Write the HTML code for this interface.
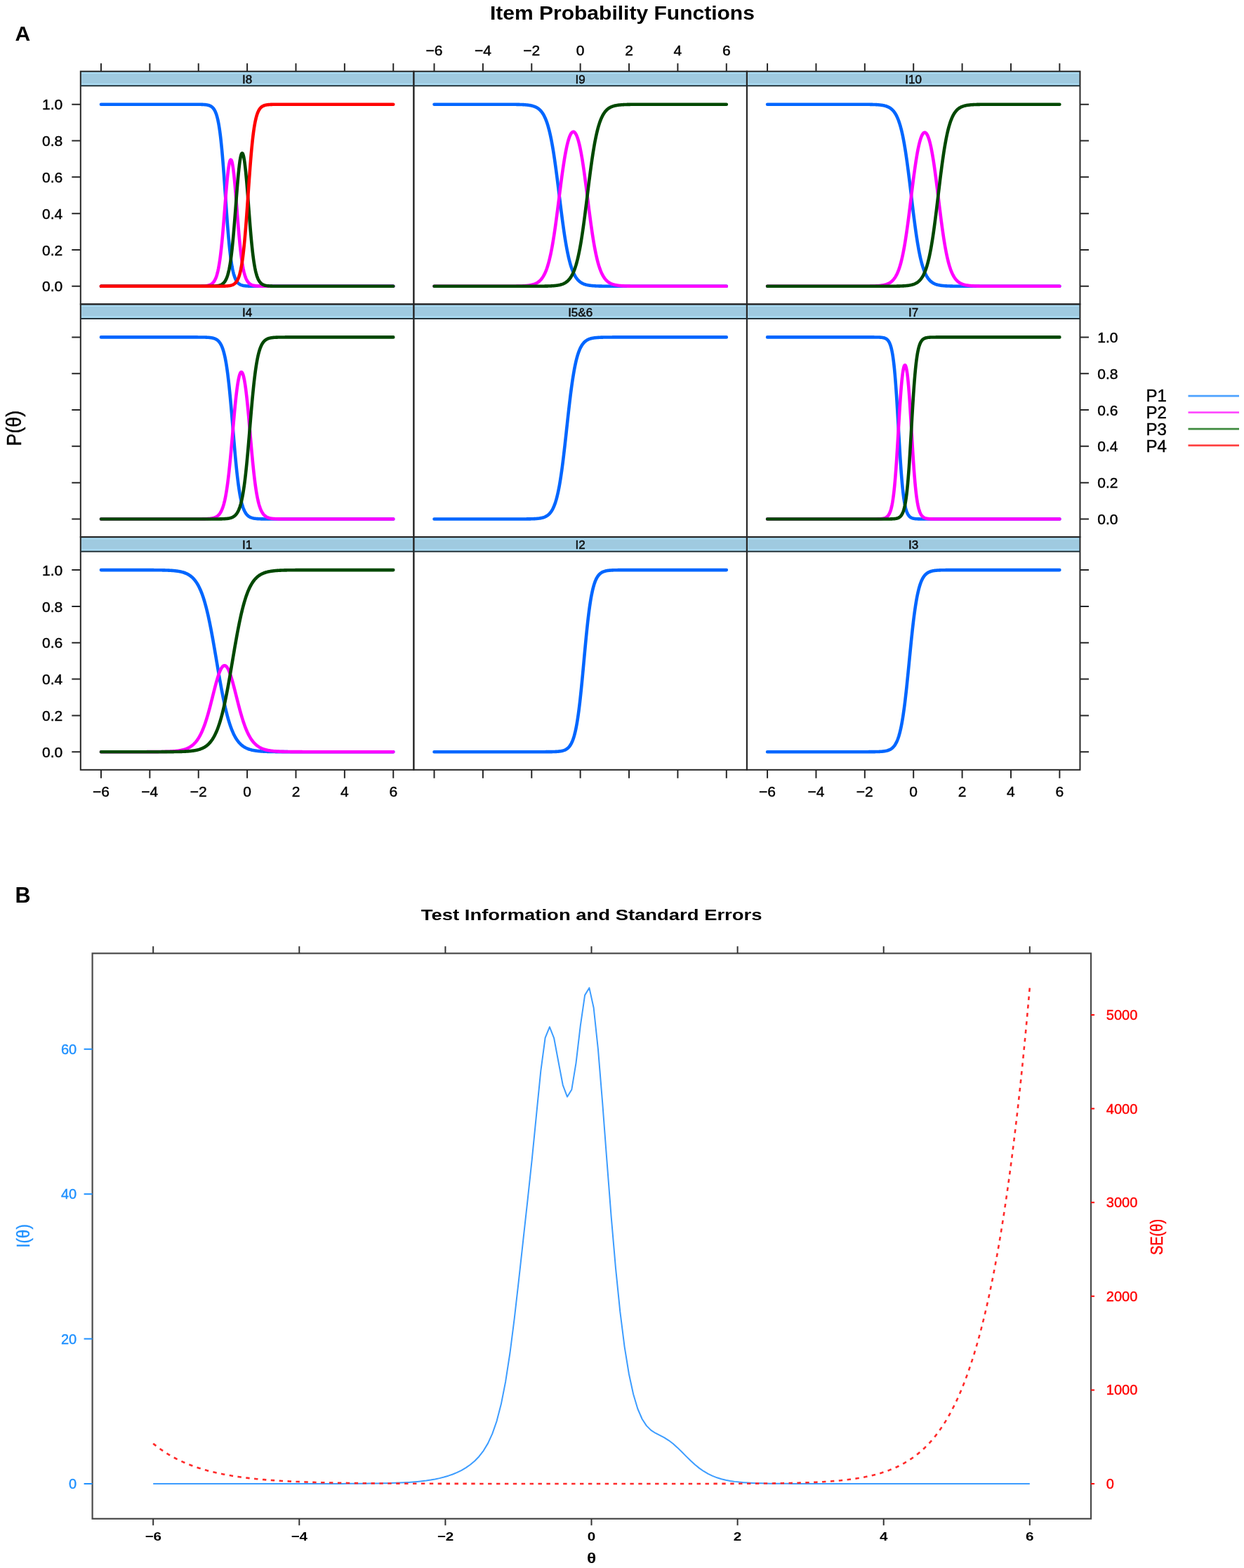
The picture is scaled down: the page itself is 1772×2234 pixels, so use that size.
<!DOCTYPE html>
<html><head><meta charset="utf-8"><title>Item Probability Functions</title>
<style>html,body{margin:0;padding:0;background:#fff;}svg{display:block;}</style></head>
<body><svg width="1772" height="2234" viewBox="0 0 1772 2234">
<rect width="1772" height="2234" fill="#fff"/>
<text x="21.6" y="57.7" font-family="'Liberation Sans', Arial, Helvetica, sans-serif" font-weight="bold" font-size="30">A</text>
<text x="697.9" y="27.7" font-family="'Liberation Sans', Arial, Helvetica, sans-serif" font-weight="bold" font-size="28" textLength="377" lengthAdjust="spacingAndGlyphs">Item Probability Functions</text>
<rect x="114.80" y="101.70" width="474.55" height="20.60" fill="#9fcae0"/>
<rect x="116.30" y="102.90" width="471.55" height="2.2" fill="#aadcf4"/>
<rect x="116.30" y="118.90" width="471.55" height="2.2" fill="#aadcf4"/>
<text x="352.07" y="119.00" font-family="'Liberation Sans', Arial, Helvetica, sans-serif" font-size="17" text-anchor="middle" fill="#111" stroke="#000" stroke-width="0.45">I8</text>
<polyline points="143.96,148.70 144.65,148.70 145.35,148.70 146.04,148.70 146.74,148.70 147.43,148.70 148.12,148.70 148.82,148.70 149.51,148.70 150.20,148.70 150.90,148.70 151.59,148.70 152.29,148.70 152.98,148.70 153.67,148.70 154.37,148.70 155.06,148.70 155.75,148.70 156.45,148.70 157.14,148.70 157.84,148.70 158.53,148.70 159.22,148.70 159.92,148.70 160.61,148.70 161.31,148.70 162.00,148.70 162.69,148.70 163.39,148.70 164.08,148.70 164.77,148.70 165.47,148.70 166.16,148.70 166.86,148.70 167.55,148.70 168.24,148.70 168.94,148.70 169.63,148.70 170.32,148.70 171.02,148.70 171.71,148.70 172.41,148.70 173.10,148.70 173.79,148.70 174.49,148.70 175.18,148.70 175.87,148.70 176.57,148.70 177.26,148.70 177.96,148.70 178.65,148.70 179.34,148.70 180.04,148.70 180.73,148.70 181.43,148.70 182.12,148.70 182.81,148.70 183.51,148.70 184.20,148.70 184.89,148.70 185.59,148.70 186.28,148.70 186.98,148.70 187.67,148.70 188.36,148.70 189.06,148.70 189.75,148.70 190.44,148.70 191.14,148.70 191.83,148.70 192.53,148.70 193.22,148.70 193.91,148.70 194.61,148.70 195.30,148.70 196.00,148.70 196.69,148.70 197.38,148.70 198.08,148.70 198.77,148.70 199.46,148.70 200.16,148.70 200.85,148.70 201.55,148.70 202.24,148.70 202.93,148.70 203.63,148.70 204.32,148.70 205.01,148.70 205.71,148.70 206.40,148.70 207.10,148.70 207.79,148.70 208.48,148.70 209.18,148.70 209.87,148.70 210.56,148.70 211.26,148.70 211.95,148.70 212.65,148.70 213.34,148.70 214.03,148.70 214.73,148.70 215.42,148.70 216.12,148.70 216.81,148.70 217.50,148.70 218.20,148.70 218.89,148.70 219.58,148.70 220.28,148.70 220.97,148.70 221.67,148.70 222.36,148.70 223.05,148.70 223.75,148.70 224.44,148.70 225.13,148.70 225.83,148.70 226.52,148.70 227.22,148.70 227.91,148.70 228.60,148.70 229.30,148.70 229.99,148.70 230.69,148.70 231.38,148.70 232.07,148.70 232.77,148.70 233.46,148.70 234.15,148.70 234.85,148.70 235.54,148.70 236.24,148.70 236.93,148.70 237.62,148.70 238.32,148.70 239.01,148.70 239.70,148.70 240.40,148.70 241.09,148.70 241.79,148.70 242.48,148.70 243.17,148.70 243.87,148.70 244.56,148.70 245.25,148.70 245.95,148.70 246.64,148.70 247.34,148.70 248.03,148.70 248.72,148.70 249.42,148.70 250.11,148.70 250.81,148.70 251.50,148.70 252.19,148.70 252.89,148.70 253.58,148.70 254.27,148.70 254.97,148.70 255.66,148.70 256.36,148.70 257.05,148.70 257.74,148.70 258.44,148.70 259.13,148.70 259.82,148.70 260.52,148.70 261.21,148.70 261.91,148.70 262.60,148.70 263.29,148.70 263.99,148.70 264.68,148.70 265.38,148.70 266.07,148.70 266.76,148.70 267.46,148.70 268.15,148.70 268.84,148.70 269.54,148.70 270.23,148.70 270.93,148.70 271.62,148.70 272.31,148.71 273.01,148.71 273.70,148.71 274.39,148.71 275.09,148.71 275.78,148.71 276.48,148.71 277.17,148.72 277.86,148.72 278.56,148.72 279.25,148.72 279.94,148.73 280.64,148.73 281.33,148.74 282.03,148.75 282.72,148.75 283.41,148.76 284.11,148.77 284.80,148.78 285.50,148.80 286.19,148.82 286.88,148.83 287.58,148.86 288.27,148.88 288.96,148.91 289.66,148.95 290.35,148.99 291.05,149.04 291.74,149.09 292.43,149.16 293.13,149.24 293.82,149.32 294.51,149.43 295.21,149.55 295.90,149.69 296.60,149.85 297.29,150.04 297.98,150.27 298.68,150.52 299.37,150.82 300.07,151.17 300.76,151.58 301.45,152.05 302.15,152.60 302.84,153.24 303.53,153.98 304.23,154.83 304.92,155.82 305.62,156.97 306.31,158.29 307.00,159.81 307.70,161.57 308.39,163.58 309.08,165.89 309.78,168.53 310.47,171.54 311.17,174.95 311.86,178.80 312.55,183.14 313.25,187.99 313.94,193.39 314.63,199.37 315.33,205.92 316.02,213.07 316.72,220.79 317.41,229.05 318.10,237.81 318.80,247.00 319.49,256.53 320.19,266.32 320.88,276.24 321.57,286.18 322.27,296.04 322.96,305.68 323.65,315.02 324.35,323.96 325.04,332.43 325.74,340.38 326.43,347.76 327.12,354.55 327.82,360.76 328.51,366.39 329.20,371.47 329.90,376.01 330.59,380.05 331.29,383.64 331.98,386.80 332.67,389.58 333.37,392.02 334.06,394.15 334.75,396.01 335.45,397.62 336.14,399.02 336.84,400.24 337.53,401.29 338.22,402.19 338.92,402.98 339.61,403.65 340.31,404.24 341.00,404.74 341.69,405.17 342.39,405.54 343.08,405.86 343.77,406.14 344.47,406.37 345.16,406.57 345.86,406.75 346.55,406.90 347.24,407.03 347.94,407.14 348.63,407.23 349.32,407.31 350.02,407.38 350.71,407.44 351.41,407.49 352.10,407.54 352.79,407.57 353.49,407.61 354.18,407.63 354.88,407.66 355.57,407.68 356.26,407.69 356.96,407.71 357.65,407.72 358.34,407.73 359.04,407.74 359.73,407.75 360.43,407.76 361.12,407.76 361.81,407.77 362.51,407.77 363.20,407.78 363.89,407.78 364.59,407.78 365.28,407.79 365.98,407.79 366.67,407.79 367.36,407.79 368.06,407.79 368.75,407.79 369.45,407.79 370.14,407.80 370.83,407.80 371.53,407.80 372.22,407.80 372.91,407.80 373.61,407.80 374.30,407.80 375.00,407.80 375.69,407.80 376.38,407.80 377.08,407.80 377.77,407.80 378.46,407.80 379.16,407.80 379.85,407.80 380.55,407.80 381.24,407.80 381.93,407.80 382.63,407.80 383.32,407.80 384.01,407.80 384.71,407.80 385.40,407.80 386.10,407.80 386.79,407.80 387.48,407.80 388.18,407.80 388.87,407.80 389.57,407.80 390.26,407.80 390.95,407.80 391.65,407.80 392.34,407.80 393.03,407.80 393.73,407.80 394.42,407.80 395.12,407.80 395.81,407.80 396.50,407.80 397.20,407.80 397.89,407.80 398.58,407.80 399.28,407.80 399.97,407.80 400.67,407.80 401.36,407.80 402.05,407.80 402.75,407.80 403.44,407.80 404.13,407.80 404.83,407.80 405.52,407.80 406.22,407.80 406.91,407.80 407.60,407.80 408.30,407.80 408.99,407.80 409.69,407.80 410.38,407.80 411.07,407.80 411.77,407.80 412.46,407.80 413.15,407.80 413.85,407.80 414.54,407.80 415.24,407.80 415.93,407.80 416.62,407.80 417.32,407.80 418.01,407.80 418.70,407.80 419.40,407.80 420.09,407.80 420.79,407.80 421.48,407.80 422.17,407.80 422.87,407.80 423.56,407.80 424.26,407.80 424.95,407.80 425.64,407.80 426.34,407.80 427.03,407.80 427.72,407.80 428.42,407.80 429.11,407.80 429.81,407.80 430.50,407.80 431.19,407.80 431.89,407.80 432.58,407.80 433.27,407.80 433.97,407.80 434.66,407.80 435.36,407.80 436.05,407.80 436.74,407.80 437.44,407.80 438.13,407.80 438.83,407.80 439.52,407.80 440.21,407.80 440.91,407.80 441.60,407.80 442.29,407.80 442.99,407.80 443.68,407.80 444.38,407.80 445.07,407.80 445.76,407.80 446.46,407.80 447.15,407.80 447.84,407.80 448.54,407.80 449.23,407.80 449.93,407.80 450.62,407.80 451.31,407.80 452.01,407.80 452.70,407.80 453.39,407.80 454.09,407.80 454.78,407.80 455.48,407.80 456.17,407.80 456.86,407.80 457.56,407.80 458.25,407.80 458.95,407.80 459.64,407.80 460.33,407.80 461.03,407.80 461.72,407.80 462.41,407.80 463.11,407.80 463.80,407.80 464.50,407.80 465.19,407.80 465.88,407.80 466.58,407.80 467.27,407.80 467.96,407.80 468.66,407.80 469.35,407.80 470.05,407.80 470.74,407.80 471.43,407.80 472.13,407.80 472.82,407.80 473.51,407.80 474.21,407.80 474.90,407.80 475.60,407.80 476.29,407.80 476.98,407.80 477.68,407.80 478.37,407.80 479.07,407.80 479.76,407.80 480.45,407.80 481.15,407.80 481.84,407.80 482.53,407.80 483.23,407.80 483.92,407.80 484.62,407.80 485.31,407.80 486.00,407.80 486.70,407.80 487.39,407.80 488.08,407.80 488.78,407.80 489.47,407.80 490.17,407.80 490.86,407.80 491.55,407.80 492.25,407.80 492.94,407.80 493.64,407.80 494.33,407.80 495.02,407.80 495.72,407.80 496.41,407.80 497.10,407.80 497.80,407.80 498.49,407.80 499.19,407.80 499.88,407.80 500.57,407.80 501.27,407.80 501.96,407.80 502.65,407.80 503.35,407.80 504.04,407.80 504.74,407.80 505.43,407.80 506.12,407.80 506.82,407.80 507.51,407.80 508.21,407.80 508.90,407.80 509.59,407.80 510.29,407.80 510.98,407.80 511.67,407.80 512.37,407.80 513.06,407.80 513.76,407.80 514.45,407.80 515.14,407.80 515.84,407.80 516.53,407.80 517.22,407.80 517.92,407.80 518.61,407.80 519.31,407.80 520.00,407.80 520.69,407.80 521.39,407.80 522.08,407.80 522.77,407.80 523.47,407.80 524.16,407.80 524.86,407.80 525.55,407.80 526.24,407.80 526.94,407.80 527.63,407.80 528.33,407.80 529.02,407.80 529.71,407.80 530.41,407.80 531.10,407.80 531.79,407.80 532.49,407.80 533.18,407.80 533.88,407.80 534.57,407.80 535.26,407.80 535.96,407.80 536.65,407.80 537.34,407.80 538.04,407.80 538.73,407.80 539.43,407.80 540.12,407.80 540.81,407.80 541.51,407.80 542.20,407.80 542.89,407.80 543.59,407.80 544.28,407.80 544.98,407.80 545.67,407.80 546.36,407.80 547.06,407.80 547.75,407.80 548.45,407.80 549.14,407.80 549.83,407.80 550.53,407.80 551.22,407.80 551.91,407.80 552.61,407.80 553.30,407.80 554.00,407.80 554.69,407.80 555.38,407.80 556.08,407.80 556.77,407.80 557.46,407.80 558.16,407.80 558.85,407.80 559.55,407.80 560.24,407.80" fill="none" stroke="#0066ff" stroke-width="4.6" stroke-linecap="round" stroke-linejoin="round"/>
<polyline points="143.96,407.80 144.65,407.80 145.35,407.80 146.04,407.80 146.74,407.80 147.43,407.80 148.12,407.80 148.82,407.80 149.51,407.80 150.20,407.80 150.90,407.80 151.59,407.80 152.29,407.80 152.98,407.80 153.67,407.80 154.37,407.80 155.06,407.80 155.75,407.80 156.45,407.80 157.14,407.80 157.84,407.80 158.53,407.80 159.22,407.80 159.92,407.80 160.61,407.80 161.31,407.80 162.00,407.80 162.69,407.80 163.39,407.80 164.08,407.80 164.77,407.80 165.47,407.80 166.16,407.80 166.86,407.80 167.55,407.80 168.24,407.80 168.94,407.80 169.63,407.80 170.32,407.80 171.02,407.80 171.71,407.80 172.41,407.80 173.10,407.80 173.79,407.80 174.49,407.80 175.18,407.80 175.87,407.80 176.57,407.80 177.26,407.80 177.96,407.80 178.65,407.80 179.34,407.80 180.04,407.80 180.73,407.80 181.43,407.80 182.12,407.80 182.81,407.80 183.51,407.80 184.20,407.80 184.89,407.80 185.59,407.80 186.28,407.80 186.98,407.80 187.67,407.80 188.36,407.80 189.06,407.80 189.75,407.80 190.44,407.80 191.14,407.80 191.83,407.80 192.53,407.80 193.22,407.80 193.91,407.80 194.61,407.80 195.30,407.80 196.00,407.80 196.69,407.80 197.38,407.80 198.08,407.80 198.77,407.80 199.46,407.80 200.16,407.80 200.85,407.80 201.55,407.80 202.24,407.80 202.93,407.80 203.63,407.80 204.32,407.80 205.01,407.80 205.71,407.80 206.40,407.80 207.10,407.80 207.79,407.80 208.48,407.80 209.18,407.80 209.87,407.80 210.56,407.80 211.26,407.80 211.95,407.80 212.65,407.80 213.34,407.80 214.03,407.80 214.73,407.80 215.42,407.80 216.12,407.80 216.81,407.80 217.50,407.80 218.20,407.80 218.89,407.80 219.58,407.80 220.28,407.80 220.97,407.80 221.67,407.80 222.36,407.80 223.05,407.80 223.75,407.80 224.44,407.80 225.13,407.80 225.83,407.80 226.52,407.80 227.22,407.80 227.91,407.80 228.60,407.80 229.30,407.80 229.99,407.80 230.69,407.80 231.38,407.80 232.07,407.80 232.77,407.80 233.46,407.80 234.15,407.80 234.85,407.80 235.54,407.80 236.24,407.80 236.93,407.80 237.62,407.80 238.32,407.80 239.01,407.80 239.70,407.80 240.40,407.80 241.09,407.80 241.79,407.80 242.48,407.80 243.17,407.80 243.87,407.80 244.56,407.80 245.25,407.80 245.95,407.80 246.64,407.80 247.34,407.80 248.03,407.80 248.72,407.80 249.42,407.80 250.11,407.80 250.81,407.80 251.50,407.80 252.19,407.80 252.89,407.80 253.58,407.80 254.27,407.80 254.97,407.80 255.66,407.80 256.36,407.80 257.05,407.80 257.74,407.80 258.44,407.80 259.13,407.80 259.82,407.80 260.52,407.80 261.21,407.80 261.91,407.80 262.60,407.80 263.29,407.80 263.99,407.80 264.68,407.80 265.38,407.80 266.07,407.80 266.76,407.80 267.46,407.80 268.15,407.80 268.84,407.80 269.54,407.80 270.23,407.80 270.93,407.80 271.62,407.80 272.31,407.79 273.01,407.79 273.70,407.79 274.39,407.79 275.09,407.79 275.78,407.79 276.48,407.79 277.17,407.78 277.86,407.78 278.56,407.78 279.25,407.78 279.94,407.77 280.64,407.77 281.33,407.76 282.03,407.76 282.72,407.75 283.41,407.74 284.11,407.73 284.80,407.72 285.50,407.70 286.19,407.69 286.88,407.67 287.58,407.65 288.27,407.62 288.96,407.59 289.66,407.56 290.35,407.52 291.05,407.47 291.74,407.42 292.43,407.36 293.13,407.28 293.82,407.20 294.51,407.10 295.21,406.98 295.90,406.84 296.60,406.68 297.29,406.50 297.98,406.29 298.68,406.04 299.37,405.75 300.07,405.41 300.76,405.01 301.45,404.56 302.15,404.03 302.84,403.41 303.53,402.70 304.23,401.87 304.92,400.91 305.62,399.81 306.31,398.53 307.00,397.06 307.70,395.37 308.39,393.42 309.08,391.20 309.78,388.66 310.47,385.77 311.17,382.49 311.86,378.79 312.55,374.63 313.25,369.99 313.94,364.83 314.63,359.14 315.33,352.92 316.02,346.16 316.72,338.88 317.41,331.14 318.10,322.98 318.80,314.50 319.49,305.77 320.19,296.93 320.88,288.09 321.57,279.40 322.27,271.00 322.96,263.02 323.65,255.60 324.35,248.85 325.04,242.90 325.74,237.82 326.43,233.70 327.12,230.59 327.82,228.54 328.51,227.57 329.20,227.70 329.90,228.92 330.59,231.22 331.29,234.57 331.98,238.92 332.67,244.20 333.37,250.35 334.06,257.26 334.75,264.83 335.45,272.92 336.14,281.40 336.84,290.14 337.53,298.99 338.22,307.81 338.92,316.49 339.61,324.91 340.31,332.98 341.00,340.62 341.69,347.77 342.39,354.41 343.08,360.51 343.77,366.08 344.47,371.11 345.16,375.64 345.86,379.69 346.55,383.29 347.24,386.47 347.94,389.28 348.63,391.74 349.32,393.90 350.02,395.78 350.71,397.42 351.41,398.84 352.10,400.08 352.79,401.15 353.49,402.07 354.18,402.87 354.88,403.56 355.57,404.16 356.26,404.67 356.96,405.11 357.65,405.49 358.34,405.82 359.04,406.10 359.73,406.34 360.43,406.55 361.12,406.72 361.81,406.88 362.51,407.01 363.20,407.12 363.89,407.22 364.59,407.30 365.28,407.37 365.98,407.43 366.67,407.48 367.36,407.53 368.06,407.57 368.75,407.60 369.45,407.63 370.14,407.65 370.83,407.67 371.53,407.69 372.22,407.71 372.91,407.72 373.61,407.73 374.30,407.74 375.00,407.75 375.69,407.76 376.38,407.76 377.08,407.77 377.77,407.77 378.46,407.78 379.16,407.78 379.85,407.78 380.55,407.79 381.24,407.79 381.93,407.79 382.63,407.79 383.32,407.79 384.01,407.79 384.71,407.79 385.40,407.80 386.10,407.80 386.79,407.80 387.48,407.80 388.18,407.80 388.87,407.80 389.57,407.80 390.26,407.80 390.95,407.80 391.65,407.80 392.34,407.80 393.03,407.80 393.73,407.80 394.42,407.80 395.12,407.80 395.81,407.80 396.50,407.80 397.20,407.80 397.89,407.80 398.58,407.80 399.28,407.80 399.97,407.80 400.67,407.80 401.36,407.80 402.05,407.80 402.75,407.80 403.44,407.80 404.13,407.80 404.83,407.80 405.52,407.80 406.22,407.80 406.91,407.80 407.60,407.80 408.30,407.80 408.99,407.80 409.69,407.80 410.38,407.80 411.07,407.80 411.77,407.80 412.46,407.80 413.15,407.80 413.85,407.80 414.54,407.80 415.24,407.80 415.93,407.80 416.62,407.80 417.32,407.80 418.01,407.80 418.70,407.80 419.40,407.80 420.09,407.80 420.79,407.80 421.48,407.80 422.17,407.80 422.87,407.80 423.56,407.80 424.26,407.80 424.95,407.80 425.64,407.80 426.34,407.80 427.03,407.80 427.72,407.80 428.42,407.80 429.11,407.80 429.81,407.80 430.50,407.80 431.19,407.80 431.89,407.80 432.58,407.80 433.27,407.80 433.97,407.80 434.66,407.80 435.36,407.80 436.05,407.80 436.74,407.80 437.44,407.80 438.13,407.80 438.83,407.80 439.52,407.80 440.21,407.80 440.91,407.80 441.60,407.80 442.29,407.80 442.99,407.80 443.68,407.80 444.38,407.80 445.07,407.80 445.76,407.80 446.46,407.80 447.15,407.80 447.84,407.80 448.54,407.80 449.23,407.80 449.93,407.80 450.62,407.80 451.31,407.80 452.01,407.80 452.70,407.80 453.39,407.80 454.09,407.80 454.78,407.80 455.48,407.80 456.17,407.80 456.86,407.80 457.56,407.80 458.25,407.80 458.95,407.80 459.64,407.80 460.33,407.80 461.03,407.80 461.72,407.80 462.41,407.80 463.11,407.80 463.80,407.80 464.50,407.80 465.19,407.80 465.88,407.80 466.58,407.80 467.27,407.80 467.96,407.80 468.66,407.80 469.35,407.80 470.05,407.80 470.74,407.80 471.43,407.80 472.13,407.80 472.82,407.80 473.51,407.80 474.21,407.80 474.90,407.80 475.60,407.80 476.29,407.80 476.98,407.80 477.68,407.80 478.37,407.80 479.07,407.80 479.76,407.80 480.45,407.80 481.15,407.80 481.84,407.80 482.53,407.80 483.23,407.80 483.92,407.80 484.62,407.80 485.31,407.80 486.00,407.80 486.70,407.80 487.39,407.80 488.08,407.80 488.78,407.80 489.47,407.80 490.17,407.80 490.86,407.80 491.55,407.80 492.25,407.80 492.94,407.80 493.64,407.80 494.33,407.80 495.02,407.80 495.72,407.80 496.41,407.80 497.10,407.80 497.80,407.80 498.49,407.80 499.19,407.80 499.88,407.80 500.57,407.80 501.27,407.80 501.96,407.80 502.65,407.80 503.35,407.80 504.04,407.80 504.74,407.80 505.43,407.80 506.12,407.80 506.82,407.80 507.51,407.80 508.21,407.80 508.90,407.80 509.59,407.80 510.29,407.80 510.98,407.80 511.67,407.80 512.37,407.80 513.06,407.80 513.76,407.80 514.45,407.80 515.14,407.80 515.84,407.80 516.53,407.80 517.22,407.80 517.92,407.80 518.61,407.80 519.31,407.80 520.00,407.80 520.69,407.80 521.39,407.80 522.08,407.80 522.77,407.80 523.47,407.80 524.16,407.80 524.86,407.80 525.55,407.80 526.24,407.80 526.94,407.80 527.63,407.80 528.33,407.80 529.02,407.80 529.71,407.80 530.41,407.80 531.10,407.80 531.79,407.80 532.49,407.80 533.18,407.80 533.88,407.80 534.57,407.80 535.26,407.80 535.96,407.80 536.65,407.80 537.34,407.80 538.04,407.80 538.73,407.80 539.43,407.80 540.12,407.80 540.81,407.80 541.51,407.80 542.20,407.80 542.89,407.80 543.59,407.80 544.28,407.80 544.98,407.80 545.67,407.80 546.36,407.80 547.06,407.80 547.75,407.80 548.45,407.80 549.14,407.80 549.83,407.80 550.53,407.80 551.22,407.80 551.91,407.80 552.61,407.80 553.30,407.80 554.00,407.80 554.69,407.80 555.38,407.80 556.08,407.80 556.77,407.80 557.46,407.80 558.16,407.80 558.85,407.80 559.55,407.80 560.24,407.80" fill="none" stroke="#ff00ff" stroke-width="4.6" stroke-linecap="round" stroke-linejoin="round"/>
<polyline points="143.96,407.80 144.65,407.80 145.35,407.80 146.04,407.80 146.74,407.80 147.43,407.80 148.12,407.80 148.82,407.80 149.51,407.80 150.20,407.80 150.90,407.80 151.59,407.80 152.29,407.80 152.98,407.80 153.67,407.80 154.37,407.80 155.06,407.80 155.75,407.80 156.45,407.80 157.14,407.80 157.84,407.80 158.53,407.80 159.22,407.80 159.92,407.80 160.61,407.80 161.31,407.80 162.00,407.80 162.69,407.80 163.39,407.80 164.08,407.80 164.77,407.80 165.47,407.80 166.16,407.80 166.86,407.80 167.55,407.80 168.24,407.80 168.94,407.80 169.63,407.80 170.32,407.80 171.02,407.80 171.71,407.80 172.41,407.80 173.10,407.80 173.79,407.80 174.49,407.80 175.18,407.80 175.87,407.80 176.57,407.80 177.26,407.80 177.96,407.80 178.65,407.80 179.34,407.80 180.04,407.80 180.73,407.80 181.43,407.80 182.12,407.80 182.81,407.80 183.51,407.80 184.20,407.80 184.89,407.80 185.59,407.80 186.28,407.80 186.98,407.80 187.67,407.80 188.36,407.80 189.06,407.80 189.75,407.80 190.44,407.80 191.14,407.80 191.83,407.80 192.53,407.80 193.22,407.80 193.91,407.80 194.61,407.80 195.30,407.80 196.00,407.80 196.69,407.80 197.38,407.80 198.08,407.80 198.77,407.80 199.46,407.80 200.16,407.80 200.85,407.80 201.55,407.80 202.24,407.80 202.93,407.80 203.63,407.80 204.32,407.80 205.01,407.80 205.71,407.80 206.40,407.80 207.10,407.80 207.79,407.80 208.48,407.80 209.18,407.80 209.87,407.80 210.56,407.80 211.26,407.80 211.95,407.80 212.65,407.80 213.34,407.80 214.03,407.80 214.73,407.80 215.42,407.80 216.12,407.80 216.81,407.80 217.50,407.80 218.20,407.80 218.89,407.80 219.58,407.80 220.28,407.80 220.97,407.80 221.67,407.80 222.36,407.80 223.05,407.80 223.75,407.80 224.44,407.80 225.13,407.80 225.83,407.80 226.52,407.80 227.22,407.80 227.91,407.80 228.60,407.80 229.30,407.80 229.99,407.80 230.69,407.80 231.38,407.80 232.07,407.80 232.77,407.80 233.46,407.80 234.15,407.80 234.85,407.80 235.54,407.80 236.24,407.80 236.93,407.80 237.62,407.80 238.32,407.80 239.01,407.80 239.70,407.80 240.40,407.80 241.09,407.80 241.79,407.80 242.48,407.80 243.17,407.80 243.87,407.80 244.56,407.80 245.25,407.80 245.95,407.80 246.64,407.80 247.34,407.80 248.03,407.80 248.72,407.80 249.42,407.80 250.11,407.80 250.81,407.80 251.50,407.80 252.19,407.80 252.89,407.80 253.58,407.80 254.27,407.80 254.97,407.80 255.66,407.80 256.36,407.80 257.05,407.80 257.74,407.80 258.44,407.80 259.13,407.80 259.82,407.80 260.52,407.80 261.21,407.80 261.91,407.80 262.60,407.80 263.29,407.80 263.99,407.80 264.68,407.80 265.38,407.80 266.07,407.80 266.76,407.80 267.46,407.80 268.15,407.80 268.84,407.80 269.54,407.80 270.23,407.80 270.93,407.80 271.62,407.80 272.31,407.80 273.01,407.80 273.70,407.80 274.39,407.80 275.09,407.80 275.78,407.80 276.48,407.80 277.17,407.80 277.86,407.80 278.56,407.80 279.25,407.80 279.94,407.80 280.64,407.80 281.33,407.80 282.03,407.80 282.72,407.80 283.41,407.80 284.11,407.80 284.80,407.80 285.50,407.80 286.19,407.80 286.88,407.80 287.58,407.80 288.27,407.79 288.96,407.79 289.66,407.79 290.35,407.79 291.05,407.79 291.74,407.79 292.43,407.79 293.13,407.78 293.82,407.78 294.51,407.78 295.21,407.77 295.90,407.77 296.60,407.76 297.29,407.76 297.98,407.75 298.68,407.74 299.37,407.73 300.07,407.72 300.76,407.71 301.45,407.69 302.15,407.68 302.84,407.66 303.53,407.63 304.23,407.60 304.92,407.57 305.62,407.53 306.31,407.49 307.00,407.44 307.70,407.38 308.39,407.31 309.08,407.22 309.78,407.13 310.47,407.02 311.17,406.89 311.86,406.74 312.55,406.56 313.25,406.36 313.94,406.12 314.63,405.84 315.33,405.52 316.02,405.14 316.72,404.71 317.41,404.20 318.10,403.61 318.80,402.93 319.49,402.14 320.19,401.22 320.88,400.16 321.57,398.94 322.27,397.53 322.96,395.90 323.65,394.04 324.35,391.90 325.04,389.45 325.74,386.67 326.43,383.50 327.12,379.93 327.82,375.90 328.51,371.38 329.20,366.36 329.90,360.80 330.59,354.69 331.29,348.03 331.98,340.83 332.67,333.13 333.37,324.98 334.06,316.43 334.75,307.59 335.45,298.56 336.14,289.46 336.84,280.41 337.53,271.55 338.22,263.03 338.92,254.96 339.61,247.47 340.31,240.67 341.00,234.65 341.69,229.49 342.39,225.25 343.08,221.98 343.77,219.71 344.47,218.46 345.16,218.26 345.86,219.09 346.55,220.95 347.24,223.83 347.94,227.69 348.63,232.49 349.32,238.18 350.02,244.68 350.71,251.91 351.41,259.76 352.10,268.12 352.79,276.86 353.49,285.84 354.18,294.94 354.88,304.02 355.57,312.95 356.26,321.62 356.96,329.94 357.65,337.83 358.34,345.23 359.04,352.10 359.73,358.43 360.43,364.21 361.12,369.45 361.81,374.16 362.51,378.38 363.20,382.13 363.89,385.46 364.59,388.39 365.28,390.97 365.98,393.22 366.67,395.19 367.36,396.91 368.06,398.40 368.75,399.70 369.45,400.82 370.14,401.79 370.83,402.63 371.53,403.35 372.22,403.98 372.91,404.51 373.61,404.98 374.30,405.37 375.00,405.72 375.69,406.01 376.38,406.26 377.08,406.48 377.77,406.67 378.46,406.83 379.16,406.97 379.85,407.09 380.55,407.19 381.24,407.27 381.93,407.35 382.63,407.41 383.32,407.47 384.01,407.52 384.71,407.56 385.40,407.59 386.10,407.62 386.79,407.65 387.48,407.67 388.18,407.69 388.87,407.70 389.57,407.72 390.26,407.73 390.95,407.74 391.65,407.75 392.34,407.75 393.03,407.76 393.73,407.77 394.42,407.77 395.12,407.78 395.81,407.78 396.50,407.78 397.20,407.78 397.89,407.79 398.58,407.79 399.28,407.79 399.97,407.79 400.67,407.79 401.36,407.79 402.05,407.79 402.75,407.80 403.44,407.80 404.13,407.80 404.83,407.80 405.52,407.80 406.22,407.80 406.91,407.80 407.60,407.80 408.30,407.80 408.99,407.80 409.69,407.80 410.38,407.80 411.07,407.80 411.77,407.80 412.46,407.80 413.15,407.80 413.85,407.80 414.54,407.80 415.24,407.80 415.93,407.80 416.62,407.80 417.32,407.80 418.01,407.80 418.70,407.80 419.40,407.80 420.09,407.80 420.79,407.80 421.48,407.80 422.17,407.80 422.87,407.80 423.56,407.80 424.26,407.80 424.95,407.80 425.64,407.80 426.34,407.80 427.03,407.80 427.72,407.80 428.42,407.80 429.11,407.80 429.81,407.80 430.50,407.80 431.19,407.80 431.89,407.80 432.58,407.80 433.27,407.80 433.97,407.80 434.66,407.80 435.36,407.80 436.05,407.80 436.74,407.80 437.44,407.80 438.13,407.80 438.83,407.80 439.52,407.80 440.21,407.80 440.91,407.80 441.60,407.80 442.29,407.80 442.99,407.80 443.68,407.80 444.38,407.80 445.07,407.80 445.76,407.80 446.46,407.80 447.15,407.80 447.84,407.80 448.54,407.80 449.23,407.80 449.93,407.80 450.62,407.80 451.31,407.80 452.01,407.80 452.70,407.80 453.39,407.80 454.09,407.80 454.78,407.80 455.48,407.80 456.17,407.80 456.86,407.80 457.56,407.80 458.25,407.80 458.95,407.80 459.64,407.80 460.33,407.80 461.03,407.80 461.72,407.80 462.41,407.80 463.11,407.80 463.80,407.80 464.50,407.80 465.19,407.80 465.88,407.80 466.58,407.80 467.27,407.80 467.96,407.80 468.66,407.80 469.35,407.80 470.05,407.80 470.74,407.80 471.43,407.80 472.13,407.80 472.82,407.80 473.51,407.80 474.21,407.80 474.90,407.80 475.60,407.80 476.29,407.80 476.98,407.80 477.68,407.80 478.37,407.80 479.07,407.80 479.76,407.80 480.45,407.80 481.15,407.80 481.84,407.80 482.53,407.80 483.23,407.80 483.92,407.80 484.62,407.80 485.31,407.80 486.00,407.80 486.70,407.80 487.39,407.80 488.08,407.80 488.78,407.80 489.47,407.80 490.17,407.80 490.86,407.80 491.55,407.80 492.25,407.80 492.94,407.80 493.64,407.80 494.33,407.80 495.02,407.80 495.72,407.80 496.41,407.80 497.10,407.80 497.80,407.80 498.49,407.80 499.19,407.80 499.88,407.80 500.57,407.80 501.27,407.80 501.96,407.80 502.65,407.80 503.35,407.80 504.04,407.80 504.74,407.80 505.43,407.80 506.12,407.80 506.82,407.80 507.51,407.80 508.21,407.80 508.90,407.80 509.59,407.80 510.29,407.80 510.98,407.80 511.67,407.80 512.37,407.80 513.06,407.80 513.76,407.80 514.45,407.80 515.14,407.80 515.84,407.80 516.53,407.80 517.22,407.80 517.92,407.80 518.61,407.80 519.31,407.80 520.00,407.80 520.69,407.80 521.39,407.80 522.08,407.80 522.77,407.80 523.47,407.80 524.16,407.80 524.86,407.80 525.55,407.80 526.24,407.80 526.94,407.80 527.63,407.80 528.33,407.80 529.02,407.80 529.71,407.80 530.41,407.80 531.10,407.80 531.79,407.80 532.49,407.80 533.18,407.80 533.88,407.80 534.57,407.80 535.26,407.80 535.96,407.80 536.65,407.80 537.34,407.80 538.04,407.80 538.73,407.80 539.43,407.80 540.12,407.80 540.81,407.80 541.51,407.80 542.20,407.80 542.89,407.80 543.59,407.80 544.28,407.80 544.98,407.80 545.67,407.80 546.36,407.80 547.06,407.80 547.75,407.80 548.45,407.80 549.14,407.80 549.83,407.80 550.53,407.80 551.22,407.80 551.91,407.80 552.61,407.80 553.30,407.80 554.00,407.80 554.69,407.80 555.38,407.80 556.08,407.80 556.77,407.80 557.46,407.80 558.16,407.80 558.85,407.80 559.55,407.80 560.24,407.80" fill="none" stroke="#004800" stroke-width="4.6" stroke-linecap="round" stroke-linejoin="round"/>
<polyline points="143.96,407.80 144.65,407.80 145.35,407.80 146.04,407.80 146.74,407.80 147.43,407.80 148.12,407.80 148.82,407.80 149.51,407.80 150.20,407.80 150.90,407.80 151.59,407.80 152.29,407.80 152.98,407.80 153.67,407.80 154.37,407.80 155.06,407.80 155.75,407.80 156.45,407.80 157.14,407.80 157.84,407.80 158.53,407.80 159.22,407.80 159.92,407.80 160.61,407.80 161.31,407.80 162.00,407.80 162.69,407.80 163.39,407.80 164.08,407.80 164.77,407.80 165.47,407.80 166.16,407.80 166.86,407.80 167.55,407.80 168.24,407.80 168.94,407.80 169.63,407.80 170.32,407.80 171.02,407.80 171.71,407.80 172.41,407.80 173.10,407.80 173.79,407.80 174.49,407.80 175.18,407.80 175.87,407.80 176.57,407.80 177.26,407.80 177.96,407.80 178.65,407.80 179.34,407.80 180.04,407.80 180.73,407.80 181.43,407.80 182.12,407.80 182.81,407.80 183.51,407.80 184.20,407.80 184.89,407.80 185.59,407.80 186.28,407.80 186.98,407.80 187.67,407.80 188.36,407.80 189.06,407.80 189.75,407.80 190.44,407.80 191.14,407.80 191.83,407.80 192.53,407.80 193.22,407.80 193.91,407.80 194.61,407.80 195.30,407.80 196.00,407.80 196.69,407.80 197.38,407.80 198.08,407.80 198.77,407.80 199.46,407.80 200.16,407.80 200.85,407.80 201.55,407.80 202.24,407.80 202.93,407.80 203.63,407.80 204.32,407.80 205.01,407.80 205.71,407.80 206.40,407.80 207.10,407.80 207.79,407.80 208.48,407.80 209.18,407.80 209.87,407.80 210.56,407.80 211.26,407.80 211.95,407.80 212.65,407.80 213.34,407.80 214.03,407.80 214.73,407.80 215.42,407.80 216.12,407.80 216.81,407.80 217.50,407.80 218.20,407.80 218.89,407.80 219.58,407.80 220.28,407.80 220.97,407.80 221.67,407.80 222.36,407.80 223.05,407.80 223.75,407.80 224.44,407.80 225.13,407.80 225.83,407.80 226.52,407.80 227.22,407.80 227.91,407.80 228.60,407.80 229.30,407.80 229.99,407.80 230.69,407.80 231.38,407.80 232.07,407.80 232.77,407.80 233.46,407.80 234.15,407.80 234.85,407.80 235.54,407.80 236.24,407.80 236.93,407.80 237.62,407.80 238.32,407.80 239.01,407.80 239.70,407.80 240.40,407.80 241.09,407.80 241.79,407.80 242.48,407.80 243.17,407.80 243.87,407.80 244.56,407.80 245.25,407.80 245.95,407.80 246.64,407.80 247.34,407.80 248.03,407.80 248.72,407.80 249.42,407.80 250.11,407.80 250.81,407.80 251.50,407.80 252.19,407.80 252.89,407.80 253.58,407.80 254.27,407.80 254.97,407.80 255.66,407.80 256.36,407.80 257.05,407.80 257.74,407.80 258.44,407.80 259.13,407.80 259.82,407.80 260.52,407.80 261.21,407.80 261.91,407.80 262.60,407.80 263.29,407.80 263.99,407.80 264.68,407.80 265.38,407.80 266.07,407.80 266.76,407.80 267.46,407.80 268.15,407.80 268.84,407.80 269.54,407.80 270.23,407.80 270.93,407.80 271.62,407.80 272.31,407.80 273.01,407.80 273.70,407.80 274.39,407.80 275.09,407.80 275.78,407.80 276.48,407.80 277.17,407.80 277.86,407.80 278.56,407.80 279.25,407.80 279.94,407.80 280.64,407.80 281.33,407.80 282.03,407.80 282.72,407.80 283.41,407.80 284.11,407.80 284.80,407.80 285.50,407.80 286.19,407.80 286.88,407.80 287.58,407.80 288.27,407.80 288.96,407.80 289.66,407.80 290.35,407.80 291.05,407.80 291.74,407.80 292.43,407.80 293.13,407.80 293.82,407.80 294.51,407.80 295.21,407.80 295.90,407.80 296.60,407.80 297.29,407.80 297.98,407.80 298.68,407.80 299.37,407.80 300.07,407.80 300.76,407.80 301.45,407.80 302.15,407.80 302.84,407.80 303.53,407.80 304.23,407.80 304.92,407.79 305.62,407.79 306.31,407.79 307.00,407.79 307.70,407.79 308.39,407.79 309.08,407.79 309.78,407.78 310.47,407.78 311.17,407.78 311.86,407.77 312.55,407.77 313.25,407.76 313.94,407.76 314.63,407.75 315.33,407.74 316.02,407.73 316.72,407.72 317.41,407.71 318.10,407.70 318.80,407.68 319.49,407.66 320.19,407.63 320.88,407.61 321.57,407.57 322.27,407.54 322.96,407.49 323.65,407.44 324.35,407.38 325.04,407.31 325.74,407.23 326.43,407.14 327.12,407.03 327.82,406.90 328.51,406.75 329.20,406.58 329.90,406.38 330.59,406.14 331.29,405.87 331.98,405.55 332.67,405.18 333.37,404.75 334.06,404.25 334.75,403.68 335.45,403.00 336.14,402.22 336.84,401.32 337.53,400.27 338.22,399.07 338.92,397.67 339.61,396.06 340.31,394.22 341.00,392.10 341.69,389.67 342.39,386.90 343.08,383.75 343.77,380.18 344.47,376.15 345.16,371.63 345.86,366.58 346.55,360.96 347.24,354.78 347.94,348.00 348.63,340.64 349.32,332.71 350.02,324.26 350.71,315.33 351.41,306.01 352.10,296.37 352.79,286.52 353.49,276.58 354.18,266.65 354.88,256.86 355.57,247.32 356.26,238.12 356.96,229.34 357.65,221.06 358.34,213.32 359.04,206.16 359.73,199.58 360.43,193.59 361.12,188.16 361.81,183.29 362.51,178.94 363.20,175.07 363.89,171.65 364.59,168.63 365.28,165.98 365.98,163.66 366.67,161.63 367.36,159.87 368.06,158.34 368.75,157.01 369.45,155.86 370.14,154.86 370.83,154.00 371.53,153.26 372.22,152.62 372.91,152.07 373.61,151.59 374.30,151.19 375.00,150.83 375.69,150.53 376.38,150.27 377.08,150.05 377.77,149.86 378.46,149.69 379.16,149.55 379.85,149.43 380.55,149.33 381.24,149.24 381.93,149.16 382.63,149.10 383.32,149.04 384.01,148.99 384.71,148.95 385.40,148.91 386.10,148.88 386.79,148.86 387.48,148.84 388.18,148.82 388.87,148.80 389.57,148.79 390.26,148.77 390.95,148.76 391.65,148.75 392.34,148.75 393.03,148.74 393.73,148.73 394.42,148.73 395.12,148.72 395.81,148.72 396.50,148.72 397.20,148.72 397.89,148.71 398.58,148.71 399.28,148.71 399.97,148.71 400.67,148.71 401.36,148.71 402.05,148.71 402.75,148.70 403.44,148.70 404.13,148.70 404.83,148.70 405.52,148.70 406.22,148.70 406.91,148.70 407.60,148.70 408.30,148.70 408.99,148.70 409.69,148.70 410.38,148.70 411.07,148.70 411.77,148.70 412.46,148.70 413.15,148.70 413.85,148.70 414.54,148.70 415.24,148.70 415.93,148.70 416.62,148.70 417.32,148.70 418.01,148.70 418.70,148.70 419.40,148.70 420.09,148.70 420.79,148.70 421.48,148.70 422.17,148.70 422.87,148.70 423.56,148.70 424.26,148.70 424.95,148.70 425.64,148.70 426.34,148.70 427.03,148.70 427.72,148.70 428.42,148.70 429.11,148.70 429.81,148.70 430.50,148.70 431.19,148.70 431.89,148.70 432.58,148.70 433.27,148.70 433.97,148.70 434.66,148.70 435.36,148.70 436.05,148.70 436.74,148.70 437.44,148.70 438.13,148.70 438.83,148.70 439.52,148.70 440.21,148.70 440.91,148.70 441.60,148.70 442.29,148.70 442.99,148.70 443.68,148.70 444.38,148.70 445.07,148.70 445.76,148.70 446.46,148.70 447.15,148.70 447.84,148.70 448.54,148.70 449.23,148.70 449.93,148.70 450.62,148.70 451.31,148.70 452.01,148.70 452.70,148.70 453.39,148.70 454.09,148.70 454.78,148.70 455.48,148.70 456.17,148.70 456.86,148.70 457.56,148.70 458.25,148.70 458.95,148.70 459.64,148.70 460.33,148.70 461.03,148.70 461.72,148.70 462.41,148.70 463.11,148.70 463.80,148.70 464.50,148.70 465.19,148.70 465.88,148.70 466.58,148.70 467.27,148.70 467.96,148.70 468.66,148.70 469.35,148.70 470.05,148.70 470.74,148.70 471.43,148.70 472.13,148.70 472.82,148.70 473.51,148.70 474.21,148.70 474.90,148.70 475.60,148.70 476.29,148.70 476.98,148.70 477.68,148.70 478.37,148.70 479.07,148.70 479.76,148.70 480.45,148.70 481.15,148.70 481.84,148.70 482.53,148.70 483.23,148.70 483.92,148.70 484.62,148.70 485.31,148.70 486.00,148.70 486.70,148.70 487.39,148.70 488.08,148.70 488.78,148.70 489.47,148.70 490.17,148.70 490.86,148.70 491.55,148.70 492.25,148.70 492.94,148.70 493.64,148.70 494.33,148.70 495.02,148.70 495.72,148.70 496.41,148.70 497.10,148.70 497.80,148.70 498.49,148.70 499.19,148.70 499.88,148.70 500.57,148.70 501.27,148.70 501.96,148.70 502.65,148.70 503.35,148.70 504.04,148.70 504.74,148.70 505.43,148.70 506.12,148.70 506.82,148.70 507.51,148.70 508.21,148.70 508.90,148.70 509.59,148.70 510.29,148.70 510.98,148.70 511.67,148.70 512.37,148.70 513.06,148.70 513.76,148.70 514.45,148.70 515.14,148.70 515.84,148.70 516.53,148.70 517.22,148.70 517.92,148.70 518.61,148.70 519.31,148.70 520.00,148.70 520.69,148.70 521.39,148.70 522.08,148.70 522.77,148.70 523.47,148.70 524.16,148.70 524.86,148.70 525.55,148.70 526.24,148.70 526.94,148.70 527.63,148.70 528.33,148.70 529.02,148.70 529.71,148.70 530.41,148.70 531.10,148.70 531.79,148.70 532.49,148.70 533.18,148.70 533.88,148.70 534.57,148.70 535.26,148.70 535.96,148.70 536.65,148.70 537.34,148.70 538.04,148.70 538.73,148.70 539.43,148.70 540.12,148.70 540.81,148.70 541.51,148.70 542.20,148.70 542.89,148.70 543.59,148.70 544.28,148.70 544.98,148.70 545.67,148.70 546.36,148.70 547.06,148.70 547.75,148.70 548.45,148.70 549.14,148.70 549.83,148.70 550.53,148.70 551.22,148.70 551.91,148.70 552.61,148.70 553.30,148.70 554.00,148.70 554.69,148.70 555.38,148.70 556.08,148.70 556.77,148.70 557.46,148.70 558.16,148.70 558.85,148.70 559.55,148.70 560.24,148.70" fill="none" stroke="#ff0000" stroke-width="4.6" stroke-linecap="round" stroke-linejoin="round"/>
<rect x="589.35" y="101.70" width="474.55" height="20.60" fill="#9fcae0"/>
<rect x="590.85" y="102.90" width="471.55" height="2.2" fill="#aadcf4"/>
<rect x="590.85" y="118.90" width="471.55" height="2.2" fill="#aadcf4"/>
<text x="826.62" y="119.00" font-family="'Liberation Sans', Arial, Helvetica, sans-serif" font-size="17" text-anchor="middle" fill="#111" stroke="#000" stroke-width="0.45">I9</text>
<polyline points="618.51,148.70 619.20,148.70 619.90,148.70 620.59,148.70 621.29,148.70 621.98,148.70 622.67,148.70 623.37,148.70 624.06,148.70 624.75,148.70 625.45,148.70 626.14,148.70 626.84,148.70 627.53,148.70 628.22,148.70 628.92,148.70 629.61,148.70 630.30,148.70 631.00,148.70 631.69,148.70 632.39,148.70 633.08,148.70 633.77,148.70 634.47,148.70 635.16,148.70 635.86,148.70 636.55,148.70 637.24,148.70 637.94,148.70 638.63,148.70 639.32,148.70 640.02,148.70 640.71,148.70 641.41,148.70 642.10,148.70 642.79,148.70 643.49,148.70 644.18,148.70 644.87,148.70 645.57,148.70 646.26,148.70 646.96,148.70 647.65,148.70 648.34,148.70 649.04,148.70 649.73,148.70 650.42,148.70 651.12,148.70 651.81,148.70 652.51,148.70 653.20,148.70 653.89,148.70 654.59,148.70 655.28,148.70 655.98,148.70 656.67,148.70 657.36,148.70 658.06,148.70 658.75,148.70 659.44,148.70 660.14,148.70 660.83,148.70 661.53,148.70 662.22,148.70 662.91,148.70 663.61,148.70 664.30,148.70 664.99,148.70 665.69,148.70 666.38,148.70 667.08,148.70 667.77,148.70 668.46,148.70 669.16,148.70 669.85,148.70 670.55,148.70 671.24,148.70 671.93,148.70 672.63,148.70 673.32,148.70 674.01,148.70 674.71,148.70 675.40,148.70 676.10,148.70 676.79,148.70 677.48,148.70 678.18,148.70 678.87,148.70 679.56,148.70 680.26,148.70 680.95,148.70 681.65,148.70 682.34,148.70 683.03,148.70 683.73,148.70 684.42,148.70 685.11,148.70 685.81,148.70 686.50,148.70 687.20,148.70 687.89,148.70 688.58,148.70 689.28,148.70 689.97,148.70 690.67,148.70 691.36,148.70 692.05,148.70 692.75,148.70 693.44,148.70 694.13,148.70 694.83,148.70 695.52,148.70 696.22,148.70 696.91,148.70 697.60,148.70 698.30,148.70 698.99,148.70 699.68,148.70 700.38,148.70 701.07,148.70 701.77,148.70 702.46,148.70 703.15,148.70 703.85,148.70 704.54,148.70 705.24,148.70 705.93,148.70 706.62,148.70 707.32,148.70 708.01,148.70 708.70,148.70 709.40,148.70 710.09,148.71 710.79,148.71 711.48,148.71 712.17,148.71 712.87,148.71 713.56,148.71 714.25,148.71 714.95,148.71 715.64,148.71 716.34,148.71 717.03,148.71 717.72,148.71 718.42,148.71 719.11,148.72 719.80,148.72 720.50,148.72 721.19,148.72 721.89,148.72 722.58,148.72 723.27,148.73 723.97,148.73 724.66,148.73 725.36,148.73 726.05,148.74 726.74,148.74 727.44,148.74 728.13,148.75 728.82,148.75 729.52,148.76 730.21,148.76 730.91,148.77 731.60,148.78 732.29,148.78 732.99,148.79 733.68,148.80 734.37,148.81 735.07,148.82 735.76,148.83 736.46,148.84 737.15,148.85 737.84,148.86 738.54,148.88 739.23,148.90 739.93,148.91 740.62,148.93 741.31,148.95 742.01,148.98 742.70,149.00 743.39,149.03 744.09,149.06 744.78,149.09 745.48,149.13 746.17,149.17 746.86,149.21 747.56,149.25 748.25,149.30 748.94,149.36 749.64,149.42 750.33,149.48 751.03,149.55 751.72,149.63 752.41,149.72 753.11,149.81 753.80,149.91 754.49,150.02 755.19,150.14 755.88,150.27 756.58,150.41 757.27,150.56 757.96,150.73 758.66,150.91 759.35,151.11 760.05,151.33 760.74,151.56 761.43,151.82 762.13,152.10 762.82,152.40 763.51,152.73 764.21,153.09 764.90,153.48 765.60,153.91 766.29,154.37 766.98,154.88 767.68,155.42 768.37,156.01 769.06,156.66 769.76,157.36 770.45,158.11 771.15,158.93 771.84,159.82 772.53,160.79 773.23,161.83 773.92,162.95 774.62,164.17 775.31,165.48 776.00,166.90 776.70,168.42 777.39,170.07 778.08,171.83 778.78,173.73 779.47,175.76 780.17,177.94 780.86,180.28 781.55,182.76 782.25,185.42 782.94,188.24 783.63,191.24 784.33,194.42 785.02,197.79 785.72,201.34 786.41,205.07 787.10,209.00 787.80,213.11 788.49,217.41 789.18,221.88 789.88,226.53 790.57,231.34 791.27,236.31 791.96,241.41 792.65,246.65 793.35,251.99 794.04,257.43 794.74,262.95 795.43,268.53 796.12,274.14 796.82,279.76 797.51,285.38 798.20,290.98 798.90,296.52 799.59,302.00 800.29,307.39 800.98,312.68 801.67,317.85 802.37,322.88 803.06,327.76 803.75,332.49 804.45,337.04 805.14,341.42 805.84,345.62 806.53,349.63 807.22,353.46 807.92,357.10 808.61,360.55 809.31,363.81 810.00,366.89 810.69,369.80 811.39,372.53 812.08,375.09 812.77,377.50 813.47,379.75 814.16,381.85 814.86,383.81 815.55,385.63 816.24,387.33 816.94,388.91 817.63,390.38 818.32,391.74 819.02,393.00 819.71,394.16 820.41,395.24 821.10,396.24 821.79,397.16 822.49,398.02 823.18,398.80 823.87,399.53 824.57,400.19 825.26,400.81 825.96,401.38 826.65,401.90 827.34,402.38 828.04,402.82 828.73,403.23 829.43,403.60 830.12,403.95 830.81,404.26 831.51,404.55 832.20,404.82 832.89,405.07 833.59,405.29 834.28,405.50 834.98,405.69 835.67,405.86 836.36,406.02 837.06,406.17 837.75,406.30 838.44,406.43 839.14,406.54 839.83,406.65 840.53,406.74 841.22,406.83 841.91,406.91 842.61,406.98 843.30,407.05 844.00,407.11 844.69,407.17 845.38,407.22 846.08,407.27 846.77,407.31 847.46,407.36 848.16,407.39 848.85,407.43 849.55,407.46 850.24,407.49 850.93,407.51 851.63,407.54 852.32,407.56 853.01,407.58 853.71,407.60 854.40,407.61 855.10,407.63 855.79,407.64 856.48,407.66 857.18,407.67 857.87,407.68 858.56,407.69 859.26,407.70 859.95,407.71 860.65,407.71 861.34,407.72 862.03,407.73 862.73,407.73 863.42,407.74 864.12,407.74 864.81,407.75 865.50,407.75 866.20,407.76 866.89,407.76 867.58,407.76 868.28,407.77 868.97,407.77 869.67,407.77 870.36,407.77 871.05,407.78 871.75,407.78 872.44,407.78 873.13,407.78 873.83,407.78 874.52,407.78 875.22,407.79 875.91,407.79 876.60,407.79 877.30,407.79 877.99,407.79 878.69,407.79 879.38,407.79 880.07,407.79 880.77,407.79 881.46,407.79 882.15,407.79 882.85,407.79 883.54,407.80 884.24,407.80 884.93,407.80 885.62,407.80 886.32,407.80 887.01,407.80 887.70,407.80 888.40,407.80 889.09,407.80 889.79,407.80 890.48,407.80 891.17,407.80 891.87,407.80 892.56,407.80 893.25,407.80 893.95,407.80 894.64,407.80 895.34,407.80 896.03,407.80 896.72,407.80 897.42,407.80 898.11,407.80 898.81,407.80 899.50,407.80 900.19,407.80 900.89,407.80 901.58,407.80 902.27,407.80 902.97,407.80 903.66,407.80 904.36,407.80 905.05,407.80 905.74,407.80 906.44,407.80 907.13,407.80 907.82,407.80 908.52,407.80 909.21,407.80 909.91,407.80 910.60,407.80 911.29,407.80 911.99,407.80 912.68,407.80 913.38,407.80 914.07,407.80 914.76,407.80 915.46,407.80 916.15,407.80 916.84,407.80 917.54,407.80 918.23,407.80 918.93,407.80 919.62,407.80 920.31,407.80 921.01,407.80 921.70,407.80 922.39,407.80 923.09,407.80 923.78,407.80 924.48,407.80 925.17,407.80 925.86,407.80 926.56,407.80 927.25,407.80 927.94,407.80 928.64,407.80 929.33,407.80 930.03,407.80 930.72,407.80 931.41,407.80 932.11,407.80 932.80,407.80 933.50,407.80 934.19,407.80 934.88,407.80 935.58,407.80 936.27,407.80 936.96,407.80 937.66,407.80 938.35,407.80 939.05,407.80 939.74,407.80 940.43,407.80 941.13,407.80 941.82,407.80 942.51,407.80 943.21,407.80 943.90,407.80 944.60,407.80 945.29,407.80 945.98,407.80 946.68,407.80 947.37,407.80 948.07,407.80 948.76,407.80 949.45,407.80 950.15,407.80 950.84,407.80 951.53,407.80 952.23,407.80 952.92,407.80 953.62,407.80 954.31,407.80 955.00,407.80 955.70,407.80 956.39,407.80 957.08,407.80 957.78,407.80 958.47,407.80 959.17,407.80 959.86,407.80 960.55,407.80 961.25,407.80 961.94,407.80 962.63,407.80 963.33,407.80 964.02,407.80 964.72,407.80 965.41,407.80 966.10,407.80 966.80,407.80 967.49,407.80 968.19,407.80 968.88,407.80 969.57,407.80 970.27,407.80 970.96,407.80 971.65,407.80 972.35,407.80 973.04,407.80 973.74,407.80 974.43,407.80 975.12,407.80 975.82,407.80 976.51,407.80 977.20,407.80 977.90,407.80 978.59,407.80 979.29,407.80 979.98,407.80 980.67,407.80 981.37,407.80 982.06,407.80 982.76,407.80 983.45,407.80 984.14,407.80 984.84,407.80 985.53,407.80 986.22,407.80 986.92,407.80 987.61,407.80 988.31,407.80 989.00,407.80 989.69,407.80 990.39,407.80 991.08,407.80 991.77,407.80 992.47,407.80 993.16,407.80 993.86,407.80 994.55,407.80 995.24,407.80 995.94,407.80 996.63,407.80 997.32,407.80 998.02,407.80 998.71,407.80 999.41,407.80 1000.10,407.80 1000.79,407.80 1001.49,407.80 1002.18,407.80 1002.88,407.80 1003.57,407.80 1004.26,407.80 1004.96,407.80 1005.65,407.80 1006.34,407.80 1007.04,407.80 1007.73,407.80 1008.43,407.80 1009.12,407.80 1009.81,407.80 1010.51,407.80 1011.20,407.80 1011.89,407.80 1012.59,407.80 1013.28,407.80 1013.98,407.80 1014.67,407.80 1015.36,407.80 1016.06,407.80 1016.75,407.80 1017.45,407.80 1018.14,407.80 1018.83,407.80 1019.53,407.80 1020.22,407.80 1020.91,407.80 1021.61,407.80 1022.30,407.80 1023.00,407.80 1023.69,407.80 1024.38,407.80 1025.08,407.80 1025.77,407.80 1026.46,407.80 1027.16,407.80 1027.85,407.80 1028.55,407.80 1029.24,407.80 1029.93,407.80 1030.63,407.80 1031.32,407.80 1032.01,407.80 1032.71,407.80 1033.40,407.80 1034.10,407.80 1034.79,407.80" fill="none" stroke="#0066ff" stroke-width="4.6" stroke-linecap="round" stroke-linejoin="round"/>
<polyline points="618.51,407.80 619.20,407.80 619.90,407.80 620.59,407.80 621.29,407.80 621.98,407.80 622.67,407.80 623.37,407.80 624.06,407.80 624.75,407.80 625.45,407.80 626.14,407.80 626.84,407.80 627.53,407.80 628.22,407.80 628.92,407.80 629.61,407.80 630.30,407.80 631.00,407.80 631.69,407.80 632.39,407.80 633.08,407.80 633.77,407.80 634.47,407.80 635.16,407.80 635.86,407.80 636.55,407.80 637.24,407.80 637.94,407.80 638.63,407.80 639.32,407.80 640.02,407.80 640.71,407.80 641.41,407.80 642.10,407.80 642.79,407.80 643.49,407.80 644.18,407.80 644.87,407.80 645.57,407.80 646.26,407.80 646.96,407.80 647.65,407.80 648.34,407.80 649.04,407.80 649.73,407.80 650.42,407.80 651.12,407.80 651.81,407.80 652.51,407.80 653.20,407.80 653.89,407.80 654.59,407.80 655.28,407.80 655.98,407.80 656.67,407.80 657.36,407.80 658.06,407.80 658.75,407.80 659.44,407.80 660.14,407.80 660.83,407.80 661.53,407.80 662.22,407.80 662.91,407.80 663.61,407.80 664.30,407.80 664.99,407.80 665.69,407.80 666.38,407.80 667.08,407.80 667.77,407.80 668.46,407.80 669.16,407.80 669.85,407.80 670.55,407.80 671.24,407.80 671.93,407.80 672.63,407.80 673.32,407.80 674.01,407.80 674.71,407.80 675.40,407.80 676.10,407.80 676.79,407.80 677.48,407.80 678.18,407.80 678.87,407.80 679.56,407.80 680.26,407.80 680.95,407.80 681.65,407.80 682.34,407.80 683.03,407.80 683.73,407.80 684.42,407.80 685.11,407.80 685.81,407.80 686.50,407.80 687.20,407.80 687.89,407.80 688.58,407.80 689.28,407.80 689.97,407.80 690.67,407.80 691.36,407.80 692.05,407.80 692.75,407.80 693.44,407.80 694.13,407.80 694.83,407.80 695.52,407.80 696.22,407.80 696.91,407.80 697.60,407.80 698.30,407.80 698.99,407.80 699.68,407.80 700.38,407.80 701.07,407.80 701.77,407.80 702.46,407.80 703.15,407.80 703.85,407.80 704.54,407.80 705.24,407.80 705.93,407.80 706.62,407.80 707.32,407.80 708.01,407.80 708.70,407.80 709.40,407.80 710.09,407.79 710.79,407.79 711.48,407.79 712.17,407.79 712.87,407.79 713.56,407.79 714.25,407.79 714.95,407.79 715.64,407.79 716.34,407.79 717.03,407.79 717.72,407.79 718.42,407.79 719.11,407.78 719.80,407.78 720.50,407.78 721.19,407.78 721.89,407.78 722.58,407.78 723.27,407.77 723.97,407.77 724.66,407.77 725.36,407.77 726.05,407.76 726.74,407.76 727.44,407.76 728.13,407.75 728.82,407.75 729.52,407.74 730.21,407.74 730.91,407.73 731.60,407.73 732.29,407.72 732.99,407.71 733.68,407.70 734.37,407.69 735.07,407.68 735.76,407.67 736.46,407.66 737.15,407.65 737.84,407.64 738.54,407.62 739.23,407.61 739.93,407.59 740.62,407.57 741.31,407.55 742.01,407.52 742.70,407.50 743.39,407.47 744.09,407.44 744.78,407.41 745.48,407.38 746.17,407.34 746.86,407.30 747.56,407.25 748.25,407.20 748.94,407.15 749.64,407.09 750.33,407.02 751.03,406.95 751.72,406.87 752.41,406.79 753.11,406.70 753.80,406.60 754.49,406.49 755.19,406.37 755.88,406.24 756.58,406.10 757.27,405.95 757.96,405.78 758.66,405.60 759.35,405.41 760.05,405.19 760.74,404.96 761.43,404.70 762.13,404.42 762.82,404.12 763.51,403.79 764.21,403.44 764.90,403.05 765.60,402.63 766.29,402.17 766.98,401.67 767.68,401.12 768.37,400.54 769.06,399.90 769.76,399.20 770.45,398.45 771.15,397.64 771.84,396.75 772.53,395.80 773.23,394.77 773.92,393.65 774.62,392.44 775.31,391.14 776.00,389.73 776.70,388.22 777.39,386.59 778.08,384.84 778.78,382.95 779.47,380.94 780.17,378.77 780.86,376.46 781.55,374.00 782.25,371.37 782.94,368.57 783.63,365.60 784.33,362.45 785.02,359.12 785.72,355.60 786.41,351.90 787.10,348.02 787.80,343.96 788.49,339.71 789.18,335.29 789.88,330.71 790.57,325.96 791.27,321.07 791.96,316.04 792.65,310.90 793.35,305.64 794.04,300.31 794.74,294.90 795.43,289.45 796.12,283.97 796.82,278.49 797.51,273.03 798.20,267.61 798.90,262.25 799.59,256.97 800.29,251.80 800.98,246.76 801.67,241.85 802.37,237.11 803.06,232.54 803.75,228.15 804.45,223.96 805.14,219.99 805.84,216.22 806.53,212.69 807.22,209.38 807.92,206.30 808.61,203.46 809.31,200.85 810.00,198.49 810.69,196.36 811.39,194.47 812.08,192.81 812.77,191.40 813.47,190.21 814.16,189.26 814.86,188.55 815.55,188.07 816.24,187.82 816.94,187.80 817.63,188.01 818.32,188.46 819.02,189.14 819.71,190.05 820.41,191.19 821.10,192.57 821.79,194.19 822.49,196.04 823.18,198.13 823.87,200.46 824.57,203.03 825.26,205.83 825.96,208.87 826.65,212.14 827.34,215.65 828.04,219.37 828.73,223.32 829.43,227.47 830.12,231.82 830.81,236.37 831.51,241.08 832.20,245.96 832.89,250.99 833.59,256.14 834.28,261.40 834.98,266.75 835.67,272.16 836.36,277.62 837.06,283.10 837.75,288.58 838.44,294.03 839.14,299.45 839.83,304.80 840.53,310.07 841.22,315.23 841.91,320.28 842.61,325.19 843.30,329.96 844.00,334.57 844.69,339.02 845.38,343.29 846.08,347.39 846.77,351.30 847.46,355.03 848.16,358.57 848.85,361.93 849.55,365.11 850.24,368.11 850.93,370.93 851.63,373.59 852.32,376.08 853.01,378.42 853.71,380.60 854.40,382.64 855.10,384.54 855.79,386.32 856.48,387.97 857.18,389.50 857.87,390.92 858.56,392.24 859.26,393.46 859.95,394.59 860.65,395.64 861.34,396.61 862.03,397.50 862.73,398.33 863.42,399.09 864.12,399.79 864.81,400.44 865.50,401.03 866.20,401.58 866.89,402.09 867.58,402.55 868.28,402.98 868.97,403.38 869.67,403.74 870.36,404.07 871.05,404.38 871.75,404.66 872.44,404.92 873.13,405.15 873.83,405.37 874.52,405.57 875.22,405.76 875.91,405.93 876.60,406.08 877.30,406.22 877.99,406.35 878.69,406.47 879.38,406.58 880.07,406.68 880.77,406.78 881.46,406.86 882.15,406.94 882.85,407.01 883.54,407.08 884.24,407.14 884.93,407.19 885.62,407.24 886.32,407.29 887.01,407.33 887.70,407.37 888.40,407.41 889.09,407.44 889.79,407.47 890.48,407.50 891.17,407.52 891.87,407.54 892.56,407.57 893.25,407.59 893.95,407.60 894.64,407.62 895.34,407.63 896.03,407.65 896.72,407.66 897.42,407.67 898.11,407.68 898.81,407.69 899.50,407.70 900.19,407.71 900.89,407.72 901.58,407.72 902.27,407.73 902.97,407.74 903.66,407.74 904.36,407.75 905.05,407.75 905.74,407.75 906.44,407.76 907.13,407.76 907.82,407.77 908.52,407.77 909.21,407.77 909.91,407.77 910.60,407.78 911.29,407.78 911.99,407.78 912.68,407.78 913.38,407.78 914.07,407.78 914.76,407.79 915.46,407.79 916.15,407.79 916.84,407.79 917.54,407.79 918.23,407.79 918.93,407.79 919.62,407.79 920.31,407.79 921.01,407.79 921.70,407.79 922.39,407.79 923.09,407.79 923.78,407.80 924.48,407.80 925.17,407.80 925.86,407.80 926.56,407.80 927.25,407.80 927.94,407.80 928.64,407.80 929.33,407.80 930.03,407.80 930.72,407.80 931.41,407.80 932.11,407.80 932.80,407.80 933.50,407.80 934.19,407.80 934.88,407.80 935.58,407.80 936.27,407.80 936.96,407.80 937.66,407.80 938.35,407.80 939.05,407.80 939.74,407.80 940.43,407.80 941.13,407.80 941.82,407.80 942.51,407.80 943.21,407.80 943.90,407.80 944.60,407.80 945.29,407.80 945.98,407.80 946.68,407.80 947.37,407.80 948.07,407.80 948.76,407.80 949.45,407.80 950.15,407.80 950.84,407.80 951.53,407.80 952.23,407.80 952.92,407.80 953.62,407.80 954.31,407.80 955.00,407.80 955.70,407.80 956.39,407.80 957.08,407.80 957.78,407.80 958.47,407.80 959.17,407.80 959.86,407.80 960.55,407.80 961.25,407.80 961.94,407.80 962.63,407.80 963.33,407.80 964.02,407.80 964.72,407.80 965.41,407.80 966.10,407.80 966.80,407.80 967.49,407.80 968.19,407.80 968.88,407.80 969.57,407.80 970.27,407.80 970.96,407.80 971.65,407.80 972.35,407.80 973.04,407.80 973.74,407.80 974.43,407.80 975.12,407.80 975.82,407.80 976.51,407.80 977.20,407.80 977.90,407.80 978.59,407.80 979.29,407.80 979.98,407.80 980.67,407.80 981.37,407.80 982.06,407.80 982.76,407.80 983.45,407.80 984.14,407.80 984.84,407.80 985.53,407.80 986.22,407.80 986.92,407.80 987.61,407.80 988.31,407.80 989.00,407.80 989.69,407.80 990.39,407.80 991.08,407.80 991.77,407.80 992.47,407.80 993.16,407.80 993.86,407.80 994.55,407.80 995.24,407.80 995.94,407.80 996.63,407.80 997.32,407.80 998.02,407.80 998.71,407.80 999.41,407.80 1000.10,407.80 1000.79,407.80 1001.49,407.80 1002.18,407.80 1002.88,407.80 1003.57,407.80 1004.26,407.80 1004.96,407.80 1005.65,407.80 1006.34,407.80 1007.04,407.80 1007.73,407.80 1008.43,407.80 1009.12,407.80 1009.81,407.80 1010.51,407.80 1011.20,407.80 1011.89,407.80 1012.59,407.80 1013.28,407.80 1013.98,407.80 1014.67,407.80 1015.36,407.80 1016.06,407.80 1016.75,407.80 1017.45,407.80 1018.14,407.80 1018.83,407.80 1019.53,407.80 1020.22,407.80 1020.91,407.80 1021.61,407.80 1022.30,407.80 1023.00,407.80 1023.69,407.80 1024.38,407.80 1025.08,407.80 1025.77,407.80 1026.46,407.80 1027.16,407.80 1027.85,407.80 1028.55,407.80 1029.24,407.80 1029.93,407.80 1030.63,407.80 1031.32,407.80 1032.01,407.80 1032.71,407.80 1033.40,407.80 1034.10,407.80 1034.79,407.80" fill="none" stroke="#ff00ff" stroke-width="4.6" stroke-linecap="round" stroke-linejoin="round"/>
<polyline points="618.51,407.80 619.20,407.80 619.90,407.80 620.59,407.80 621.29,407.80 621.98,407.80 622.67,407.80 623.37,407.80 624.06,407.80 624.75,407.80 625.45,407.80 626.14,407.80 626.84,407.80 627.53,407.80 628.22,407.80 628.92,407.80 629.61,407.80 630.30,407.80 631.00,407.80 631.69,407.80 632.39,407.80 633.08,407.80 633.77,407.80 634.47,407.80 635.16,407.80 635.86,407.80 636.55,407.80 637.24,407.80 637.94,407.80 638.63,407.80 639.32,407.80 640.02,407.80 640.71,407.80 641.41,407.80 642.10,407.80 642.79,407.80 643.49,407.80 644.18,407.80 644.87,407.80 645.57,407.80 646.26,407.80 646.96,407.80 647.65,407.80 648.34,407.80 649.04,407.80 649.73,407.80 650.42,407.80 651.12,407.80 651.81,407.80 652.51,407.80 653.20,407.80 653.89,407.80 654.59,407.80 655.28,407.80 655.98,407.80 656.67,407.80 657.36,407.80 658.06,407.80 658.75,407.80 659.44,407.80 660.14,407.80 660.83,407.80 661.53,407.80 662.22,407.80 662.91,407.80 663.61,407.80 664.30,407.80 664.99,407.80 665.69,407.80 666.38,407.80 667.08,407.80 667.77,407.80 668.46,407.80 669.16,407.80 669.85,407.80 670.55,407.80 671.24,407.80 671.93,407.80 672.63,407.80 673.32,407.80 674.01,407.80 674.71,407.80 675.40,407.80 676.10,407.80 676.79,407.80 677.48,407.80 678.18,407.80 678.87,407.80 679.56,407.80 680.26,407.80 680.95,407.80 681.65,407.80 682.34,407.80 683.03,407.80 683.73,407.80 684.42,407.80 685.11,407.80 685.81,407.80 686.50,407.80 687.20,407.80 687.89,407.80 688.58,407.80 689.28,407.80 689.97,407.80 690.67,407.80 691.36,407.80 692.05,407.80 692.75,407.80 693.44,407.80 694.13,407.80 694.83,407.80 695.52,407.80 696.22,407.80 696.91,407.80 697.60,407.80 698.30,407.80 698.99,407.80 699.68,407.80 700.38,407.80 701.07,407.80 701.77,407.80 702.46,407.80 703.15,407.80 703.85,407.80 704.54,407.80 705.24,407.80 705.93,407.80 706.62,407.80 707.32,407.80 708.01,407.80 708.70,407.80 709.40,407.80 710.09,407.80 710.79,407.80 711.48,407.80 712.17,407.80 712.87,407.80 713.56,407.80 714.25,407.80 714.95,407.80 715.64,407.80 716.34,407.80 717.03,407.80 717.72,407.80 718.42,407.80 719.11,407.80 719.80,407.80 720.50,407.80 721.19,407.80 721.89,407.80 722.58,407.80 723.27,407.80 723.97,407.80 724.66,407.80 725.36,407.80 726.05,407.80 726.74,407.80 727.44,407.80 728.13,407.80 728.82,407.80 729.52,407.80 730.21,407.80 730.91,407.80 731.60,407.80 732.29,407.80 732.99,407.80 733.68,407.80 734.37,407.80 735.07,407.80 735.76,407.80 736.46,407.80 737.15,407.80 737.84,407.80 738.54,407.80 739.23,407.80 739.93,407.80 740.62,407.80 741.31,407.80 742.01,407.80 742.70,407.80 743.39,407.80 744.09,407.80 744.78,407.80 745.48,407.80 746.17,407.80 746.86,407.80 747.56,407.80 748.25,407.80 748.94,407.80 749.64,407.80 750.33,407.79 751.03,407.79 751.72,407.79 752.41,407.79 753.11,407.79 753.80,407.79 754.49,407.79 755.19,407.79 755.88,407.79 756.58,407.79 757.27,407.79 757.96,407.79 758.66,407.79 759.35,407.78 760.05,407.78 760.74,407.78 761.43,407.78 762.13,407.78 762.82,407.78 763.51,407.77 764.21,407.77 764.90,407.77 765.60,407.76 766.29,407.76 766.98,407.76 767.68,407.75 768.37,407.75 769.06,407.75 769.76,407.74 770.45,407.74 771.15,407.73 771.84,407.72 772.53,407.72 773.23,407.71 773.92,407.70 774.62,407.69 775.31,407.68 776.00,407.67 776.70,407.66 777.39,407.65 778.08,407.63 778.78,407.62 779.47,407.60 780.17,407.58 780.86,407.56 781.55,407.54 782.25,407.52 782.94,407.49 783.63,407.46 784.33,407.43 785.02,407.40 785.72,407.36 786.41,407.32 787.10,407.28 787.80,407.23 788.49,407.18 789.18,407.12 789.88,407.06 790.57,407.00 791.27,406.92 791.96,406.84 792.65,406.76 793.35,406.66 794.04,406.56 794.74,406.45 795.43,406.33 796.12,406.19 796.82,406.05 797.51,405.89 798.20,405.72 798.90,405.53 799.59,405.33 800.29,405.10 800.98,404.86 801.67,404.60 802.37,404.31 803.06,404.00 803.75,403.66 804.45,403.29 805.14,402.89 805.84,402.45 806.53,401.98 807.22,401.46 807.92,400.90 808.61,400.30 809.31,399.64 810.00,398.92 810.69,398.15 811.39,397.30 812.08,396.39 812.77,395.41 813.47,394.34 814.16,393.19 814.86,391.94 815.55,390.60 816.24,389.15 816.94,387.59 817.63,385.91 818.32,384.11 819.02,382.17 819.71,380.09 820.41,377.87 821.10,375.49 821.79,372.95 822.49,370.24 823.18,367.37 823.87,364.31 824.57,361.08 825.26,357.66 825.96,354.05 826.65,350.26 827.34,346.27 828.04,342.11 828.73,337.75 829.43,333.23 830.12,328.53 830.81,323.67 831.51,318.66 832.20,313.51 832.89,308.24 833.59,302.87 834.28,297.40 834.98,291.87 835.67,286.28 836.36,280.66 837.06,275.03 837.75,269.42 838.44,263.84 839.14,258.31 839.83,252.85 840.53,247.49 841.22,242.24 841.91,237.11 842.61,232.12 843.30,227.29 844.00,222.61 844.69,218.11 845.38,213.79 846.08,209.64 846.77,205.69 847.46,201.92 848.16,198.34 848.85,194.95 849.55,191.74 850.24,188.71 850.93,185.86 851.63,183.18 852.32,180.66 853.01,178.31 853.71,176.10 854.40,174.05 855.10,172.13 855.79,170.34 856.48,168.68 857.18,167.13 857.87,165.70 858.56,164.37 859.26,163.14 859.95,162.00 860.65,160.95 861.34,159.97 862.03,159.07 862.73,158.24 863.42,157.47 864.12,156.77 864.81,156.11 865.50,155.51 866.20,154.96 866.89,154.45 867.58,153.98 868.28,153.55 868.97,153.15 869.67,152.79 870.36,152.45 871.05,152.15 871.75,151.86 872.44,151.60 873.13,151.36 873.83,151.14 874.52,150.94 875.22,150.76 875.91,150.59 876.60,150.43 877.30,150.29 877.99,150.16 878.69,150.04 879.38,149.93 880.07,149.82 880.77,149.73 881.46,149.65 882.15,149.57 882.85,149.49 883.54,149.43 884.24,149.37 884.93,149.31 885.62,149.26 886.32,149.22 887.01,149.17 887.70,149.13 888.40,149.10 889.09,149.06 889.79,149.03 890.48,149.01 891.17,148.98 891.87,148.96 892.56,148.94 893.25,148.92 893.95,148.90 894.64,148.88 895.34,148.87 896.03,148.85 896.72,148.84 897.42,148.83 898.11,148.82 898.81,148.81 899.50,148.80 900.19,148.79 900.89,148.78 901.58,148.78 902.27,148.77 902.97,148.76 903.66,148.76 904.36,148.75 905.05,148.75 905.74,148.75 906.44,148.74 907.13,148.74 907.82,148.73 908.52,148.73 909.21,148.73 909.91,148.73 910.60,148.72 911.29,148.72 911.99,148.72 912.68,148.72 913.38,148.72 914.07,148.72 914.76,148.71 915.46,148.71 916.15,148.71 916.84,148.71 917.54,148.71 918.23,148.71 918.93,148.71 919.62,148.71 920.31,148.71 921.01,148.71 921.70,148.71 922.39,148.71 923.09,148.71 923.78,148.70 924.48,148.70 925.17,148.70 925.86,148.70 926.56,148.70 927.25,148.70 927.94,148.70 928.64,148.70 929.33,148.70 930.03,148.70 930.72,148.70 931.41,148.70 932.11,148.70 932.80,148.70 933.50,148.70 934.19,148.70 934.88,148.70 935.58,148.70 936.27,148.70 936.96,148.70 937.66,148.70 938.35,148.70 939.05,148.70 939.74,148.70 940.43,148.70 941.13,148.70 941.82,148.70 942.51,148.70 943.21,148.70 943.90,148.70 944.60,148.70 945.29,148.70 945.98,148.70 946.68,148.70 947.37,148.70 948.07,148.70 948.76,148.70 949.45,148.70 950.15,148.70 950.84,148.70 951.53,148.70 952.23,148.70 952.92,148.70 953.62,148.70 954.31,148.70 955.00,148.70 955.70,148.70 956.39,148.70 957.08,148.70 957.78,148.70 958.47,148.70 959.17,148.70 959.86,148.70 960.55,148.70 961.25,148.70 961.94,148.70 962.63,148.70 963.33,148.70 964.02,148.70 964.72,148.70 965.41,148.70 966.10,148.70 966.80,148.70 967.49,148.70 968.19,148.70 968.88,148.70 969.57,148.70 970.27,148.70 970.96,148.70 971.65,148.70 972.35,148.70 973.04,148.70 973.74,148.70 974.43,148.70 975.12,148.70 975.82,148.70 976.51,148.70 977.20,148.70 977.90,148.70 978.59,148.70 979.29,148.70 979.98,148.70 980.67,148.70 981.37,148.70 982.06,148.70 982.76,148.70 983.45,148.70 984.14,148.70 984.84,148.70 985.53,148.70 986.22,148.70 986.92,148.70 987.61,148.70 988.31,148.70 989.00,148.70 989.69,148.70 990.39,148.70 991.08,148.70 991.77,148.70 992.47,148.70 993.16,148.70 993.86,148.70 994.55,148.70 995.24,148.70 995.94,148.70 996.63,148.70 997.32,148.70 998.02,148.70 998.71,148.70 999.41,148.70 1000.10,148.70 1000.79,148.70 1001.49,148.70 1002.18,148.70 1002.88,148.70 1003.57,148.70 1004.26,148.70 1004.96,148.70 1005.65,148.70 1006.34,148.70 1007.04,148.70 1007.73,148.70 1008.43,148.70 1009.12,148.70 1009.81,148.70 1010.51,148.70 1011.20,148.70 1011.89,148.70 1012.59,148.70 1013.28,148.70 1013.98,148.70 1014.67,148.70 1015.36,148.70 1016.06,148.70 1016.75,148.70 1017.45,148.70 1018.14,148.70 1018.83,148.70 1019.53,148.70 1020.22,148.70 1020.91,148.70 1021.61,148.70 1022.30,148.70 1023.00,148.70 1023.69,148.70 1024.38,148.70 1025.08,148.70 1025.77,148.70 1026.46,148.70 1027.16,148.70 1027.85,148.70 1028.55,148.70 1029.24,148.70 1029.93,148.70 1030.63,148.70 1031.32,148.70 1032.01,148.70 1032.71,148.70 1033.40,148.70 1034.10,148.70 1034.79,148.70" fill="none" stroke="#004800" stroke-width="4.6" stroke-linecap="round" stroke-linejoin="round"/>
<rect x="1063.90" y="101.70" width="474.55" height="20.60" fill="#9fcae0"/>
<rect x="1065.40" y="102.90" width="471.55" height="2.2" fill="#aadcf4"/>
<rect x="1065.40" y="118.90" width="471.55" height="2.2" fill="#aadcf4"/>
<text x="1301.18" y="119.00" font-family="'Liberation Sans', Arial, Helvetica, sans-serif" font-size="17" text-anchor="middle" fill="#111" stroke="#000" stroke-width="0.45">I10</text>
<polyline points="1093.06,148.70 1093.75,148.70 1094.45,148.70 1095.14,148.70 1095.84,148.70 1096.53,148.70 1097.22,148.70 1097.92,148.70 1098.61,148.70 1099.30,148.70 1100.00,148.70 1100.69,148.70 1101.39,148.70 1102.08,148.70 1102.77,148.70 1103.47,148.70 1104.16,148.70 1104.85,148.70 1105.55,148.70 1106.24,148.70 1106.94,148.70 1107.63,148.70 1108.32,148.70 1109.02,148.70 1109.71,148.70 1110.40,148.70 1111.10,148.70 1111.79,148.70 1112.49,148.70 1113.18,148.70 1113.87,148.70 1114.57,148.70 1115.26,148.70 1115.96,148.70 1116.65,148.70 1117.34,148.70 1118.04,148.70 1118.73,148.70 1119.42,148.70 1120.12,148.70 1120.81,148.70 1121.51,148.70 1122.20,148.70 1122.89,148.70 1123.59,148.70 1124.28,148.70 1124.97,148.70 1125.67,148.70 1126.36,148.70 1127.06,148.70 1127.75,148.70 1128.44,148.70 1129.14,148.70 1129.83,148.70 1130.53,148.70 1131.22,148.70 1131.91,148.70 1132.61,148.70 1133.30,148.70 1133.99,148.70 1134.69,148.70 1135.38,148.70 1136.08,148.70 1136.77,148.70 1137.46,148.70 1138.16,148.70 1138.85,148.70 1139.54,148.70 1140.24,148.70 1140.93,148.70 1141.63,148.70 1142.32,148.70 1143.01,148.70 1143.71,148.70 1144.40,148.70 1145.10,148.70 1145.79,148.70 1146.48,148.70 1147.18,148.70 1147.87,148.70 1148.56,148.70 1149.26,148.70 1149.95,148.70 1150.65,148.70 1151.34,148.70 1152.03,148.70 1152.73,148.70 1153.42,148.70 1154.11,148.70 1154.81,148.70 1155.50,148.70 1156.20,148.70 1156.89,148.70 1157.58,148.70 1158.28,148.70 1158.97,148.70 1159.66,148.70 1160.36,148.70 1161.05,148.70 1161.75,148.70 1162.44,148.70 1163.13,148.70 1163.83,148.70 1164.52,148.70 1165.22,148.70 1165.91,148.70 1166.60,148.70 1167.30,148.70 1167.99,148.70 1168.68,148.70 1169.38,148.70 1170.07,148.70 1170.77,148.70 1171.46,148.70 1172.15,148.70 1172.85,148.70 1173.54,148.70 1174.23,148.70 1174.93,148.70 1175.62,148.70 1176.32,148.70 1177.01,148.70 1177.70,148.70 1178.40,148.70 1179.09,148.70 1179.79,148.70 1180.48,148.70 1181.17,148.70 1181.87,148.70 1182.56,148.70 1183.25,148.70 1183.95,148.70 1184.64,148.70 1185.34,148.70 1186.03,148.70 1186.72,148.70 1187.42,148.70 1188.11,148.70 1188.80,148.70 1189.50,148.70 1190.19,148.70 1190.89,148.70 1191.58,148.70 1192.27,148.70 1192.97,148.70 1193.66,148.70 1194.35,148.70 1195.05,148.70 1195.74,148.70 1196.44,148.70 1197.13,148.70 1197.82,148.70 1198.52,148.70 1199.21,148.70 1199.91,148.70 1200.60,148.70 1201.29,148.70 1201.99,148.70 1202.68,148.70 1203.37,148.70 1204.07,148.70 1204.76,148.70 1205.46,148.70 1206.15,148.70 1206.84,148.70 1207.54,148.70 1208.23,148.70 1208.92,148.70 1209.62,148.70 1210.31,148.70 1211.01,148.70 1211.70,148.70 1212.39,148.70 1213.09,148.70 1213.78,148.70 1214.48,148.71 1215.17,148.71 1215.86,148.71 1216.56,148.71 1217.25,148.71 1217.94,148.71 1218.64,148.71 1219.33,148.71 1220.03,148.71 1220.72,148.71 1221.41,148.71 1222.11,148.71 1222.80,148.72 1223.49,148.72 1224.19,148.72 1224.88,148.72 1225.58,148.72 1226.27,148.72 1226.96,148.73 1227.66,148.73 1228.35,148.73 1229.04,148.74 1229.74,148.74 1230.43,148.74 1231.13,148.75 1231.82,148.75 1232.51,148.76 1233.21,148.76 1233.90,148.77 1234.60,148.77 1235.29,148.78 1235.98,148.79 1236.68,148.79 1237.37,148.80 1238.06,148.81 1238.76,148.82 1239.45,148.84 1240.15,148.85 1240.84,148.86 1241.53,148.88 1242.23,148.89 1242.92,148.91 1243.61,148.93 1244.31,148.95 1245.00,148.98 1245.70,149.00 1246.39,149.03 1247.08,149.06 1247.78,149.10 1248.47,149.13 1249.16,149.17 1249.86,149.22 1250.55,149.27 1251.25,149.32 1251.94,149.38 1252.63,149.44 1253.33,149.51 1254.02,149.59 1254.72,149.67 1255.41,149.76 1256.10,149.86 1256.80,149.97 1257.49,150.08 1258.18,150.21 1258.88,150.35 1259.57,150.51 1260.27,150.68 1260.96,150.86 1261.65,151.06 1262.35,151.28 1263.04,151.52 1263.73,151.78 1264.43,152.06 1265.12,152.37 1265.82,152.71 1266.51,153.08 1267.20,153.48 1267.90,153.92 1268.59,154.40 1269.29,154.92 1269.98,155.49 1270.67,156.11 1271.37,156.78 1272.06,157.51 1272.75,158.31 1273.45,159.17 1274.14,160.11 1274.84,161.12 1275.53,162.23 1276.22,163.42 1276.92,164.71 1277.61,166.11 1278.30,167.62 1279.00,169.26 1279.69,171.02 1280.39,172.91 1281.08,174.95 1281.77,177.14 1282.47,179.48 1283.16,182.00 1283.86,184.68 1284.55,187.55 1285.24,190.60 1285.94,193.84 1286.63,197.27 1287.32,200.91 1288.02,204.74 1288.71,208.77 1289.41,213.00 1290.10,217.43 1290.79,222.04 1291.49,226.84 1292.18,231.81 1292.87,236.94 1293.57,242.22 1294.26,247.64 1294.96,253.17 1295.65,258.80 1296.34,264.50 1297.04,270.26 1297.73,276.05 1298.42,281.84 1299.12,287.63 1299.81,293.37 1300.51,299.06 1301.20,304.67 1301.89,310.17 1302.59,315.56 1303.28,320.80 1303.98,325.90 1304.67,330.83 1305.36,335.58 1306.06,340.15 1306.75,344.53 1307.44,348.71 1308.14,352.70 1308.83,356.48 1309.53,360.07 1310.22,363.46 1310.91,366.65 1311.61,369.66 1312.30,372.48 1312.99,375.12 1313.69,377.59 1314.38,379.90 1315.08,382.05 1315.77,384.06 1316.46,385.92 1317.16,387.65 1317.85,389.25 1318.55,390.73 1319.24,392.11 1319.93,393.37 1320.63,394.55 1321.32,395.63 1322.01,396.63 1322.71,397.55 1323.40,398.39 1324.10,399.17 1324.79,399.89 1325.48,400.55 1326.18,401.15 1326.87,401.71 1327.56,402.22 1328.26,402.69 1328.95,403.12 1329.65,403.51 1330.34,403.87 1331.03,404.20 1331.73,404.51 1332.42,404.79 1333.11,405.04 1333.81,405.28 1334.50,405.49 1335.20,405.69 1335.89,405.87 1336.58,406.03 1337.28,406.18 1337.97,406.32 1338.67,406.45 1339.36,406.56 1340.05,406.67 1340.75,406.76 1341.44,406.85 1342.13,406.93 1342.83,407.01 1343.52,407.07 1344.22,407.14 1344.91,407.19 1345.60,407.24 1346.30,407.29 1346.99,407.34 1347.68,407.38 1348.38,407.41 1349.07,407.44 1349.77,407.48 1350.46,407.50 1351.15,407.53 1351.85,407.55 1352.54,407.57 1353.24,407.59 1353.93,407.61 1354.62,407.63 1355.32,407.64 1356.01,407.65 1356.70,407.67 1357.40,407.68 1358.09,407.69 1358.79,407.70 1359.48,407.71 1360.17,407.72 1360.87,407.72 1361.56,407.73 1362.25,407.74 1362.95,407.74 1363.64,407.75 1364.34,407.75 1365.03,407.75 1365.72,407.76 1366.42,407.76 1367.11,407.77 1367.80,407.77 1368.50,407.77 1369.19,407.77 1369.89,407.78 1370.58,407.78 1371.27,407.78 1371.97,407.78 1372.66,407.78 1373.36,407.78 1374.05,407.79 1374.74,407.79 1375.44,407.79 1376.13,407.79 1376.82,407.79 1377.52,407.79 1378.21,407.79 1378.91,407.79 1379.60,407.79 1380.29,407.79 1380.99,407.79 1381.68,407.79 1382.37,407.80 1383.07,407.80 1383.76,407.80 1384.46,407.80 1385.15,407.80 1385.84,407.80 1386.54,407.80 1387.23,407.80 1387.92,407.80 1388.62,407.80 1389.31,407.80 1390.01,407.80 1390.70,407.80 1391.39,407.80 1392.09,407.80 1392.78,407.80 1393.48,407.80 1394.17,407.80 1394.86,407.80 1395.56,407.80 1396.25,407.80 1396.94,407.80 1397.64,407.80 1398.33,407.80 1399.03,407.80 1399.72,407.80 1400.41,407.80 1401.11,407.80 1401.80,407.80 1402.49,407.80 1403.19,407.80 1403.88,407.80 1404.58,407.80 1405.27,407.80 1405.96,407.80 1406.66,407.80 1407.35,407.80 1408.05,407.80 1408.74,407.80 1409.43,407.80 1410.13,407.80 1410.82,407.80 1411.51,407.80 1412.21,407.80 1412.90,407.80 1413.60,407.80 1414.29,407.80 1414.98,407.80 1415.68,407.80 1416.37,407.80 1417.06,407.80 1417.76,407.80 1418.45,407.80 1419.15,407.80 1419.84,407.80 1420.53,407.80 1421.23,407.80 1421.92,407.80 1422.62,407.80 1423.31,407.80 1424.00,407.80 1424.70,407.80 1425.39,407.80 1426.08,407.80 1426.78,407.80 1427.47,407.80 1428.17,407.80 1428.86,407.80 1429.55,407.80 1430.25,407.80 1430.94,407.80 1431.63,407.80 1432.33,407.80 1433.02,407.80 1433.72,407.80 1434.41,407.80 1435.10,407.80 1435.80,407.80 1436.49,407.80 1437.18,407.80 1437.88,407.80 1438.57,407.80 1439.27,407.80 1439.96,407.80 1440.65,407.80 1441.35,407.80 1442.04,407.80 1442.74,407.80 1443.43,407.80 1444.12,407.80 1444.82,407.80 1445.51,407.80 1446.20,407.80 1446.90,407.80 1447.59,407.80 1448.29,407.80 1448.98,407.80 1449.67,407.80 1450.37,407.80 1451.06,407.80 1451.75,407.80 1452.45,407.80 1453.14,407.80 1453.84,407.80 1454.53,407.80 1455.22,407.80 1455.92,407.80 1456.61,407.80 1457.31,407.80 1458.00,407.80 1458.69,407.80 1459.39,407.80 1460.08,407.80 1460.77,407.80 1461.47,407.80 1462.16,407.80 1462.86,407.80 1463.55,407.80 1464.24,407.80 1464.94,407.80 1465.63,407.80 1466.32,407.80 1467.02,407.80 1467.71,407.80 1468.41,407.80 1469.10,407.80 1469.79,407.80 1470.49,407.80 1471.18,407.80 1471.87,407.80 1472.57,407.80 1473.26,407.80 1473.96,407.80 1474.65,407.80 1475.34,407.80 1476.04,407.80 1476.73,407.80 1477.43,407.80 1478.12,407.80 1478.81,407.80 1479.51,407.80 1480.20,407.80 1480.89,407.80 1481.59,407.80 1482.28,407.80 1482.98,407.80 1483.67,407.80 1484.36,407.80 1485.06,407.80 1485.75,407.80 1486.44,407.80 1487.14,407.80 1487.83,407.80 1488.53,407.80 1489.22,407.80 1489.91,407.80 1490.61,407.80 1491.30,407.80 1492.00,407.80 1492.69,407.80 1493.38,407.80 1494.08,407.80 1494.77,407.80 1495.46,407.80 1496.16,407.80 1496.85,407.80 1497.55,407.80 1498.24,407.80 1498.93,407.80 1499.63,407.80 1500.32,407.80 1501.01,407.80 1501.71,407.80 1502.40,407.80 1503.10,407.80 1503.79,407.80 1504.48,407.80 1505.18,407.80 1505.87,407.80 1506.56,407.80 1507.26,407.80 1507.95,407.80 1508.65,407.80 1509.34,407.80" fill="none" stroke="#0066ff" stroke-width="4.6" stroke-linecap="round" stroke-linejoin="round"/>
<polyline points="1093.06,407.80 1093.75,407.80 1094.45,407.80 1095.14,407.80 1095.84,407.80 1096.53,407.80 1097.22,407.80 1097.92,407.80 1098.61,407.80 1099.30,407.80 1100.00,407.80 1100.69,407.80 1101.39,407.80 1102.08,407.80 1102.77,407.80 1103.47,407.80 1104.16,407.80 1104.85,407.80 1105.55,407.80 1106.24,407.80 1106.94,407.80 1107.63,407.80 1108.32,407.80 1109.02,407.80 1109.71,407.80 1110.40,407.80 1111.10,407.80 1111.79,407.80 1112.49,407.80 1113.18,407.80 1113.87,407.80 1114.57,407.80 1115.26,407.80 1115.96,407.80 1116.65,407.80 1117.34,407.80 1118.04,407.80 1118.73,407.80 1119.42,407.80 1120.12,407.80 1120.81,407.80 1121.51,407.80 1122.20,407.80 1122.89,407.80 1123.59,407.80 1124.28,407.80 1124.97,407.80 1125.67,407.80 1126.36,407.80 1127.06,407.80 1127.75,407.80 1128.44,407.80 1129.14,407.80 1129.83,407.80 1130.53,407.80 1131.22,407.80 1131.91,407.80 1132.61,407.80 1133.30,407.80 1133.99,407.80 1134.69,407.80 1135.38,407.80 1136.08,407.80 1136.77,407.80 1137.46,407.80 1138.16,407.80 1138.85,407.80 1139.54,407.80 1140.24,407.80 1140.93,407.80 1141.63,407.80 1142.32,407.80 1143.01,407.80 1143.71,407.80 1144.40,407.80 1145.10,407.80 1145.79,407.80 1146.48,407.80 1147.18,407.80 1147.87,407.80 1148.56,407.80 1149.26,407.80 1149.95,407.80 1150.65,407.80 1151.34,407.80 1152.03,407.80 1152.73,407.80 1153.42,407.80 1154.11,407.80 1154.81,407.80 1155.50,407.80 1156.20,407.80 1156.89,407.80 1157.58,407.80 1158.28,407.80 1158.97,407.80 1159.66,407.80 1160.36,407.80 1161.05,407.80 1161.75,407.80 1162.44,407.80 1163.13,407.80 1163.83,407.80 1164.52,407.80 1165.22,407.80 1165.91,407.80 1166.60,407.80 1167.30,407.80 1167.99,407.80 1168.68,407.80 1169.38,407.80 1170.07,407.80 1170.77,407.80 1171.46,407.80 1172.15,407.80 1172.85,407.80 1173.54,407.80 1174.23,407.80 1174.93,407.80 1175.62,407.80 1176.32,407.80 1177.01,407.80 1177.70,407.80 1178.40,407.80 1179.09,407.80 1179.79,407.80 1180.48,407.80 1181.17,407.80 1181.87,407.80 1182.56,407.80 1183.25,407.80 1183.95,407.80 1184.64,407.80 1185.34,407.80 1186.03,407.80 1186.72,407.80 1187.42,407.80 1188.11,407.80 1188.80,407.80 1189.50,407.80 1190.19,407.80 1190.89,407.80 1191.58,407.80 1192.27,407.80 1192.97,407.80 1193.66,407.80 1194.35,407.80 1195.05,407.80 1195.74,407.80 1196.44,407.80 1197.13,407.80 1197.82,407.80 1198.52,407.80 1199.21,407.80 1199.91,407.80 1200.60,407.80 1201.29,407.80 1201.99,407.80 1202.68,407.80 1203.37,407.80 1204.07,407.80 1204.76,407.80 1205.46,407.80 1206.15,407.80 1206.84,407.80 1207.54,407.80 1208.23,407.80 1208.92,407.80 1209.62,407.80 1210.31,407.80 1211.01,407.80 1211.70,407.80 1212.39,407.80 1213.09,407.80 1213.78,407.80 1214.48,407.79 1215.17,407.79 1215.86,407.79 1216.56,407.79 1217.25,407.79 1217.94,407.79 1218.64,407.79 1219.33,407.79 1220.03,407.79 1220.72,407.79 1221.41,407.79 1222.11,407.79 1222.80,407.78 1223.49,407.78 1224.19,407.78 1224.88,407.78 1225.58,407.78 1226.27,407.78 1226.96,407.77 1227.66,407.77 1228.35,407.77 1229.04,407.76 1229.74,407.76 1230.43,407.76 1231.13,407.75 1231.82,407.75 1232.51,407.74 1233.21,407.74 1233.90,407.73 1234.60,407.73 1235.29,407.72 1235.98,407.71 1236.68,407.71 1237.37,407.70 1238.06,407.69 1238.76,407.68 1239.45,407.67 1240.15,407.65 1240.84,407.64 1241.53,407.62 1242.23,407.61 1242.92,407.59 1243.61,407.57 1244.31,407.55 1245.00,407.52 1245.70,407.50 1246.39,407.47 1247.08,407.44 1247.78,407.41 1248.47,407.37 1249.16,407.33 1249.86,407.28 1250.55,407.24 1251.25,407.18 1251.94,407.13 1252.63,407.06 1253.33,407.00 1254.02,406.92 1254.72,406.84 1255.41,406.75 1256.10,406.65 1256.80,406.54 1257.49,406.43 1258.18,406.30 1258.88,406.16 1259.57,406.01 1260.27,405.84 1260.96,405.66 1261.65,405.46 1262.35,405.24 1263.04,405.00 1263.73,404.74 1264.43,404.46 1265.12,404.15 1265.82,403.82 1266.51,403.45 1267.20,403.05 1267.90,402.61 1268.59,402.14 1269.29,401.62 1269.98,401.06 1270.67,400.45 1271.37,399.78 1272.06,399.05 1272.75,398.26 1273.45,397.41 1274.14,396.48 1274.84,395.47 1275.53,394.37 1276.22,393.19 1276.92,391.91 1277.61,390.52 1278.30,389.02 1279.00,387.40 1279.69,385.65 1280.39,383.78 1281.08,381.76 1281.77,379.59 1282.47,377.26 1283.16,374.77 1283.86,372.11 1284.55,369.27 1285.24,366.25 1285.94,363.04 1286.63,359.64 1287.32,356.05 1288.02,352.26 1288.71,348.28 1289.41,344.10 1290.10,339.73 1290.79,335.17 1291.49,330.44 1292.18,325.55 1292.87,320.49 1293.57,315.30 1294.26,309.98 1294.96,304.55 1295.65,299.04 1296.34,293.46 1297.04,287.84 1297.73,282.20 1298.42,276.56 1299.12,270.95 1299.81,265.40 1300.51,259.93 1301.20,254.55 1301.89,249.30 1302.59,244.19 1303.28,239.24 1303.98,234.47 1304.67,229.90 1305.36,225.53 1306.06,221.39 1306.75,217.47 1307.44,213.79 1308.14,210.36 1308.83,207.17 1309.53,204.23 1310.22,201.55 1310.91,199.12 1311.61,196.95 1312.30,195.04 1312.99,193.38 1313.69,191.97 1314.38,190.82 1315.08,189.92 1315.77,189.28 1316.46,188.88 1317.16,188.73 1317.85,188.84 1318.55,189.19 1319.24,189.80 1319.93,190.66 1320.63,191.77 1321.32,193.13 1322.01,194.75 1322.71,196.62 1323.40,198.75 1324.10,201.13 1324.79,203.77 1325.48,206.66 1326.18,209.81 1326.87,213.21 1327.56,216.84 1328.26,220.72 1328.95,224.83 1329.65,229.16 1330.34,233.70 1331.03,238.44 1331.73,243.36 1332.42,248.44 1333.11,253.67 1333.81,259.03 1334.50,264.49 1335.20,270.03 1335.89,275.63 1336.58,281.26 1337.28,286.91 1337.97,292.53 1338.67,298.12 1339.36,303.65 1340.05,309.09 1340.75,314.43 1341.44,319.64 1342.13,324.72 1342.83,329.64 1343.52,334.40 1344.22,338.99 1344.91,343.39 1345.60,347.60 1346.30,351.62 1346.99,355.44 1347.68,359.06 1348.38,362.49 1349.07,365.73 1349.77,368.78 1350.46,371.65 1351.15,374.34 1351.85,376.86 1352.54,379.21 1353.24,381.41 1353.93,383.45 1354.62,385.35 1355.32,387.12 1356.01,388.76 1356.70,390.28 1357.40,391.68 1358.09,392.98 1358.79,394.18 1359.48,395.29 1360.17,396.32 1360.87,397.26 1361.56,398.13 1362.25,398.93 1362.95,399.66 1363.64,400.34 1364.34,400.96 1365.03,401.53 1365.72,402.06 1366.42,402.54 1367.11,402.98 1367.80,403.39 1368.50,403.76 1369.19,404.10 1369.89,404.41 1370.58,404.70 1371.27,404.96 1371.97,405.20 1372.66,405.42 1373.36,405.62 1374.05,405.81 1374.74,405.98 1375.44,406.13 1376.13,406.28 1376.82,406.41 1377.52,406.52 1378.21,406.63 1378.91,406.73 1379.60,406.82 1380.29,406.91 1380.99,406.98 1381.68,407.05 1382.37,407.12 1383.07,407.18 1383.76,407.23 1384.46,407.28 1385.15,407.32 1385.84,407.36 1386.54,407.40 1387.23,407.43 1387.92,407.47 1388.62,407.49 1389.31,407.52 1390.01,407.54 1390.70,407.57 1391.39,407.59 1392.09,407.60 1392.78,407.62 1393.48,407.64 1394.17,407.65 1394.86,407.66 1395.56,407.68 1396.25,407.69 1396.94,407.70 1397.64,407.70 1398.33,407.71 1399.03,407.72 1399.72,407.73 1400.41,407.73 1401.11,407.74 1401.80,407.74 1402.49,407.75 1403.19,407.75 1403.88,407.76 1404.58,407.76 1405.27,407.76 1405.96,407.77 1406.66,407.77 1407.35,407.77 1408.05,407.78 1408.74,407.78 1409.43,407.78 1410.13,407.78 1410.82,407.78 1411.51,407.78 1412.21,407.79 1412.90,407.79 1413.60,407.79 1414.29,407.79 1414.98,407.79 1415.68,407.79 1416.37,407.79 1417.06,407.79 1417.76,407.79 1418.45,407.79 1419.15,407.79 1419.84,407.79 1420.53,407.80 1421.23,407.80 1421.92,407.80 1422.62,407.80 1423.31,407.80 1424.00,407.80 1424.70,407.80 1425.39,407.80 1426.08,407.80 1426.78,407.80 1427.47,407.80 1428.17,407.80 1428.86,407.80 1429.55,407.80 1430.25,407.80 1430.94,407.80 1431.63,407.80 1432.33,407.80 1433.02,407.80 1433.72,407.80 1434.41,407.80 1435.10,407.80 1435.80,407.80 1436.49,407.80 1437.18,407.80 1437.88,407.80 1438.57,407.80 1439.27,407.80 1439.96,407.80 1440.65,407.80 1441.35,407.80 1442.04,407.80 1442.74,407.80 1443.43,407.80 1444.12,407.80 1444.82,407.80 1445.51,407.80 1446.20,407.80 1446.90,407.80 1447.59,407.80 1448.29,407.80 1448.98,407.80 1449.67,407.80 1450.37,407.80 1451.06,407.80 1451.75,407.80 1452.45,407.80 1453.14,407.80 1453.84,407.80 1454.53,407.80 1455.22,407.80 1455.92,407.80 1456.61,407.80 1457.31,407.80 1458.00,407.80 1458.69,407.80 1459.39,407.80 1460.08,407.80 1460.77,407.80 1461.47,407.80 1462.16,407.80 1462.86,407.80 1463.55,407.80 1464.24,407.80 1464.94,407.80 1465.63,407.80 1466.32,407.80 1467.02,407.80 1467.71,407.80 1468.41,407.80 1469.10,407.80 1469.79,407.80 1470.49,407.80 1471.18,407.80 1471.87,407.80 1472.57,407.80 1473.26,407.80 1473.96,407.80 1474.65,407.80 1475.34,407.80 1476.04,407.80 1476.73,407.80 1477.43,407.80 1478.12,407.80 1478.81,407.80 1479.51,407.80 1480.20,407.80 1480.89,407.80 1481.59,407.80 1482.28,407.80 1482.98,407.80 1483.67,407.80 1484.36,407.80 1485.06,407.80 1485.75,407.80 1486.44,407.80 1487.14,407.80 1487.83,407.80 1488.53,407.80 1489.22,407.80 1489.91,407.80 1490.61,407.80 1491.30,407.80 1492.00,407.80 1492.69,407.80 1493.38,407.80 1494.08,407.80 1494.77,407.80 1495.46,407.80 1496.16,407.80 1496.85,407.80 1497.55,407.80 1498.24,407.80 1498.93,407.80 1499.63,407.80 1500.32,407.80 1501.01,407.80 1501.71,407.80 1502.40,407.80 1503.10,407.80 1503.79,407.80 1504.48,407.80 1505.18,407.80 1505.87,407.80 1506.56,407.80 1507.26,407.80 1507.95,407.80 1508.65,407.80 1509.34,407.80" fill="none" stroke="#ff00ff" stroke-width="4.6" stroke-linecap="round" stroke-linejoin="round"/>
<polyline points="1093.06,407.80 1093.75,407.80 1094.45,407.80 1095.14,407.80 1095.84,407.80 1096.53,407.80 1097.22,407.80 1097.92,407.80 1098.61,407.80 1099.30,407.80 1100.00,407.80 1100.69,407.80 1101.39,407.80 1102.08,407.80 1102.77,407.80 1103.47,407.80 1104.16,407.80 1104.85,407.80 1105.55,407.80 1106.24,407.80 1106.94,407.80 1107.63,407.80 1108.32,407.80 1109.02,407.80 1109.71,407.80 1110.40,407.80 1111.10,407.80 1111.79,407.80 1112.49,407.80 1113.18,407.80 1113.87,407.80 1114.57,407.80 1115.26,407.80 1115.96,407.80 1116.65,407.80 1117.34,407.80 1118.04,407.80 1118.73,407.80 1119.42,407.80 1120.12,407.80 1120.81,407.80 1121.51,407.80 1122.20,407.80 1122.89,407.80 1123.59,407.80 1124.28,407.80 1124.97,407.80 1125.67,407.80 1126.36,407.80 1127.06,407.80 1127.75,407.80 1128.44,407.80 1129.14,407.80 1129.83,407.80 1130.53,407.80 1131.22,407.80 1131.91,407.80 1132.61,407.80 1133.30,407.80 1133.99,407.80 1134.69,407.80 1135.38,407.80 1136.08,407.80 1136.77,407.80 1137.46,407.80 1138.16,407.80 1138.85,407.80 1139.54,407.80 1140.24,407.80 1140.93,407.80 1141.63,407.80 1142.32,407.80 1143.01,407.80 1143.71,407.80 1144.40,407.80 1145.10,407.80 1145.79,407.80 1146.48,407.80 1147.18,407.80 1147.87,407.80 1148.56,407.80 1149.26,407.80 1149.95,407.80 1150.65,407.80 1151.34,407.80 1152.03,407.80 1152.73,407.80 1153.42,407.80 1154.11,407.80 1154.81,407.80 1155.50,407.80 1156.20,407.80 1156.89,407.80 1157.58,407.80 1158.28,407.80 1158.97,407.80 1159.66,407.80 1160.36,407.80 1161.05,407.80 1161.75,407.80 1162.44,407.80 1163.13,407.80 1163.83,407.80 1164.52,407.80 1165.22,407.80 1165.91,407.80 1166.60,407.80 1167.30,407.80 1167.99,407.80 1168.68,407.80 1169.38,407.80 1170.07,407.80 1170.77,407.80 1171.46,407.80 1172.15,407.80 1172.85,407.80 1173.54,407.80 1174.23,407.80 1174.93,407.80 1175.62,407.80 1176.32,407.80 1177.01,407.80 1177.70,407.80 1178.40,407.80 1179.09,407.80 1179.79,407.80 1180.48,407.80 1181.17,407.80 1181.87,407.80 1182.56,407.80 1183.25,407.80 1183.95,407.80 1184.64,407.80 1185.34,407.80 1186.03,407.80 1186.72,407.80 1187.42,407.80 1188.11,407.80 1188.80,407.80 1189.50,407.80 1190.19,407.80 1190.89,407.80 1191.58,407.80 1192.27,407.80 1192.97,407.80 1193.66,407.80 1194.35,407.80 1195.05,407.80 1195.74,407.80 1196.44,407.80 1197.13,407.80 1197.82,407.80 1198.52,407.80 1199.21,407.80 1199.91,407.80 1200.60,407.80 1201.29,407.80 1201.99,407.80 1202.68,407.80 1203.37,407.80 1204.07,407.80 1204.76,407.80 1205.46,407.80 1206.15,407.80 1206.84,407.80 1207.54,407.80 1208.23,407.80 1208.92,407.80 1209.62,407.80 1210.31,407.80 1211.01,407.80 1211.70,407.80 1212.39,407.80 1213.09,407.80 1213.78,407.80 1214.48,407.80 1215.17,407.80 1215.86,407.80 1216.56,407.80 1217.25,407.80 1217.94,407.80 1218.64,407.80 1219.33,407.80 1220.03,407.80 1220.72,407.80 1221.41,407.80 1222.11,407.80 1222.80,407.80 1223.49,407.80 1224.19,407.80 1224.88,407.80 1225.58,407.80 1226.27,407.80 1226.96,407.80 1227.66,407.80 1228.35,407.80 1229.04,407.80 1229.74,407.80 1230.43,407.80 1231.13,407.80 1231.82,407.80 1232.51,407.80 1233.21,407.80 1233.90,407.80 1234.60,407.80 1235.29,407.80 1235.98,407.80 1236.68,407.80 1237.37,407.80 1238.06,407.80 1238.76,407.80 1239.45,407.80 1240.15,407.80 1240.84,407.80 1241.53,407.80 1242.23,407.80 1242.92,407.80 1243.61,407.80 1244.31,407.80 1245.00,407.80 1245.70,407.80 1246.39,407.80 1247.08,407.80 1247.78,407.80 1248.47,407.80 1249.16,407.80 1249.86,407.80 1250.55,407.80 1251.25,407.80 1251.94,407.80 1252.63,407.79 1253.33,407.79 1254.02,407.79 1254.72,407.79 1255.41,407.79 1256.10,407.79 1256.80,407.79 1257.49,407.79 1258.18,407.79 1258.88,407.79 1259.57,407.79 1260.27,407.79 1260.96,407.78 1261.65,407.78 1262.35,407.78 1263.04,407.78 1263.73,407.78 1264.43,407.78 1265.12,407.77 1265.82,407.77 1266.51,407.77 1267.20,407.77 1267.90,407.76 1268.59,407.76 1269.29,407.76 1269.98,407.75 1270.67,407.75 1271.37,407.74 1272.06,407.74 1272.75,407.73 1273.45,407.72 1274.14,407.72 1274.84,407.71 1275.53,407.70 1276.22,407.69 1276.92,407.68 1277.61,407.67 1278.30,407.66 1279.00,407.64 1279.69,407.63 1280.39,407.61 1281.08,407.60 1281.77,407.58 1282.47,407.56 1283.16,407.53 1283.86,407.51 1284.55,407.48 1285.24,407.45 1285.94,407.42 1286.63,407.38 1287.32,407.34 1288.02,407.30 1288.71,407.25 1289.41,407.20 1290.10,407.15 1290.79,407.08 1291.49,407.02 1292.18,406.95 1292.87,406.87 1293.57,406.78 1294.26,406.68 1294.96,406.58 1295.65,406.46 1296.34,406.34 1297.04,406.20 1297.73,406.06 1298.42,405.89 1299.12,405.72 1299.81,405.52 1300.51,405.31 1301.20,405.08 1301.89,404.83 1302.59,404.56 1303.28,404.26 1303.98,403.93 1304.67,403.57 1305.36,403.18 1306.06,402.76 1306.75,402.30 1307.44,401.79 1308.14,401.25 1308.83,400.65 1309.53,400.00 1310.22,399.29 1310.91,398.52 1311.61,397.69 1312.30,396.78 1312.99,395.80 1313.69,394.73 1314.38,393.58 1315.08,392.32 1315.77,390.97 1316.46,389.50 1317.16,387.92 1317.85,386.21 1318.55,384.37 1319.24,382.39 1319.93,380.27 1320.63,377.99 1321.32,375.54 1322.01,372.93 1322.71,370.14 1323.40,367.16 1324.10,364.00 1324.79,360.64 1325.48,357.09 1326.18,353.34 1326.87,349.39 1327.56,345.24 1328.26,340.89 1328.95,336.35 1329.65,331.63 1330.34,326.73 1331.03,321.66 1331.73,316.43 1332.42,311.07 1333.11,305.59 1333.81,300.00 1334.50,294.32 1335.20,288.58 1335.89,282.80 1336.58,277.01 1337.28,271.21 1337.97,265.45 1338.67,259.74 1339.36,254.09 1340.05,248.55 1340.75,243.11 1341.44,237.81 1342.13,232.65 1342.83,227.65 1343.52,222.82 1344.22,218.18 1344.91,213.72 1345.60,209.46 1346.30,205.39 1346.99,201.53 1347.68,197.86 1348.38,194.39 1349.07,191.12 1349.77,188.04 1350.46,185.14 1351.15,182.43 1351.85,179.89 1352.54,177.52 1353.24,175.30 1353.93,173.24 1354.62,171.32 1355.32,169.54 1356.01,167.89 1356.70,166.36 1357.40,164.94 1358.09,163.63 1358.79,162.42 1359.48,161.30 1360.17,160.27 1360.87,159.32 1361.56,158.44 1362.25,157.64 1362.95,156.90 1363.64,156.21 1364.34,155.59 1365.03,155.01 1365.72,154.48 1366.42,154.00 1367.11,153.55 1367.80,153.15 1368.50,152.77 1369.19,152.43 1369.89,152.11 1370.58,151.82 1371.27,151.56 1371.97,151.32 1372.66,151.09 1373.36,150.89 1374.05,150.70 1374.74,150.53 1375.44,150.38 1376.13,150.24 1376.82,150.10 1377.52,149.98 1378.21,149.88 1378.91,149.78 1379.60,149.68 1380.29,149.60 1380.99,149.52 1381.68,149.45 1382.37,149.39 1383.07,149.33 1383.76,149.28 1384.46,149.23 1385.15,149.18 1385.84,149.14 1386.54,149.10 1387.23,149.07 1387.92,149.04 1388.62,149.01 1389.31,148.98 1390.01,148.96 1390.70,148.94 1391.39,148.92 1392.09,148.90 1392.78,148.88 1393.48,148.86 1394.17,148.85 1394.86,148.84 1395.56,148.83 1396.25,148.82 1396.94,148.81 1397.64,148.80 1398.33,148.79 1399.03,148.78 1399.72,148.77 1400.41,148.77 1401.11,148.76 1401.80,148.76 1402.49,148.75 1403.19,148.75 1403.88,148.74 1404.58,148.74 1405.27,148.74 1405.96,148.73 1406.66,148.73 1407.35,148.73 1408.05,148.73 1408.74,148.72 1409.43,148.72 1410.13,148.72 1410.82,148.72 1411.51,148.72 1412.21,148.71 1412.90,148.71 1413.60,148.71 1414.29,148.71 1414.98,148.71 1415.68,148.71 1416.37,148.71 1417.06,148.71 1417.76,148.71 1418.45,148.71 1419.15,148.71 1419.84,148.71 1420.53,148.71 1421.23,148.70 1421.92,148.70 1422.62,148.70 1423.31,148.70 1424.00,148.70 1424.70,148.70 1425.39,148.70 1426.08,148.70 1426.78,148.70 1427.47,148.70 1428.17,148.70 1428.86,148.70 1429.55,148.70 1430.25,148.70 1430.94,148.70 1431.63,148.70 1432.33,148.70 1433.02,148.70 1433.72,148.70 1434.41,148.70 1435.10,148.70 1435.80,148.70 1436.49,148.70 1437.18,148.70 1437.88,148.70 1438.57,148.70 1439.27,148.70 1439.96,148.70 1440.65,148.70 1441.35,148.70 1442.04,148.70 1442.74,148.70 1443.43,148.70 1444.12,148.70 1444.82,148.70 1445.51,148.70 1446.20,148.70 1446.90,148.70 1447.59,148.70 1448.29,148.70 1448.98,148.70 1449.67,148.70 1450.37,148.70 1451.06,148.70 1451.75,148.70 1452.45,148.70 1453.14,148.70 1453.84,148.70 1454.53,148.70 1455.22,148.70 1455.92,148.70 1456.61,148.70 1457.31,148.70 1458.00,148.70 1458.69,148.70 1459.39,148.70 1460.08,148.70 1460.77,148.70 1461.47,148.70 1462.16,148.70 1462.86,148.70 1463.55,148.70 1464.24,148.70 1464.94,148.70 1465.63,148.70 1466.32,148.70 1467.02,148.70 1467.71,148.70 1468.41,148.70 1469.10,148.70 1469.79,148.70 1470.49,148.70 1471.18,148.70 1471.87,148.70 1472.57,148.70 1473.26,148.70 1473.96,148.70 1474.65,148.70 1475.34,148.70 1476.04,148.70 1476.73,148.70 1477.43,148.70 1478.12,148.70 1478.81,148.70 1479.51,148.70 1480.20,148.70 1480.89,148.70 1481.59,148.70 1482.28,148.70 1482.98,148.70 1483.67,148.70 1484.36,148.70 1485.06,148.70 1485.75,148.70 1486.44,148.70 1487.14,148.70 1487.83,148.70 1488.53,148.70 1489.22,148.70 1489.91,148.70 1490.61,148.70 1491.30,148.70 1492.00,148.70 1492.69,148.70 1493.38,148.70 1494.08,148.70 1494.77,148.70 1495.46,148.70 1496.16,148.70 1496.85,148.70 1497.55,148.70 1498.24,148.70 1498.93,148.70 1499.63,148.70 1500.32,148.70 1501.01,148.70 1501.71,148.70 1502.40,148.70 1503.10,148.70 1503.79,148.70 1504.48,148.70 1505.18,148.70 1505.87,148.70 1506.56,148.70 1507.26,148.70 1507.95,148.70 1508.65,148.70 1509.34,148.70" fill="none" stroke="#004800" stroke-width="4.6" stroke-linecap="round" stroke-linejoin="round"/>
<rect x="114.80" y="433.40" width="474.55" height="20.60" fill="#9fcae0"/>
<rect x="116.30" y="434.60" width="471.55" height="2.2" fill="#aadcf4"/>
<rect x="116.30" y="450.60" width="471.55" height="2.2" fill="#aadcf4"/>
<text x="352.07" y="450.70" font-family="'Liberation Sans', Arial, Helvetica, sans-serif" font-size="17" text-anchor="middle" fill="#111" stroke="#000" stroke-width="0.45">I4</text>
<polyline points="143.96,480.40 144.65,480.40 145.35,480.40 146.04,480.40 146.74,480.40 147.43,480.40 148.12,480.40 148.82,480.40 149.51,480.40 150.20,480.40 150.90,480.40 151.59,480.40 152.29,480.40 152.98,480.40 153.67,480.40 154.37,480.40 155.06,480.40 155.75,480.40 156.45,480.40 157.14,480.40 157.84,480.40 158.53,480.40 159.22,480.40 159.92,480.40 160.61,480.40 161.31,480.40 162.00,480.40 162.69,480.40 163.39,480.40 164.08,480.40 164.77,480.40 165.47,480.40 166.16,480.40 166.86,480.40 167.55,480.40 168.24,480.40 168.94,480.40 169.63,480.40 170.32,480.40 171.02,480.40 171.71,480.40 172.41,480.40 173.10,480.40 173.79,480.40 174.49,480.40 175.18,480.40 175.87,480.40 176.57,480.40 177.26,480.40 177.96,480.40 178.65,480.40 179.34,480.40 180.04,480.40 180.73,480.40 181.43,480.40 182.12,480.40 182.81,480.40 183.51,480.40 184.20,480.40 184.89,480.40 185.59,480.40 186.28,480.40 186.98,480.40 187.67,480.40 188.36,480.40 189.06,480.40 189.75,480.40 190.44,480.40 191.14,480.40 191.83,480.40 192.53,480.40 193.22,480.40 193.91,480.40 194.61,480.40 195.30,480.40 196.00,480.40 196.69,480.40 197.38,480.40 198.08,480.40 198.77,480.40 199.46,480.40 200.16,480.40 200.85,480.40 201.55,480.40 202.24,480.40 202.93,480.40 203.63,480.40 204.32,480.40 205.01,480.40 205.71,480.40 206.40,480.40 207.10,480.40 207.79,480.40 208.48,480.40 209.18,480.40 209.87,480.40 210.56,480.40 211.26,480.40 211.95,480.40 212.65,480.40 213.34,480.40 214.03,480.40 214.73,480.40 215.42,480.40 216.12,480.40 216.81,480.40 217.50,480.40 218.20,480.40 218.89,480.40 219.58,480.40 220.28,480.40 220.97,480.40 221.67,480.40 222.36,480.40 223.05,480.40 223.75,480.40 224.44,480.40 225.13,480.40 225.83,480.40 226.52,480.40 227.22,480.40 227.91,480.40 228.60,480.40 229.30,480.40 229.99,480.40 230.69,480.40 231.38,480.40 232.07,480.40 232.77,480.40 233.46,480.40 234.15,480.40 234.85,480.40 235.54,480.40 236.24,480.40 236.93,480.40 237.62,480.40 238.32,480.40 239.01,480.40 239.70,480.40 240.40,480.40 241.09,480.40 241.79,480.40 242.48,480.40 243.17,480.40 243.87,480.40 244.56,480.40 245.25,480.40 245.95,480.40 246.64,480.40 247.34,480.40 248.03,480.40 248.72,480.40 249.42,480.40 250.11,480.40 250.81,480.40 251.50,480.40 252.19,480.40 252.89,480.40 253.58,480.40 254.27,480.40 254.97,480.40 255.66,480.40 256.36,480.40 257.05,480.40 257.74,480.40 258.44,480.40 259.13,480.40 259.82,480.40 260.52,480.40 261.21,480.40 261.91,480.40 262.60,480.40 263.29,480.40 263.99,480.40 264.68,480.40 265.38,480.40 266.07,480.40 266.76,480.40 267.46,480.40 268.15,480.40 268.84,480.40 269.54,480.40 270.23,480.40 270.93,480.40 271.62,480.40 272.31,480.40 273.01,480.40 273.70,480.41 274.39,480.41 275.09,480.41 275.78,480.41 276.48,480.41 277.17,480.41 277.86,480.41 278.56,480.41 279.25,480.42 279.94,480.42 280.64,480.42 281.33,480.42 282.03,480.43 282.72,480.43 283.41,480.43 284.11,480.44 284.80,480.44 285.50,480.45 286.19,480.45 286.88,480.46 287.58,480.47 288.27,480.48 288.96,480.49 289.66,480.50 290.35,480.52 291.05,480.53 291.74,480.55 292.43,480.57 293.13,480.60 293.82,480.63 294.51,480.66 295.21,480.69 295.90,480.73 296.60,480.78 297.29,480.83 297.98,480.89 298.68,480.96 299.37,481.03 300.07,481.12 300.76,481.22 301.45,481.33 302.15,481.46 302.84,481.60 303.53,481.77 304.23,481.95 304.92,482.16 305.62,482.41 306.31,482.68 307.00,482.99 307.70,483.34 308.39,483.74 309.08,484.19 309.78,484.71 310.47,485.29 311.17,485.95 311.86,486.69 312.55,487.54 313.25,488.49 313.94,489.56 314.63,490.77 315.33,492.13 316.02,493.67 316.72,495.39 317.41,497.31 318.10,499.47 318.80,501.88 319.49,504.56 320.19,507.53 320.88,510.83 321.57,514.47 322.27,518.47 322.96,522.85 323.65,527.62 324.35,532.81 325.04,538.41 325.74,544.42 326.43,550.83 327.12,557.64 327.82,564.80 328.51,572.30 329.20,580.08 329.90,588.10 330.59,596.29 331.29,604.59 331.98,612.94 332.67,621.27 333.37,629.50 334.06,637.57 334.75,645.42 335.45,653.01 336.14,660.27 336.84,667.18 337.53,673.71 338.22,679.83 338.92,685.55 339.61,690.85 340.31,695.74 341.00,700.23 341.69,704.34 342.39,708.08 343.08,711.47 343.77,714.53 344.47,717.29 345.16,719.77 345.86,722.00 346.55,723.99 347.24,725.77 347.94,727.35 348.63,728.76 349.32,730.01 350.02,731.12 350.71,732.11 351.41,732.98 352.10,733.75 352.79,734.43 353.49,735.03 354.18,735.57 354.88,736.04 355.57,736.45 356.26,736.82 356.96,737.14 357.65,737.42 358.34,737.67 359.04,737.89 359.73,738.08 360.43,738.25 361.12,738.40 361.81,738.54 362.51,738.65 363.20,738.75 363.89,738.84 364.59,738.92 365.28,738.99 365.98,739.05 366.67,739.11 367.36,739.16 368.06,739.20 368.75,739.23 369.45,739.27 370.14,739.29 370.83,739.32 371.53,739.34 372.22,739.36 372.91,739.38 373.61,739.39 374.30,739.41 375.00,739.42 375.69,739.43 376.38,739.44 377.08,739.44 377.77,739.45 378.46,739.46 379.16,739.46 379.85,739.47 380.55,739.47 381.24,739.47 381.93,739.48 382.63,739.48 383.32,739.48 384.01,739.48 384.71,739.49 385.40,739.49 386.10,739.49 386.79,739.49 387.48,739.49 388.18,739.49 388.87,739.49 389.57,739.49 390.26,739.50 390.95,739.50 391.65,739.50 392.34,739.50 393.03,739.50 393.73,739.50 394.42,739.50 395.12,739.50 395.81,739.50 396.50,739.50 397.20,739.50 397.89,739.50 398.58,739.50 399.28,739.50 399.97,739.50 400.67,739.50 401.36,739.50 402.05,739.50 402.75,739.50 403.44,739.50 404.13,739.50 404.83,739.50 405.52,739.50 406.22,739.50 406.91,739.50 407.60,739.50 408.30,739.50 408.99,739.50 409.69,739.50 410.38,739.50 411.07,739.50 411.77,739.50 412.46,739.50 413.15,739.50 413.85,739.50 414.54,739.50 415.24,739.50 415.93,739.50 416.62,739.50 417.32,739.50 418.01,739.50 418.70,739.50 419.40,739.50 420.09,739.50 420.79,739.50 421.48,739.50 422.17,739.50 422.87,739.50 423.56,739.50 424.26,739.50 424.95,739.50 425.64,739.50 426.34,739.50 427.03,739.50 427.72,739.50 428.42,739.50 429.11,739.50 429.81,739.50 430.50,739.50 431.19,739.50 431.89,739.50 432.58,739.50 433.27,739.50 433.97,739.50 434.66,739.50 435.36,739.50 436.05,739.50 436.74,739.50 437.44,739.50 438.13,739.50 438.83,739.50 439.52,739.50 440.21,739.50 440.91,739.50 441.60,739.50 442.29,739.50 442.99,739.50 443.68,739.50 444.38,739.50 445.07,739.50 445.76,739.50 446.46,739.50 447.15,739.50 447.84,739.50 448.54,739.50 449.23,739.50 449.93,739.50 450.62,739.50 451.31,739.50 452.01,739.50 452.70,739.50 453.39,739.50 454.09,739.50 454.78,739.50 455.48,739.50 456.17,739.50 456.86,739.50 457.56,739.50 458.25,739.50 458.95,739.50 459.64,739.50 460.33,739.50 461.03,739.50 461.72,739.50 462.41,739.50 463.11,739.50 463.80,739.50 464.50,739.50 465.19,739.50 465.88,739.50 466.58,739.50 467.27,739.50 467.96,739.50 468.66,739.50 469.35,739.50 470.05,739.50 470.74,739.50 471.43,739.50 472.13,739.50 472.82,739.50 473.51,739.50 474.21,739.50 474.90,739.50 475.60,739.50 476.29,739.50 476.98,739.50 477.68,739.50 478.37,739.50 479.07,739.50 479.76,739.50 480.45,739.50 481.15,739.50 481.84,739.50 482.53,739.50 483.23,739.50 483.92,739.50 484.62,739.50 485.31,739.50 486.00,739.50 486.70,739.50 487.39,739.50 488.08,739.50 488.78,739.50 489.47,739.50 490.17,739.50 490.86,739.50 491.55,739.50 492.25,739.50 492.94,739.50 493.64,739.50 494.33,739.50 495.02,739.50 495.72,739.50 496.41,739.50 497.10,739.50 497.80,739.50 498.49,739.50 499.19,739.50 499.88,739.50 500.57,739.50 501.27,739.50 501.96,739.50 502.65,739.50 503.35,739.50 504.04,739.50 504.74,739.50 505.43,739.50 506.12,739.50 506.82,739.50 507.51,739.50 508.21,739.50 508.90,739.50 509.59,739.50 510.29,739.50 510.98,739.50 511.67,739.50 512.37,739.50 513.06,739.50 513.76,739.50 514.45,739.50 515.14,739.50 515.84,739.50 516.53,739.50 517.22,739.50 517.92,739.50 518.61,739.50 519.31,739.50 520.00,739.50 520.69,739.50 521.39,739.50 522.08,739.50 522.77,739.50 523.47,739.50 524.16,739.50 524.86,739.50 525.55,739.50 526.24,739.50 526.94,739.50 527.63,739.50 528.33,739.50 529.02,739.50 529.71,739.50 530.41,739.50 531.10,739.50 531.79,739.50 532.49,739.50 533.18,739.50 533.88,739.50 534.57,739.50 535.26,739.50 535.96,739.50 536.65,739.50 537.34,739.50 538.04,739.50 538.73,739.50 539.43,739.50 540.12,739.50 540.81,739.50 541.51,739.50 542.20,739.50 542.89,739.50 543.59,739.50 544.28,739.50 544.98,739.50 545.67,739.50 546.36,739.50 547.06,739.50 547.75,739.50 548.45,739.50 549.14,739.50 549.83,739.50 550.53,739.50 551.22,739.50 551.91,739.50 552.61,739.50 553.30,739.50 554.00,739.50 554.69,739.50 555.38,739.50 556.08,739.50 556.77,739.50 557.46,739.50 558.16,739.50 558.85,739.50 559.55,739.50 560.24,739.50" fill="none" stroke="#0066ff" stroke-width="4.6" stroke-linecap="round" stroke-linejoin="round"/>
<polyline points="143.96,739.50 144.65,739.50 145.35,739.50 146.04,739.50 146.74,739.50 147.43,739.50 148.12,739.50 148.82,739.50 149.51,739.50 150.20,739.50 150.90,739.50 151.59,739.50 152.29,739.50 152.98,739.50 153.67,739.50 154.37,739.50 155.06,739.50 155.75,739.50 156.45,739.50 157.14,739.50 157.84,739.50 158.53,739.50 159.22,739.50 159.92,739.50 160.61,739.50 161.31,739.50 162.00,739.50 162.69,739.50 163.39,739.50 164.08,739.50 164.77,739.50 165.47,739.50 166.16,739.50 166.86,739.50 167.55,739.50 168.24,739.50 168.94,739.50 169.63,739.50 170.32,739.50 171.02,739.50 171.71,739.50 172.41,739.50 173.10,739.50 173.79,739.50 174.49,739.50 175.18,739.50 175.87,739.50 176.57,739.50 177.26,739.50 177.96,739.50 178.65,739.50 179.34,739.50 180.04,739.50 180.73,739.50 181.43,739.50 182.12,739.50 182.81,739.50 183.51,739.50 184.20,739.50 184.89,739.50 185.59,739.50 186.28,739.50 186.98,739.50 187.67,739.50 188.36,739.50 189.06,739.50 189.75,739.50 190.44,739.50 191.14,739.50 191.83,739.50 192.53,739.50 193.22,739.50 193.91,739.50 194.61,739.50 195.30,739.50 196.00,739.50 196.69,739.50 197.38,739.50 198.08,739.50 198.77,739.50 199.46,739.50 200.16,739.50 200.85,739.50 201.55,739.50 202.24,739.50 202.93,739.50 203.63,739.50 204.32,739.50 205.01,739.50 205.71,739.50 206.40,739.50 207.10,739.50 207.79,739.50 208.48,739.50 209.18,739.50 209.87,739.50 210.56,739.50 211.26,739.50 211.95,739.50 212.65,739.50 213.34,739.50 214.03,739.50 214.73,739.50 215.42,739.50 216.12,739.50 216.81,739.50 217.50,739.50 218.20,739.50 218.89,739.50 219.58,739.50 220.28,739.50 220.97,739.50 221.67,739.50 222.36,739.50 223.05,739.50 223.75,739.50 224.44,739.50 225.13,739.50 225.83,739.50 226.52,739.50 227.22,739.50 227.91,739.50 228.60,739.50 229.30,739.50 229.99,739.50 230.69,739.50 231.38,739.50 232.07,739.50 232.77,739.50 233.46,739.50 234.15,739.50 234.85,739.50 235.54,739.50 236.24,739.50 236.93,739.50 237.62,739.50 238.32,739.50 239.01,739.50 239.70,739.50 240.40,739.50 241.09,739.50 241.79,739.50 242.48,739.50 243.17,739.50 243.87,739.50 244.56,739.50 245.25,739.50 245.95,739.50 246.64,739.50 247.34,739.50 248.03,739.50 248.72,739.50 249.42,739.50 250.11,739.50 250.81,739.50 251.50,739.50 252.19,739.50 252.89,739.50 253.58,739.50 254.27,739.50 254.97,739.50 255.66,739.50 256.36,739.50 257.05,739.50 257.74,739.50 258.44,739.50 259.13,739.50 259.82,739.50 260.52,739.50 261.21,739.50 261.91,739.50 262.60,739.50 263.29,739.50 263.99,739.50 264.68,739.50 265.38,739.50 266.07,739.50 266.76,739.50 267.46,739.50 268.15,739.50 268.84,739.50 269.54,739.50 270.23,739.50 270.93,739.50 271.62,739.50 272.31,739.50 273.01,739.50 273.70,739.49 274.39,739.49 275.09,739.49 275.78,739.49 276.48,739.49 277.17,739.49 277.86,739.49 278.56,739.49 279.25,739.49 279.94,739.48 280.64,739.48 281.33,739.48 282.03,739.48 282.72,739.47 283.41,739.47 284.11,739.46 284.80,739.46 285.50,739.45 286.19,739.45 286.88,739.44 287.58,739.43 288.27,739.42 288.96,739.41 289.66,739.40 290.35,739.38 291.05,739.37 291.74,739.35 292.43,739.33 293.13,739.30 293.82,739.28 294.51,739.25 295.21,739.21 295.90,739.17 296.60,739.13 297.29,739.08 297.98,739.02 298.68,738.95 299.37,738.88 300.07,738.79 300.76,738.69 301.45,738.58 302.15,738.46 302.84,738.31 303.53,738.15 304.23,737.97 304.92,737.76 305.62,737.52 306.31,737.25 307.00,736.94 307.70,736.59 308.39,736.20 309.08,735.75 309.78,735.24 310.47,734.67 311.17,734.02 311.86,733.28 312.55,732.45 313.25,731.51 313.94,730.45 314.63,729.25 315.33,727.90 316.02,726.39 316.72,724.69 317.41,722.79 318.10,720.66 318.80,718.29 319.49,715.64 320.19,712.71 320.88,709.46 321.57,705.87 322.27,701.93 322.96,697.62 323.65,692.92 324.35,687.83 325.04,682.33 325.74,676.43 326.43,670.15 327.12,663.49 327.82,656.50 328.51,649.19 329.20,641.63 329.90,633.86 330.59,625.94 331.29,617.96 331.98,609.97 332.67,602.05 333.37,594.29 334.06,586.74 334.75,579.48 335.45,572.57 336.14,566.07 336.84,560.02 337.53,554.47 338.22,549.44 338.92,544.96 339.61,541.05 340.31,537.72 341.00,534.99 341.69,532.85 342.39,531.32 343.08,530.38 343.77,530.05 344.47,530.32 345.16,531.19 345.86,532.67 346.55,534.75 347.24,537.42 347.94,540.69 348.63,544.54 349.32,548.97 350.02,553.94 350.71,559.44 351.41,565.44 352.10,571.90 352.79,578.77 353.49,586.00 354.18,593.52 354.88,601.27 355.57,609.17 356.26,617.16 356.96,625.15 357.65,633.07 358.34,640.86 359.04,648.45 359.73,655.78 360.43,662.81 361.12,669.50 361.81,675.82 362.51,681.76 363.20,687.30 363.89,692.43 364.59,697.17 365.28,701.52 365.98,705.50 366.67,709.12 367.36,712.40 368.06,715.36 368.75,718.03 369.45,720.44 370.14,722.59 370.83,724.51 371.53,726.23 372.22,727.76 372.91,729.12 373.61,730.33 374.30,731.41 375.00,732.36 375.69,733.20 376.38,733.95 377.08,734.60 377.77,735.19 378.46,735.70 379.16,736.15 379.85,736.55 380.55,736.91 381.24,737.22 381.93,737.49 382.63,737.73 383.32,737.95 384.01,738.13 384.71,738.30 385.40,738.44 386.10,738.57 386.79,738.68 387.48,738.78 388.18,738.87 388.87,738.94 389.57,739.01 390.26,739.07 390.95,739.12 391.65,739.17 392.34,739.21 393.03,739.24 393.73,739.27 394.42,739.30 395.12,739.33 395.81,739.35 396.50,739.37 397.20,739.38 397.89,739.40 398.58,739.41 399.28,739.42 399.97,739.43 400.67,739.44 401.36,739.45 402.05,739.45 402.75,739.46 403.44,739.46 404.13,739.47 404.83,739.47 405.52,739.47 406.22,739.48 406.91,739.48 407.60,739.48 408.30,739.48 408.99,739.49 409.69,739.49 410.38,739.49 411.07,739.49 411.77,739.49 412.46,739.49 413.15,739.49 413.85,739.49 414.54,739.50 415.24,739.50 415.93,739.50 416.62,739.50 417.32,739.50 418.01,739.50 418.70,739.50 419.40,739.50 420.09,739.50 420.79,739.50 421.48,739.50 422.17,739.50 422.87,739.50 423.56,739.50 424.26,739.50 424.95,739.50 425.64,739.50 426.34,739.50 427.03,739.50 427.72,739.50 428.42,739.50 429.11,739.50 429.81,739.50 430.50,739.50 431.19,739.50 431.89,739.50 432.58,739.50 433.27,739.50 433.97,739.50 434.66,739.50 435.36,739.50 436.05,739.50 436.74,739.50 437.44,739.50 438.13,739.50 438.83,739.50 439.52,739.50 440.21,739.50 440.91,739.50 441.60,739.50 442.29,739.50 442.99,739.50 443.68,739.50 444.38,739.50 445.07,739.50 445.76,739.50 446.46,739.50 447.15,739.50 447.84,739.50 448.54,739.50 449.23,739.50 449.93,739.50 450.62,739.50 451.31,739.50 452.01,739.50 452.70,739.50 453.39,739.50 454.09,739.50 454.78,739.50 455.48,739.50 456.17,739.50 456.86,739.50 457.56,739.50 458.25,739.50 458.95,739.50 459.64,739.50 460.33,739.50 461.03,739.50 461.72,739.50 462.41,739.50 463.11,739.50 463.80,739.50 464.50,739.50 465.19,739.50 465.88,739.50 466.58,739.50 467.27,739.50 467.96,739.50 468.66,739.50 469.35,739.50 470.05,739.50 470.74,739.50 471.43,739.50 472.13,739.50 472.82,739.50 473.51,739.50 474.21,739.50 474.90,739.50 475.60,739.50 476.29,739.50 476.98,739.50 477.68,739.50 478.37,739.50 479.07,739.50 479.76,739.50 480.45,739.50 481.15,739.50 481.84,739.50 482.53,739.50 483.23,739.50 483.92,739.50 484.62,739.50 485.31,739.50 486.00,739.50 486.70,739.50 487.39,739.50 488.08,739.50 488.78,739.50 489.47,739.50 490.17,739.50 490.86,739.50 491.55,739.50 492.25,739.50 492.94,739.50 493.64,739.50 494.33,739.50 495.02,739.50 495.72,739.50 496.41,739.50 497.10,739.50 497.80,739.50 498.49,739.50 499.19,739.50 499.88,739.50 500.57,739.50 501.27,739.50 501.96,739.50 502.65,739.50 503.35,739.50 504.04,739.50 504.74,739.50 505.43,739.50 506.12,739.50 506.82,739.50 507.51,739.50 508.21,739.50 508.90,739.50 509.59,739.50 510.29,739.50 510.98,739.50 511.67,739.50 512.37,739.50 513.06,739.50 513.76,739.50 514.45,739.50 515.14,739.50 515.84,739.50 516.53,739.50 517.22,739.50 517.92,739.50 518.61,739.50 519.31,739.50 520.00,739.50 520.69,739.50 521.39,739.50 522.08,739.50 522.77,739.50 523.47,739.50 524.16,739.50 524.86,739.50 525.55,739.50 526.24,739.50 526.94,739.50 527.63,739.50 528.33,739.50 529.02,739.50 529.71,739.50 530.41,739.50 531.10,739.50 531.79,739.50 532.49,739.50 533.18,739.50 533.88,739.50 534.57,739.50 535.26,739.50 535.96,739.50 536.65,739.50 537.34,739.50 538.04,739.50 538.73,739.50 539.43,739.50 540.12,739.50 540.81,739.50 541.51,739.50 542.20,739.50 542.89,739.50 543.59,739.50 544.28,739.50 544.98,739.50 545.67,739.50 546.36,739.50 547.06,739.50 547.75,739.50 548.45,739.50 549.14,739.50 549.83,739.50 550.53,739.50 551.22,739.50 551.91,739.50 552.61,739.50 553.30,739.50 554.00,739.50 554.69,739.50 555.38,739.50 556.08,739.50 556.77,739.50 557.46,739.50 558.16,739.50 558.85,739.50 559.55,739.50 560.24,739.50" fill="none" stroke="#ff00ff" stroke-width="4.6" stroke-linecap="round" stroke-linejoin="round"/>
<polyline points="143.96,739.50 144.65,739.50 145.35,739.50 146.04,739.50 146.74,739.50 147.43,739.50 148.12,739.50 148.82,739.50 149.51,739.50 150.20,739.50 150.90,739.50 151.59,739.50 152.29,739.50 152.98,739.50 153.67,739.50 154.37,739.50 155.06,739.50 155.75,739.50 156.45,739.50 157.14,739.50 157.84,739.50 158.53,739.50 159.22,739.50 159.92,739.50 160.61,739.50 161.31,739.50 162.00,739.50 162.69,739.50 163.39,739.50 164.08,739.50 164.77,739.50 165.47,739.50 166.16,739.50 166.86,739.50 167.55,739.50 168.24,739.50 168.94,739.50 169.63,739.50 170.32,739.50 171.02,739.50 171.71,739.50 172.41,739.50 173.10,739.50 173.79,739.50 174.49,739.50 175.18,739.50 175.87,739.50 176.57,739.50 177.26,739.50 177.96,739.50 178.65,739.50 179.34,739.50 180.04,739.50 180.73,739.50 181.43,739.50 182.12,739.50 182.81,739.50 183.51,739.50 184.20,739.50 184.89,739.50 185.59,739.50 186.28,739.50 186.98,739.50 187.67,739.50 188.36,739.50 189.06,739.50 189.75,739.50 190.44,739.50 191.14,739.50 191.83,739.50 192.53,739.50 193.22,739.50 193.91,739.50 194.61,739.50 195.30,739.50 196.00,739.50 196.69,739.50 197.38,739.50 198.08,739.50 198.77,739.50 199.46,739.50 200.16,739.50 200.85,739.50 201.55,739.50 202.24,739.50 202.93,739.50 203.63,739.50 204.32,739.50 205.01,739.50 205.71,739.50 206.40,739.50 207.10,739.50 207.79,739.50 208.48,739.50 209.18,739.50 209.87,739.50 210.56,739.50 211.26,739.50 211.95,739.50 212.65,739.50 213.34,739.50 214.03,739.50 214.73,739.50 215.42,739.50 216.12,739.50 216.81,739.50 217.50,739.50 218.20,739.50 218.89,739.50 219.58,739.50 220.28,739.50 220.97,739.50 221.67,739.50 222.36,739.50 223.05,739.50 223.75,739.50 224.44,739.50 225.13,739.50 225.83,739.50 226.52,739.50 227.22,739.50 227.91,739.50 228.60,739.50 229.30,739.50 229.99,739.50 230.69,739.50 231.38,739.50 232.07,739.50 232.77,739.50 233.46,739.50 234.15,739.50 234.85,739.50 235.54,739.50 236.24,739.50 236.93,739.50 237.62,739.50 238.32,739.50 239.01,739.50 239.70,739.50 240.40,739.50 241.09,739.50 241.79,739.50 242.48,739.50 243.17,739.50 243.87,739.50 244.56,739.50 245.25,739.50 245.95,739.50 246.64,739.50 247.34,739.50 248.03,739.50 248.72,739.50 249.42,739.50 250.11,739.50 250.81,739.50 251.50,739.50 252.19,739.50 252.89,739.50 253.58,739.50 254.27,739.50 254.97,739.50 255.66,739.50 256.36,739.50 257.05,739.50 257.74,739.50 258.44,739.50 259.13,739.50 259.82,739.50 260.52,739.50 261.21,739.50 261.91,739.50 262.60,739.50 263.29,739.50 263.99,739.50 264.68,739.50 265.38,739.50 266.07,739.50 266.76,739.50 267.46,739.50 268.15,739.50 268.84,739.50 269.54,739.50 270.23,739.50 270.93,739.50 271.62,739.50 272.31,739.50 273.01,739.50 273.70,739.50 274.39,739.50 275.09,739.50 275.78,739.50 276.48,739.50 277.17,739.50 277.86,739.50 278.56,739.50 279.25,739.50 279.94,739.50 280.64,739.50 281.33,739.50 282.03,739.50 282.72,739.50 283.41,739.50 284.11,739.50 284.80,739.50 285.50,739.50 286.19,739.50 286.88,739.50 287.58,739.50 288.27,739.50 288.96,739.50 289.66,739.50 290.35,739.50 291.05,739.50 291.74,739.50 292.43,739.50 293.13,739.50 293.82,739.50 294.51,739.50 295.21,739.50 295.90,739.50 296.60,739.50 297.29,739.50 297.98,739.49 298.68,739.49 299.37,739.49 300.07,739.49 300.76,739.49 301.45,739.49 302.15,739.49 302.84,739.49 303.53,739.48 304.23,739.48 304.92,739.48 305.62,739.48 306.31,739.47 307.00,739.47 307.70,739.47 308.39,739.46 309.08,739.46 309.78,739.45 310.47,739.44 311.17,739.44 311.86,739.43 312.55,739.42 313.25,739.41 313.94,739.39 314.63,739.38 315.33,739.36 316.02,739.34 316.72,739.32 317.41,739.30 318.10,739.27 318.80,739.24 319.49,739.20 320.19,739.16 320.88,739.11 321.57,739.06 322.27,739.00 322.96,738.93 323.65,738.85 324.35,738.76 325.04,738.66 325.74,738.55 326.43,738.42 327.12,738.27 327.82,738.10 328.51,737.91 329.20,737.69 329.90,737.45 330.59,737.17 331.29,736.85 331.98,736.49 332.67,736.08 333.37,735.62 334.06,735.09 334.75,734.50 335.45,733.82 336.14,733.06 336.84,732.20 337.53,731.23 338.22,730.13 338.92,728.89 339.61,727.50 340.31,725.93 341.00,724.18 341.69,722.21 342.39,720.01 343.08,717.55 343.77,714.82 344.47,711.79 345.16,708.43 345.86,704.73 346.55,700.66 347.24,696.21 347.94,691.36 348.63,686.10 349.32,680.42 350.02,674.34 350.71,667.85 351.41,660.98 352.10,653.75 352.79,646.19 353.49,638.37 354.18,630.31 354.88,622.09 355.57,613.78 356.26,605.43 356.96,597.12 357.65,588.91 358.34,580.87 359.04,573.06 359.73,565.54 360.43,558.34 361.12,551.49 361.81,545.04 362.51,538.99 363.20,533.35 363.89,528.12 364.59,523.31 365.28,518.89 365.98,514.85 366.67,511.18 367.36,507.85 368.06,504.84 368.75,502.13 369.45,499.70 370.14,497.52 370.83,495.57 371.53,493.83 372.22,492.28 372.91,490.90 373.61,489.67 374.30,488.59 375.00,487.63 375.69,486.77 376.38,486.02 377.08,485.35 377.77,484.76 378.46,484.24 379.16,483.78 379.85,483.38 380.55,483.02 381.24,482.71 381.93,482.43 382.63,482.19 383.32,481.97 384.01,481.78 384.71,481.62 385.40,481.47 386.10,481.34 386.79,481.23 387.48,481.13 388.18,481.04 388.87,480.96 389.57,480.89 390.26,480.83 390.95,480.78 391.65,480.74 392.34,480.70 393.03,480.66 393.73,480.63 394.42,480.60 395.12,480.58 395.81,480.56 396.50,480.54 397.20,480.52 397.89,480.51 398.58,480.49 399.28,480.48 399.97,480.47 400.67,480.46 401.36,480.46 402.05,480.45 402.75,480.44 403.44,480.44 404.13,480.43 404.83,480.43 405.52,480.43 406.22,480.42 406.91,480.42 407.60,480.42 408.30,480.42 408.99,480.41 409.69,480.41 410.38,480.41 411.07,480.41 411.77,480.41 412.46,480.41 413.15,480.41 413.85,480.41 414.54,480.40 415.24,480.40 415.93,480.40 416.62,480.40 417.32,480.40 418.01,480.40 418.70,480.40 419.40,480.40 420.09,480.40 420.79,480.40 421.48,480.40 422.17,480.40 422.87,480.40 423.56,480.40 424.26,480.40 424.95,480.40 425.64,480.40 426.34,480.40 427.03,480.40 427.72,480.40 428.42,480.40 429.11,480.40 429.81,480.40 430.50,480.40 431.19,480.40 431.89,480.40 432.58,480.40 433.27,480.40 433.97,480.40 434.66,480.40 435.36,480.40 436.05,480.40 436.74,480.40 437.44,480.40 438.13,480.40 438.83,480.40 439.52,480.40 440.21,480.40 440.91,480.40 441.60,480.40 442.29,480.40 442.99,480.40 443.68,480.40 444.38,480.40 445.07,480.40 445.76,480.40 446.46,480.40 447.15,480.40 447.84,480.40 448.54,480.40 449.23,480.40 449.93,480.40 450.62,480.40 451.31,480.40 452.01,480.40 452.70,480.40 453.39,480.40 454.09,480.40 454.78,480.40 455.48,480.40 456.17,480.40 456.86,480.40 457.56,480.40 458.25,480.40 458.95,480.40 459.64,480.40 460.33,480.40 461.03,480.40 461.72,480.40 462.41,480.40 463.11,480.40 463.80,480.40 464.50,480.40 465.19,480.40 465.88,480.40 466.58,480.40 467.27,480.40 467.96,480.40 468.66,480.40 469.35,480.40 470.05,480.40 470.74,480.40 471.43,480.40 472.13,480.40 472.82,480.40 473.51,480.40 474.21,480.40 474.90,480.40 475.60,480.40 476.29,480.40 476.98,480.40 477.68,480.40 478.37,480.40 479.07,480.40 479.76,480.40 480.45,480.40 481.15,480.40 481.84,480.40 482.53,480.40 483.23,480.40 483.92,480.40 484.62,480.40 485.31,480.40 486.00,480.40 486.70,480.40 487.39,480.40 488.08,480.40 488.78,480.40 489.47,480.40 490.17,480.40 490.86,480.40 491.55,480.40 492.25,480.40 492.94,480.40 493.64,480.40 494.33,480.40 495.02,480.40 495.72,480.40 496.41,480.40 497.10,480.40 497.80,480.40 498.49,480.40 499.19,480.40 499.88,480.40 500.57,480.40 501.27,480.40 501.96,480.40 502.65,480.40 503.35,480.40 504.04,480.40 504.74,480.40 505.43,480.40 506.12,480.40 506.82,480.40 507.51,480.40 508.21,480.40 508.90,480.40 509.59,480.40 510.29,480.40 510.98,480.40 511.67,480.40 512.37,480.40 513.06,480.40 513.76,480.40 514.45,480.40 515.14,480.40 515.84,480.40 516.53,480.40 517.22,480.40 517.92,480.40 518.61,480.40 519.31,480.40 520.00,480.40 520.69,480.40 521.39,480.40 522.08,480.40 522.77,480.40 523.47,480.40 524.16,480.40 524.86,480.40 525.55,480.40 526.24,480.40 526.94,480.40 527.63,480.40 528.33,480.40 529.02,480.40 529.71,480.40 530.41,480.40 531.10,480.40 531.79,480.40 532.49,480.40 533.18,480.40 533.88,480.40 534.57,480.40 535.26,480.40 535.96,480.40 536.65,480.40 537.34,480.40 538.04,480.40 538.73,480.40 539.43,480.40 540.12,480.40 540.81,480.40 541.51,480.40 542.20,480.40 542.89,480.40 543.59,480.40 544.28,480.40 544.98,480.40 545.67,480.40 546.36,480.40 547.06,480.40 547.75,480.40 548.45,480.40 549.14,480.40 549.83,480.40 550.53,480.40 551.22,480.40 551.91,480.40 552.61,480.40 553.30,480.40 554.00,480.40 554.69,480.40 555.38,480.40 556.08,480.40 556.77,480.40 557.46,480.40 558.16,480.40 558.85,480.40 559.55,480.40 560.24,480.40" fill="none" stroke="#004800" stroke-width="4.6" stroke-linecap="round" stroke-linejoin="round"/>
<rect x="589.35" y="433.40" width="474.55" height="20.60" fill="#9fcae0"/>
<rect x="590.85" y="434.60" width="471.55" height="2.2" fill="#aadcf4"/>
<rect x="590.85" y="450.60" width="471.55" height="2.2" fill="#aadcf4"/>
<text x="826.62" y="450.70" font-family="'Liberation Sans', Arial, Helvetica, sans-serif" font-size="17" text-anchor="middle" fill="#111" stroke="#000" stroke-width="0.45">I5&amp;6</text>
<polyline points="618.51,739.50 619.20,739.50 619.90,739.50 620.59,739.50 621.29,739.50 621.98,739.50 622.67,739.50 623.37,739.50 624.06,739.50 624.75,739.50 625.45,739.50 626.14,739.50 626.84,739.50 627.53,739.50 628.22,739.50 628.92,739.50 629.61,739.50 630.30,739.50 631.00,739.50 631.69,739.50 632.39,739.50 633.08,739.50 633.77,739.50 634.47,739.50 635.16,739.50 635.86,739.50 636.55,739.50 637.24,739.50 637.94,739.50 638.63,739.50 639.32,739.50 640.02,739.50 640.71,739.50 641.41,739.50 642.10,739.50 642.79,739.50 643.49,739.50 644.18,739.50 644.87,739.50 645.57,739.50 646.26,739.50 646.96,739.50 647.65,739.50 648.34,739.50 649.04,739.50 649.73,739.50 650.42,739.50 651.12,739.50 651.81,739.50 652.51,739.50 653.20,739.50 653.89,739.50 654.59,739.50 655.28,739.50 655.98,739.50 656.67,739.50 657.36,739.50 658.06,739.50 658.75,739.50 659.44,739.50 660.14,739.50 660.83,739.50 661.53,739.50 662.22,739.50 662.91,739.50 663.61,739.50 664.30,739.50 664.99,739.50 665.69,739.50 666.38,739.50 667.08,739.50 667.77,739.50 668.46,739.50 669.16,739.50 669.85,739.50 670.55,739.50 671.24,739.50 671.93,739.50 672.63,739.50 673.32,739.50 674.01,739.50 674.71,739.50 675.40,739.50 676.10,739.50 676.79,739.50 677.48,739.50 678.18,739.50 678.87,739.50 679.56,739.50 680.26,739.50 680.95,739.50 681.65,739.50 682.34,739.50 683.03,739.50 683.73,739.50 684.42,739.50 685.11,739.50 685.81,739.50 686.50,739.50 687.20,739.50 687.89,739.50 688.58,739.50 689.28,739.50 689.97,739.50 690.67,739.50 691.36,739.50 692.05,739.50 692.75,739.50 693.44,739.50 694.13,739.50 694.83,739.50 695.52,739.50 696.22,739.50 696.91,739.50 697.60,739.50 698.30,739.50 698.99,739.50 699.68,739.50 700.38,739.50 701.07,739.50 701.77,739.50 702.46,739.50 703.15,739.50 703.85,739.50 704.54,739.50 705.24,739.50 705.93,739.50 706.62,739.50 707.32,739.50 708.01,739.50 708.70,739.50 709.40,739.50 710.09,739.50 710.79,739.50 711.48,739.50 712.17,739.50 712.87,739.50 713.56,739.50 714.25,739.50 714.95,739.50 715.64,739.50 716.34,739.50 717.03,739.50 717.72,739.50 718.42,739.50 719.11,739.50 719.80,739.50 720.50,739.50 721.19,739.50 721.89,739.50 722.58,739.50 723.27,739.50 723.97,739.50 724.66,739.50 725.36,739.50 726.05,739.50 726.74,739.50 727.44,739.50 728.13,739.50 728.82,739.50 729.52,739.50 730.21,739.50 730.91,739.50 731.60,739.49 732.29,739.49 732.99,739.49 733.68,739.49 734.37,739.49 735.07,739.49 735.76,739.49 736.46,739.49 737.15,739.49 737.84,739.49 738.54,739.49 739.23,739.48 739.93,739.48 740.62,739.48 741.31,739.48 742.01,739.48 742.70,739.47 743.39,739.47 744.09,739.47 744.78,739.46 745.48,739.46 746.17,739.46 746.86,739.45 747.56,739.45 748.25,739.44 748.94,739.44 749.64,739.43 750.33,739.42 751.03,739.41 751.72,739.40 752.41,739.39 753.11,739.38 753.80,739.37 754.49,739.36 755.19,739.34 755.88,739.33 756.58,739.31 757.27,739.29 757.96,739.27 758.66,739.24 759.35,739.22 760.05,739.19 760.74,739.16 761.43,739.12 762.13,739.08 762.82,739.04 763.51,738.99 764.21,738.94 764.90,738.88 765.60,738.81 766.29,738.74 766.98,738.66 767.68,738.58 768.37,738.48 769.06,738.38 769.76,738.26 770.45,738.13 771.15,737.99 771.84,737.84 772.53,737.67 773.23,737.48 773.92,737.27 774.62,737.04 775.31,736.79 776.00,736.51 776.70,736.20 777.39,735.87 778.08,735.49 778.78,735.09 779.47,734.64 780.17,734.14 780.86,733.60 781.55,733.00 782.25,732.35 782.94,731.63 783.63,730.84 784.33,729.97 785.02,729.03 785.72,727.99 786.41,726.85 787.10,725.61 787.80,724.25 788.49,722.78 789.18,721.16 789.88,719.41 790.57,717.50 791.27,715.43 791.96,713.19 792.65,710.76 793.35,708.14 794.04,705.32 794.74,702.28 795.43,699.02 796.12,695.54 796.82,691.82 797.51,687.86 798.20,683.66 798.90,679.21 799.59,674.53 800.29,669.60 800.98,664.45 801.67,659.09 802.37,653.51 803.06,647.75 803.75,641.82 804.45,635.75 805.14,629.55 805.84,623.26 806.53,616.91 807.22,610.52 807.92,604.14 808.61,597.78 809.31,591.47 810.00,585.26 810.69,579.16 811.39,573.20 812.08,567.41 812.77,561.80 813.47,556.40 814.16,551.21 814.86,546.24 815.55,541.51 816.24,537.03 816.94,532.78 817.63,528.78 818.32,525.01 819.02,521.49 819.71,518.19 820.41,515.11 821.10,512.25 821.79,509.59 822.49,507.13 823.18,504.86 823.87,502.76 824.57,500.82 825.26,499.04 825.96,497.40 826.65,495.90 827.34,494.52 828.04,493.26 828.73,492.11 829.43,491.05 830.12,490.09 830.81,489.21 831.51,488.41 832.20,487.68 832.89,487.01 833.59,486.40 834.28,485.85 834.98,485.35 835.67,484.89 836.36,484.48 837.06,484.10 837.75,483.76 838.44,483.44 839.14,483.16 839.83,482.90 840.53,482.67 841.22,482.46 841.91,482.27 842.61,482.09 843.30,481.93 844.00,481.79 844.69,481.66 845.38,481.54 846.08,481.44 846.77,481.34 847.46,481.25 848.16,481.17 848.85,481.10 849.55,481.03 850.24,480.97 850.93,480.92 851.63,480.87 852.32,480.83 853.01,480.79 853.71,480.75 854.40,480.72 855.10,480.69 855.79,480.66 856.48,480.64 857.18,480.61 857.87,480.59 858.56,480.58 859.26,480.56 859.95,480.54 860.65,480.53 861.34,480.52 862.03,480.51 862.73,480.50 863.42,480.49 864.12,480.48 864.81,480.47 865.50,480.47 866.20,480.46 866.89,480.45 867.58,480.45 868.28,480.44 868.97,480.44 869.67,480.44 870.36,480.43 871.05,480.43 871.75,480.43 872.44,480.42 873.13,480.42 873.83,480.42 874.52,480.42 875.22,480.42 875.91,480.41 876.60,480.41 877.30,480.41 877.99,480.41 878.69,480.41 879.38,480.41 880.07,480.41 880.77,480.41 881.46,480.41 882.15,480.41 882.85,480.41 883.54,480.41 884.24,480.40 884.93,480.40 885.62,480.40 886.32,480.40 887.01,480.40 887.70,480.40 888.40,480.40 889.09,480.40 889.79,480.40 890.48,480.40 891.17,480.40 891.87,480.40 892.56,480.40 893.25,480.40 893.95,480.40 894.64,480.40 895.34,480.40 896.03,480.40 896.72,480.40 897.42,480.40 898.11,480.40 898.81,480.40 899.50,480.40 900.19,480.40 900.89,480.40 901.58,480.40 902.27,480.40 902.97,480.40 903.66,480.40 904.36,480.40 905.05,480.40 905.74,480.40 906.44,480.40 907.13,480.40 907.82,480.40 908.52,480.40 909.21,480.40 909.91,480.40 910.60,480.40 911.29,480.40 911.99,480.40 912.68,480.40 913.38,480.40 914.07,480.40 914.76,480.40 915.46,480.40 916.15,480.40 916.84,480.40 917.54,480.40 918.23,480.40 918.93,480.40 919.62,480.40 920.31,480.40 921.01,480.40 921.70,480.40 922.39,480.40 923.09,480.40 923.78,480.40 924.48,480.40 925.17,480.40 925.86,480.40 926.56,480.40 927.25,480.40 927.94,480.40 928.64,480.40 929.33,480.40 930.03,480.40 930.72,480.40 931.41,480.40 932.11,480.40 932.80,480.40 933.50,480.40 934.19,480.40 934.88,480.40 935.58,480.40 936.27,480.40 936.96,480.40 937.66,480.40 938.35,480.40 939.05,480.40 939.74,480.40 940.43,480.40 941.13,480.40 941.82,480.40 942.51,480.40 943.21,480.40 943.90,480.40 944.60,480.40 945.29,480.40 945.98,480.40 946.68,480.40 947.37,480.40 948.07,480.40 948.76,480.40 949.45,480.40 950.15,480.40 950.84,480.40 951.53,480.40 952.23,480.40 952.92,480.40 953.62,480.40 954.31,480.40 955.00,480.40 955.70,480.40 956.39,480.40 957.08,480.40 957.78,480.40 958.47,480.40 959.17,480.40 959.86,480.40 960.55,480.40 961.25,480.40 961.94,480.40 962.63,480.40 963.33,480.40 964.02,480.40 964.72,480.40 965.41,480.40 966.10,480.40 966.80,480.40 967.49,480.40 968.19,480.40 968.88,480.40 969.57,480.40 970.27,480.40 970.96,480.40 971.65,480.40 972.35,480.40 973.04,480.40 973.74,480.40 974.43,480.40 975.12,480.40 975.82,480.40 976.51,480.40 977.20,480.40 977.90,480.40 978.59,480.40 979.29,480.40 979.98,480.40 980.67,480.40 981.37,480.40 982.06,480.40 982.76,480.40 983.45,480.40 984.14,480.40 984.84,480.40 985.53,480.40 986.22,480.40 986.92,480.40 987.61,480.40 988.31,480.40 989.00,480.40 989.69,480.40 990.39,480.40 991.08,480.40 991.77,480.40 992.47,480.40 993.16,480.40 993.86,480.40 994.55,480.40 995.24,480.40 995.94,480.40 996.63,480.40 997.32,480.40 998.02,480.40 998.71,480.40 999.41,480.40 1000.10,480.40 1000.79,480.40 1001.49,480.40 1002.18,480.40 1002.88,480.40 1003.57,480.40 1004.26,480.40 1004.96,480.40 1005.65,480.40 1006.34,480.40 1007.04,480.40 1007.73,480.40 1008.43,480.40 1009.12,480.40 1009.81,480.40 1010.51,480.40 1011.20,480.40 1011.89,480.40 1012.59,480.40 1013.28,480.40 1013.98,480.40 1014.67,480.40 1015.36,480.40 1016.06,480.40 1016.75,480.40 1017.45,480.40 1018.14,480.40 1018.83,480.40 1019.53,480.40 1020.22,480.40 1020.91,480.40 1021.61,480.40 1022.30,480.40 1023.00,480.40 1023.69,480.40 1024.38,480.40 1025.08,480.40 1025.77,480.40 1026.46,480.40 1027.16,480.40 1027.85,480.40 1028.55,480.40 1029.24,480.40 1029.93,480.40 1030.63,480.40 1031.32,480.40 1032.01,480.40 1032.71,480.40 1033.40,480.40 1034.10,480.40 1034.79,480.40" fill="none" stroke="#0066ff" stroke-width="4.6" stroke-linecap="round" stroke-linejoin="round"/>
<rect x="1063.90" y="433.40" width="474.55" height="20.60" fill="#9fcae0"/>
<rect x="1065.40" y="434.60" width="471.55" height="2.2" fill="#aadcf4"/>
<rect x="1065.40" y="450.60" width="471.55" height="2.2" fill="#aadcf4"/>
<text x="1301.18" y="450.70" font-family="'Liberation Sans', Arial, Helvetica, sans-serif" font-size="17" text-anchor="middle" fill="#111" stroke="#000" stroke-width="0.45">I7</text>
<polyline points="1093.06,480.40 1093.75,480.40 1094.45,480.40 1095.14,480.40 1095.84,480.40 1096.53,480.40 1097.22,480.40 1097.92,480.40 1098.61,480.40 1099.30,480.40 1100.00,480.40 1100.69,480.40 1101.39,480.40 1102.08,480.40 1102.77,480.40 1103.47,480.40 1104.16,480.40 1104.85,480.40 1105.55,480.40 1106.24,480.40 1106.94,480.40 1107.63,480.40 1108.32,480.40 1109.02,480.40 1109.71,480.40 1110.40,480.40 1111.10,480.40 1111.79,480.40 1112.49,480.40 1113.18,480.40 1113.87,480.40 1114.57,480.40 1115.26,480.40 1115.96,480.40 1116.65,480.40 1117.34,480.40 1118.04,480.40 1118.73,480.40 1119.42,480.40 1120.12,480.40 1120.81,480.40 1121.51,480.40 1122.20,480.40 1122.89,480.40 1123.59,480.40 1124.28,480.40 1124.97,480.40 1125.67,480.40 1126.36,480.40 1127.06,480.40 1127.75,480.40 1128.44,480.40 1129.14,480.40 1129.83,480.40 1130.53,480.40 1131.22,480.40 1131.91,480.40 1132.61,480.40 1133.30,480.40 1133.99,480.40 1134.69,480.40 1135.38,480.40 1136.08,480.40 1136.77,480.40 1137.46,480.40 1138.16,480.40 1138.85,480.40 1139.54,480.40 1140.24,480.40 1140.93,480.40 1141.63,480.40 1142.32,480.40 1143.01,480.40 1143.71,480.40 1144.40,480.40 1145.10,480.40 1145.79,480.40 1146.48,480.40 1147.18,480.40 1147.87,480.40 1148.56,480.40 1149.26,480.40 1149.95,480.40 1150.65,480.40 1151.34,480.40 1152.03,480.40 1152.73,480.40 1153.42,480.40 1154.11,480.40 1154.81,480.40 1155.50,480.40 1156.20,480.40 1156.89,480.40 1157.58,480.40 1158.28,480.40 1158.97,480.40 1159.66,480.40 1160.36,480.40 1161.05,480.40 1161.75,480.40 1162.44,480.40 1163.13,480.40 1163.83,480.40 1164.52,480.40 1165.22,480.40 1165.91,480.40 1166.60,480.40 1167.30,480.40 1167.99,480.40 1168.68,480.40 1169.38,480.40 1170.07,480.40 1170.77,480.40 1171.46,480.40 1172.15,480.40 1172.85,480.40 1173.54,480.40 1174.23,480.40 1174.93,480.40 1175.62,480.40 1176.32,480.40 1177.01,480.40 1177.70,480.40 1178.40,480.40 1179.09,480.40 1179.79,480.40 1180.48,480.40 1181.17,480.40 1181.87,480.40 1182.56,480.40 1183.25,480.40 1183.95,480.40 1184.64,480.40 1185.34,480.40 1186.03,480.40 1186.72,480.40 1187.42,480.40 1188.11,480.40 1188.80,480.40 1189.50,480.40 1190.19,480.40 1190.89,480.40 1191.58,480.40 1192.27,480.40 1192.97,480.40 1193.66,480.40 1194.35,480.40 1195.05,480.40 1195.74,480.40 1196.44,480.40 1197.13,480.40 1197.82,480.40 1198.52,480.40 1199.21,480.40 1199.91,480.40 1200.60,480.40 1201.29,480.40 1201.99,480.40 1202.68,480.40 1203.37,480.40 1204.07,480.40 1204.76,480.40 1205.46,480.40 1206.15,480.40 1206.84,480.40 1207.54,480.40 1208.23,480.40 1208.92,480.40 1209.62,480.40 1210.31,480.40 1211.01,480.40 1211.70,480.40 1212.39,480.40 1213.09,480.40 1213.78,480.40 1214.48,480.40 1215.17,480.40 1215.86,480.40 1216.56,480.40 1217.25,480.40 1217.94,480.40 1218.64,480.40 1219.33,480.40 1220.03,480.40 1220.72,480.40 1221.41,480.40 1222.11,480.40 1222.80,480.40 1223.49,480.40 1224.19,480.40 1224.88,480.40 1225.58,480.40 1226.27,480.40 1226.96,480.40 1227.66,480.40 1228.35,480.40 1229.04,480.40 1229.74,480.40 1230.43,480.40 1231.13,480.40 1231.82,480.40 1232.51,480.40 1233.21,480.40 1233.90,480.40 1234.60,480.40 1235.29,480.40 1235.98,480.40 1236.68,480.40 1237.37,480.40 1238.06,480.40 1238.76,480.40 1239.45,480.40 1240.15,480.41 1240.84,480.41 1241.53,480.41 1242.23,480.41 1242.92,480.41 1243.61,480.42 1244.31,480.42 1245.00,480.42 1245.70,480.43 1246.39,480.43 1247.08,480.44 1247.78,480.45 1248.47,480.46 1249.16,480.47 1249.86,480.48 1250.55,480.50 1251.25,480.52 1251.94,480.54 1252.63,480.57 1253.33,480.61 1254.02,480.65 1254.72,480.70 1255.41,480.76 1256.10,480.84 1256.80,480.93 1257.49,481.04 1258.18,481.17 1258.88,481.32 1259.57,481.51 1260.27,481.74 1260.96,482.02 1261.65,482.35 1262.35,482.74 1263.04,483.22 1263.73,483.79 1264.43,484.47 1265.12,485.29 1265.82,486.28 1266.51,487.45 1267.20,488.85 1267.90,490.52 1268.59,492.50 1269.29,494.85 1269.98,497.61 1270.67,500.87 1271.37,504.68 1272.06,509.12 1272.75,514.24 1273.45,520.13 1274.14,526.83 1274.84,534.38 1275.53,542.80 1276.22,552.07 1276.92,562.14 1277.61,572.94 1278.30,584.32 1279.00,596.13 1279.69,608.18 1280.39,620.26 1281.08,632.16 1281.77,643.68 1282.47,654.67 1283.16,664.96 1283.86,674.48 1284.55,683.15 1285.24,690.95 1285.94,697.89 1286.63,704.01 1287.32,709.36 1288.02,713.99 1288.71,717.97 1289.41,721.38 1290.10,724.29 1290.79,726.75 1291.49,728.84 1292.18,730.59 1292.87,732.07 1293.57,733.30 1294.26,734.34 1294.96,735.20 1295.65,735.92 1296.34,736.53 1297.04,737.03 1297.73,737.45 1298.42,737.79 1299.12,738.08 1299.81,738.32 1300.51,738.52 1301.20,738.69 1301.89,738.83 1302.59,738.94 1303.28,739.04 1303.98,739.12 1304.67,739.18 1305.36,739.24 1306.06,739.28 1306.75,739.32 1307.44,739.35 1308.14,739.37 1308.83,739.40 1309.53,739.41 1310.22,739.43 1310.91,739.44 1311.61,739.45 1312.30,739.46 1312.99,739.47 1313.69,739.47 1314.38,739.48 1315.08,739.48 1315.77,739.48 1316.46,739.49 1317.16,739.49 1317.85,739.49 1318.55,739.49 1319.24,739.49 1319.93,739.49 1320.63,739.50 1321.32,739.50 1322.01,739.50 1322.71,739.50 1323.40,739.50 1324.10,739.50 1324.79,739.50 1325.48,739.50 1326.18,739.50 1326.87,739.50 1327.56,739.50 1328.26,739.50 1328.95,739.50 1329.65,739.50 1330.34,739.50 1331.03,739.50 1331.73,739.50 1332.42,739.50 1333.11,739.50 1333.81,739.50 1334.50,739.50 1335.20,739.50 1335.89,739.50 1336.58,739.50 1337.28,739.50 1337.97,739.50 1338.67,739.50 1339.36,739.50 1340.05,739.50 1340.75,739.50 1341.44,739.50 1342.13,739.50 1342.83,739.50 1343.52,739.50 1344.22,739.50 1344.91,739.50 1345.60,739.50 1346.30,739.50 1346.99,739.50 1347.68,739.50 1348.38,739.50 1349.07,739.50 1349.77,739.50 1350.46,739.50 1351.15,739.50 1351.85,739.50 1352.54,739.50 1353.24,739.50 1353.93,739.50 1354.62,739.50 1355.32,739.50 1356.01,739.50 1356.70,739.50 1357.40,739.50 1358.09,739.50 1358.79,739.50 1359.48,739.50 1360.17,739.50 1360.87,739.50 1361.56,739.50 1362.25,739.50 1362.95,739.50 1363.64,739.50 1364.34,739.50 1365.03,739.50 1365.72,739.50 1366.42,739.50 1367.11,739.50 1367.80,739.50 1368.50,739.50 1369.19,739.50 1369.89,739.50 1370.58,739.50 1371.27,739.50 1371.97,739.50 1372.66,739.50 1373.36,739.50 1374.05,739.50 1374.74,739.50 1375.44,739.50 1376.13,739.50 1376.82,739.50 1377.52,739.50 1378.21,739.50 1378.91,739.50 1379.60,739.50 1380.29,739.50 1380.99,739.50 1381.68,739.50 1382.37,739.50 1383.07,739.50 1383.76,739.50 1384.46,739.50 1385.15,739.50 1385.84,739.50 1386.54,739.50 1387.23,739.50 1387.92,739.50 1388.62,739.50 1389.31,739.50 1390.01,739.50 1390.70,739.50 1391.39,739.50 1392.09,739.50 1392.78,739.50 1393.48,739.50 1394.17,739.50 1394.86,739.50 1395.56,739.50 1396.25,739.50 1396.94,739.50 1397.64,739.50 1398.33,739.50 1399.03,739.50 1399.72,739.50 1400.41,739.50 1401.11,739.50 1401.80,739.50 1402.49,739.50 1403.19,739.50 1403.88,739.50 1404.58,739.50 1405.27,739.50 1405.96,739.50 1406.66,739.50 1407.35,739.50 1408.05,739.50 1408.74,739.50 1409.43,739.50 1410.13,739.50 1410.82,739.50 1411.51,739.50 1412.21,739.50 1412.90,739.50 1413.60,739.50 1414.29,739.50 1414.98,739.50 1415.68,739.50 1416.37,739.50 1417.06,739.50 1417.76,739.50 1418.45,739.50 1419.15,739.50 1419.84,739.50 1420.53,739.50 1421.23,739.50 1421.92,739.50 1422.62,739.50 1423.31,739.50 1424.00,739.50 1424.70,739.50 1425.39,739.50 1426.08,739.50 1426.78,739.50 1427.47,739.50 1428.17,739.50 1428.86,739.50 1429.55,739.50 1430.25,739.50 1430.94,739.50 1431.63,739.50 1432.33,739.50 1433.02,739.50 1433.72,739.50 1434.41,739.50 1435.10,739.50 1435.80,739.50 1436.49,739.50 1437.18,739.50 1437.88,739.50 1438.57,739.50 1439.27,739.50 1439.96,739.50 1440.65,739.50 1441.35,739.50 1442.04,739.50 1442.74,739.50 1443.43,739.50 1444.12,739.50 1444.82,739.50 1445.51,739.50 1446.20,739.50 1446.90,739.50 1447.59,739.50 1448.29,739.50 1448.98,739.50 1449.67,739.50 1450.37,739.50 1451.06,739.50 1451.75,739.50 1452.45,739.50 1453.14,739.50 1453.84,739.50 1454.53,739.50 1455.22,739.50 1455.92,739.50 1456.61,739.50 1457.31,739.50 1458.00,739.50 1458.69,739.50 1459.39,739.50 1460.08,739.50 1460.77,739.50 1461.47,739.50 1462.16,739.50 1462.86,739.50 1463.55,739.50 1464.24,739.50 1464.94,739.50 1465.63,739.50 1466.32,739.50 1467.02,739.50 1467.71,739.50 1468.41,739.50 1469.10,739.50 1469.79,739.50 1470.49,739.50 1471.18,739.50 1471.87,739.50 1472.57,739.50 1473.26,739.50 1473.96,739.50 1474.65,739.50 1475.34,739.50 1476.04,739.50 1476.73,739.50 1477.43,739.50 1478.12,739.50 1478.81,739.50 1479.51,739.50 1480.20,739.50 1480.89,739.50 1481.59,739.50 1482.28,739.50 1482.98,739.50 1483.67,739.50 1484.36,739.50 1485.06,739.50 1485.75,739.50 1486.44,739.50 1487.14,739.50 1487.83,739.50 1488.53,739.50 1489.22,739.50 1489.91,739.50 1490.61,739.50 1491.30,739.50 1492.00,739.50 1492.69,739.50 1493.38,739.50 1494.08,739.50 1494.77,739.50 1495.46,739.50 1496.16,739.50 1496.85,739.50 1497.55,739.50 1498.24,739.50 1498.93,739.50 1499.63,739.50 1500.32,739.50 1501.01,739.50 1501.71,739.50 1502.40,739.50 1503.10,739.50 1503.79,739.50 1504.48,739.50 1505.18,739.50 1505.87,739.50 1506.56,739.50 1507.26,739.50 1507.95,739.50 1508.65,739.50 1509.34,739.50" fill="none" stroke="#0066ff" stroke-width="4.6" stroke-linecap="round" stroke-linejoin="round"/>
<polyline points="1093.06,739.50 1093.75,739.50 1094.45,739.50 1095.14,739.50 1095.84,739.50 1096.53,739.50 1097.22,739.50 1097.92,739.50 1098.61,739.50 1099.30,739.50 1100.00,739.50 1100.69,739.50 1101.39,739.50 1102.08,739.50 1102.77,739.50 1103.47,739.50 1104.16,739.50 1104.85,739.50 1105.55,739.50 1106.24,739.50 1106.94,739.50 1107.63,739.50 1108.32,739.50 1109.02,739.50 1109.71,739.50 1110.40,739.50 1111.10,739.50 1111.79,739.50 1112.49,739.50 1113.18,739.50 1113.87,739.50 1114.57,739.50 1115.26,739.50 1115.96,739.50 1116.65,739.50 1117.34,739.50 1118.04,739.50 1118.73,739.50 1119.42,739.50 1120.12,739.50 1120.81,739.50 1121.51,739.50 1122.20,739.50 1122.89,739.50 1123.59,739.50 1124.28,739.50 1124.97,739.50 1125.67,739.50 1126.36,739.50 1127.06,739.50 1127.75,739.50 1128.44,739.50 1129.14,739.50 1129.83,739.50 1130.53,739.50 1131.22,739.50 1131.91,739.50 1132.61,739.50 1133.30,739.50 1133.99,739.50 1134.69,739.50 1135.38,739.50 1136.08,739.50 1136.77,739.50 1137.46,739.50 1138.16,739.50 1138.85,739.50 1139.54,739.50 1140.24,739.50 1140.93,739.50 1141.63,739.50 1142.32,739.50 1143.01,739.50 1143.71,739.50 1144.40,739.50 1145.10,739.50 1145.79,739.50 1146.48,739.50 1147.18,739.50 1147.87,739.50 1148.56,739.50 1149.26,739.50 1149.95,739.50 1150.65,739.50 1151.34,739.50 1152.03,739.50 1152.73,739.50 1153.42,739.50 1154.11,739.50 1154.81,739.50 1155.50,739.50 1156.20,739.50 1156.89,739.50 1157.58,739.50 1158.28,739.50 1158.97,739.50 1159.66,739.50 1160.36,739.50 1161.05,739.50 1161.75,739.50 1162.44,739.50 1163.13,739.50 1163.83,739.50 1164.52,739.50 1165.22,739.50 1165.91,739.50 1166.60,739.50 1167.30,739.50 1167.99,739.50 1168.68,739.50 1169.38,739.50 1170.07,739.50 1170.77,739.50 1171.46,739.50 1172.15,739.50 1172.85,739.50 1173.54,739.50 1174.23,739.50 1174.93,739.50 1175.62,739.50 1176.32,739.50 1177.01,739.50 1177.70,739.50 1178.40,739.50 1179.09,739.50 1179.79,739.50 1180.48,739.50 1181.17,739.50 1181.87,739.50 1182.56,739.50 1183.25,739.50 1183.95,739.50 1184.64,739.50 1185.34,739.50 1186.03,739.50 1186.72,739.50 1187.42,739.50 1188.11,739.50 1188.80,739.50 1189.50,739.50 1190.19,739.50 1190.89,739.50 1191.58,739.50 1192.27,739.50 1192.97,739.50 1193.66,739.50 1194.35,739.50 1195.05,739.50 1195.74,739.50 1196.44,739.50 1197.13,739.50 1197.82,739.50 1198.52,739.50 1199.21,739.50 1199.91,739.50 1200.60,739.50 1201.29,739.50 1201.99,739.50 1202.68,739.50 1203.37,739.50 1204.07,739.50 1204.76,739.50 1205.46,739.50 1206.15,739.50 1206.84,739.50 1207.54,739.50 1208.23,739.50 1208.92,739.50 1209.62,739.50 1210.31,739.50 1211.01,739.50 1211.70,739.50 1212.39,739.50 1213.09,739.50 1213.78,739.50 1214.48,739.50 1215.17,739.50 1215.86,739.50 1216.56,739.50 1217.25,739.50 1217.94,739.50 1218.64,739.50 1219.33,739.50 1220.03,739.50 1220.72,739.50 1221.41,739.50 1222.11,739.50 1222.80,739.50 1223.49,739.50 1224.19,739.50 1224.88,739.50 1225.58,739.50 1226.27,739.50 1226.96,739.50 1227.66,739.50 1228.35,739.50 1229.04,739.50 1229.74,739.50 1230.43,739.50 1231.13,739.50 1231.82,739.50 1232.51,739.50 1233.21,739.50 1233.90,739.50 1234.60,739.50 1235.29,739.50 1235.98,739.50 1236.68,739.50 1237.37,739.50 1238.06,739.50 1238.76,739.50 1239.45,739.50 1240.15,739.49 1240.84,739.49 1241.53,739.49 1242.23,739.49 1242.92,739.49 1243.61,739.48 1244.31,739.48 1245.00,739.48 1245.70,739.47 1246.39,739.47 1247.08,739.46 1247.78,739.45 1248.47,739.44 1249.16,739.43 1249.86,739.42 1250.55,739.40 1251.25,739.38 1251.94,739.36 1252.63,739.33 1253.33,739.29 1254.02,739.25 1254.72,739.20 1255.41,739.14 1256.10,739.06 1256.80,738.97 1257.49,738.87 1258.18,738.74 1258.88,738.58 1259.57,738.39 1260.27,738.17 1260.96,737.90 1261.65,737.57 1262.35,737.18 1263.04,736.70 1263.73,736.14 1264.43,735.46 1265.12,734.64 1265.82,733.67 1266.51,732.50 1267.20,731.11 1267.90,729.46 1268.59,727.49 1269.29,725.16 1269.98,722.41 1270.67,719.18 1271.37,715.40 1272.06,711.01 1272.75,705.92 1273.45,700.09 1274.14,693.46 1274.84,685.99 1275.53,677.67 1276.22,668.51 1276.92,658.58 1277.61,647.95 1278.30,636.77 1279.00,625.20 1279.69,613.45 1280.39,601.72 1281.08,590.24 1281.77,579.22 1282.47,568.85 1283.16,559.28 1283.86,550.64 1284.55,543.02 1285.24,536.47 1285.94,531.01 1286.63,526.67 1287.32,523.43 1288.02,521.29 1288.71,520.23 1289.41,520.27 1290.10,521.39 1290.79,523.59 1291.49,526.90 1292.18,531.31 1292.87,536.83 1293.57,543.45 1294.26,551.14 1294.96,559.84 1295.65,569.46 1296.34,579.87 1297.04,590.93 1297.73,602.43 1298.42,614.16 1299.12,625.91 1299.81,637.46 1300.51,648.61 1301.20,659.20 1301.89,669.09 1302.59,678.20 1303.28,686.47 1303.98,693.89 1304.67,700.47 1305.36,706.25 1306.06,711.29 1306.75,715.65 1307.44,719.39 1308.14,722.59 1308.83,725.31 1309.53,727.62 1310.22,729.56 1310.91,731.20 1311.61,732.58 1312.30,733.73 1312.99,734.70 1313.69,735.50 1314.38,736.17 1315.08,736.73 1315.77,737.20 1316.46,737.59 1317.16,737.91 1317.85,738.18 1318.55,738.41 1319.24,738.59 1319.93,738.75 1320.63,738.87 1321.32,738.98 1322.01,739.07 1322.71,739.14 1323.40,739.20 1324.10,739.25 1324.79,739.30 1325.48,739.33 1326.18,739.36 1326.87,739.38 1327.56,739.40 1328.26,739.42 1328.95,739.43 1329.65,739.44 1330.34,739.45 1331.03,739.46 1331.73,739.47 1332.42,739.47 1333.11,739.48 1333.81,739.48 1334.50,739.49 1335.20,739.49 1335.89,739.49 1336.58,739.49 1337.28,739.49 1337.97,739.49 1338.67,739.50 1339.36,739.50 1340.05,739.50 1340.75,739.50 1341.44,739.50 1342.13,739.50 1342.83,739.50 1343.52,739.50 1344.22,739.50 1344.91,739.50 1345.60,739.50 1346.30,739.50 1346.99,739.50 1347.68,739.50 1348.38,739.50 1349.07,739.50 1349.77,739.50 1350.46,739.50 1351.15,739.50 1351.85,739.50 1352.54,739.50 1353.24,739.50 1353.93,739.50 1354.62,739.50 1355.32,739.50 1356.01,739.50 1356.70,739.50 1357.40,739.50 1358.09,739.50 1358.79,739.50 1359.48,739.50 1360.17,739.50 1360.87,739.50 1361.56,739.50 1362.25,739.50 1362.95,739.50 1363.64,739.50 1364.34,739.50 1365.03,739.50 1365.72,739.50 1366.42,739.50 1367.11,739.50 1367.80,739.50 1368.50,739.50 1369.19,739.50 1369.89,739.50 1370.58,739.50 1371.27,739.50 1371.97,739.50 1372.66,739.50 1373.36,739.50 1374.05,739.50 1374.74,739.50 1375.44,739.50 1376.13,739.50 1376.82,739.50 1377.52,739.50 1378.21,739.50 1378.91,739.50 1379.60,739.50 1380.29,739.50 1380.99,739.50 1381.68,739.50 1382.37,739.50 1383.07,739.50 1383.76,739.50 1384.46,739.50 1385.15,739.50 1385.84,739.50 1386.54,739.50 1387.23,739.50 1387.92,739.50 1388.62,739.50 1389.31,739.50 1390.01,739.50 1390.70,739.50 1391.39,739.50 1392.09,739.50 1392.78,739.50 1393.48,739.50 1394.17,739.50 1394.86,739.50 1395.56,739.50 1396.25,739.50 1396.94,739.50 1397.64,739.50 1398.33,739.50 1399.03,739.50 1399.72,739.50 1400.41,739.50 1401.11,739.50 1401.80,739.50 1402.49,739.50 1403.19,739.50 1403.88,739.50 1404.58,739.50 1405.27,739.50 1405.96,739.50 1406.66,739.50 1407.35,739.50 1408.05,739.50 1408.74,739.50 1409.43,739.50 1410.13,739.50 1410.82,739.50 1411.51,739.50 1412.21,739.50 1412.90,739.50 1413.60,739.50 1414.29,739.50 1414.98,739.50 1415.68,739.50 1416.37,739.50 1417.06,739.50 1417.76,739.50 1418.45,739.50 1419.15,739.50 1419.84,739.50 1420.53,739.50 1421.23,739.50 1421.92,739.50 1422.62,739.50 1423.31,739.50 1424.00,739.50 1424.70,739.50 1425.39,739.50 1426.08,739.50 1426.78,739.50 1427.47,739.50 1428.17,739.50 1428.86,739.50 1429.55,739.50 1430.25,739.50 1430.94,739.50 1431.63,739.50 1432.33,739.50 1433.02,739.50 1433.72,739.50 1434.41,739.50 1435.10,739.50 1435.80,739.50 1436.49,739.50 1437.18,739.50 1437.88,739.50 1438.57,739.50 1439.27,739.50 1439.96,739.50 1440.65,739.50 1441.35,739.50 1442.04,739.50 1442.74,739.50 1443.43,739.50 1444.12,739.50 1444.82,739.50 1445.51,739.50 1446.20,739.50 1446.90,739.50 1447.59,739.50 1448.29,739.50 1448.98,739.50 1449.67,739.50 1450.37,739.50 1451.06,739.50 1451.75,739.50 1452.45,739.50 1453.14,739.50 1453.84,739.50 1454.53,739.50 1455.22,739.50 1455.92,739.50 1456.61,739.50 1457.31,739.50 1458.00,739.50 1458.69,739.50 1459.39,739.50 1460.08,739.50 1460.77,739.50 1461.47,739.50 1462.16,739.50 1462.86,739.50 1463.55,739.50 1464.24,739.50 1464.94,739.50 1465.63,739.50 1466.32,739.50 1467.02,739.50 1467.71,739.50 1468.41,739.50 1469.10,739.50 1469.79,739.50 1470.49,739.50 1471.18,739.50 1471.87,739.50 1472.57,739.50 1473.26,739.50 1473.96,739.50 1474.65,739.50 1475.34,739.50 1476.04,739.50 1476.73,739.50 1477.43,739.50 1478.12,739.50 1478.81,739.50 1479.51,739.50 1480.20,739.50 1480.89,739.50 1481.59,739.50 1482.28,739.50 1482.98,739.50 1483.67,739.50 1484.36,739.50 1485.06,739.50 1485.75,739.50 1486.44,739.50 1487.14,739.50 1487.83,739.50 1488.53,739.50 1489.22,739.50 1489.91,739.50 1490.61,739.50 1491.30,739.50 1492.00,739.50 1492.69,739.50 1493.38,739.50 1494.08,739.50 1494.77,739.50 1495.46,739.50 1496.16,739.50 1496.85,739.50 1497.55,739.50 1498.24,739.50 1498.93,739.50 1499.63,739.50 1500.32,739.50 1501.01,739.50 1501.71,739.50 1502.40,739.50 1503.10,739.50 1503.79,739.50 1504.48,739.50 1505.18,739.50 1505.87,739.50 1506.56,739.50 1507.26,739.50 1507.95,739.50 1508.65,739.50 1509.34,739.50" fill="none" stroke="#ff00ff" stroke-width="4.6" stroke-linecap="round" stroke-linejoin="round"/>
<polyline points="1093.06,739.50 1093.75,739.50 1094.45,739.50 1095.14,739.50 1095.84,739.50 1096.53,739.50 1097.22,739.50 1097.92,739.50 1098.61,739.50 1099.30,739.50 1100.00,739.50 1100.69,739.50 1101.39,739.50 1102.08,739.50 1102.77,739.50 1103.47,739.50 1104.16,739.50 1104.85,739.50 1105.55,739.50 1106.24,739.50 1106.94,739.50 1107.63,739.50 1108.32,739.50 1109.02,739.50 1109.71,739.50 1110.40,739.50 1111.10,739.50 1111.79,739.50 1112.49,739.50 1113.18,739.50 1113.87,739.50 1114.57,739.50 1115.26,739.50 1115.96,739.50 1116.65,739.50 1117.34,739.50 1118.04,739.50 1118.73,739.50 1119.42,739.50 1120.12,739.50 1120.81,739.50 1121.51,739.50 1122.20,739.50 1122.89,739.50 1123.59,739.50 1124.28,739.50 1124.97,739.50 1125.67,739.50 1126.36,739.50 1127.06,739.50 1127.75,739.50 1128.44,739.50 1129.14,739.50 1129.83,739.50 1130.53,739.50 1131.22,739.50 1131.91,739.50 1132.61,739.50 1133.30,739.50 1133.99,739.50 1134.69,739.50 1135.38,739.50 1136.08,739.50 1136.77,739.50 1137.46,739.50 1138.16,739.50 1138.85,739.50 1139.54,739.50 1140.24,739.50 1140.93,739.50 1141.63,739.50 1142.32,739.50 1143.01,739.50 1143.71,739.50 1144.40,739.50 1145.10,739.50 1145.79,739.50 1146.48,739.50 1147.18,739.50 1147.87,739.50 1148.56,739.50 1149.26,739.50 1149.95,739.50 1150.65,739.50 1151.34,739.50 1152.03,739.50 1152.73,739.50 1153.42,739.50 1154.11,739.50 1154.81,739.50 1155.50,739.50 1156.20,739.50 1156.89,739.50 1157.58,739.50 1158.28,739.50 1158.97,739.50 1159.66,739.50 1160.36,739.50 1161.05,739.50 1161.75,739.50 1162.44,739.50 1163.13,739.50 1163.83,739.50 1164.52,739.50 1165.22,739.50 1165.91,739.50 1166.60,739.50 1167.30,739.50 1167.99,739.50 1168.68,739.50 1169.38,739.50 1170.07,739.50 1170.77,739.50 1171.46,739.50 1172.15,739.50 1172.85,739.50 1173.54,739.50 1174.23,739.50 1174.93,739.50 1175.62,739.50 1176.32,739.50 1177.01,739.50 1177.70,739.50 1178.40,739.50 1179.09,739.50 1179.79,739.50 1180.48,739.50 1181.17,739.50 1181.87,739.50 1182.56,739.50 1183.25,739.50 1183.95,739.50 1184.64,739.50 1185.34,739.50 1186.03,739.50 1186.72,739.50 1187.42,739.50 1188.11,739.50 1188.80,739.50 1189.50,739.50 1190.19,739.50 1190.89,739.50 1191.58,739.50 1192.27,739.50 1192.97,739.50 1193.66,739.50 1194.35,739.50 1195.05,739.50 1195.74,739.50 1196.44,739.50 1197.13,739.50 1197.82,739.50 1198.52,739.50 1199.21,739.50 1199.91,739.50 1200.60,739.50 1201.29,739.50 1201.99,739.50 1202.68,739.50 1203.37,739.50 1204.07,739.50 1204.76,739.50 1205.46,739.50 1206.15,739.50 1206.84,739.50 1207.54,739.50 1208.23,739.50 1208.92,739.50 1209.62,739.50 1210.31,739.50 1211.01,739.50 1211.70,739.50 1212.39,739.50 1213.09,739.50 1213.78,739.50 1214.48,739.50 1215.17,739.50 1215.86,739.50 1216.56,739.50 1217.25,739.50 1217.94,739.50 1218.64,739.50 1219.33,739.50 1220.03,739.50 1220.72,739.50 1221.41,739.50 1222.11,739.50 1222.80,739.50 1223.49,739.50 1224.19,739.50 1224.88,739.50 1225.58,739.50 1226.27,739.50 1226.96,739.50 1227.66,739.50 1228.35,739.50 1229.04,739.50 1229.74,739.50 1230.43,739.50 1231.13,739.50 1231.82,739.50 1232.51,739.50 1233.21,739.50 1233.90,739.50 1234.60,739.50 1235.29,739.50 1235.98,739.50 1236.68,739.50 1237.37,739.50 1238.06,739.50 1238.76,739.50 1239.45,739.50 1240.15,739.50 1240.84,739.50 1241.53,739.50 1242.23,739.50 1242.92,739.50 1243.61,739.50 1244.31,739.50 1245.00,739.50 1245.70,739.50 1246.39,739.50 1247.08,739.50 1247.78,739.50 1248.47,739.50 1249.16,739.50 1249.86,739.50 1250.55,739.50 1251.25,739.50 1251.94,739.50 1252.63,739.50 1253.33,739.50 1254.02,739.50 1254.72,739.50 1255.41,739.50 1256.10,739.50 1256.80,739.50 1257.49,739.50 1258.18,739.49 1258.88,739.49 1259.57,739.49 1260.27,739.49 1260.96,739.49 1261.65,739.49 1262.35,739.48 1263.04,739.48 1263.73,739.48 1264.43,739.47 1265.12,739.47 1265.82,739.46 1266.51,739.45 1267.20,739.44 1267.90,739.43 1268.59,739.41 1269.29,739.39 1269.98,739.37 1270.67,739.35 1271.37,739.32 1272.06,739.28 1272.75,739.23 1273.45,739.18 1274.14,739.11 1274.84,739.03 1275.53,738.94 1276.22,738.82 1276.92,738.68 1277.61,738.51 1278.30,738.31 1279.00,738.07 1279.69,737.77 1280.39,737.42 1281.08,737.00 1281.77,736.49 1282.47,735.88 1283.16,735.15 1283.86,734.28 1284.55,733.23 1285.24,731.98 1285.94,730.49 1286.63,728.72 1287.32,726.62 1288.02,724.13 1288.71,721.19 1289.41,717.75 1290.10,713.72 1290.79,709.05 1291.49,703.66 1292.18,697.50 1292.87,690.50 1293.57,682.64 1294.26,673.92 1294.96,664.36 1295.65,654.02 1296.34,643.00 1297.04,631.44 1297.73,619.53 1298.42,607.44 1299.12,595.40 1299.81,583.61 1300.51,572.26 1301.20,561.51 1301.89,551.48 1302.59,542.26 1303.28,533.90 1303.98,526.40 1304.67,519.75 1305.36,513.91 1306.06,508.83 1306.75,504.43 1307.44,500.66 1308.14,497.43 1308.83,494.69 1309.53,492.37 1310.22,490.41 1310.91,488.76 1311.61,487.37 1312.30,486.21 1312.99,485.24 1313.69,484.43 1314.38,483.75 1315.08,483.19 1315.77,482.71 1316.46,482.32 1317.16,482.00 1317.85,481.73 1318.55,481.50 1319.24,481.31 1319.93,481.16 1320.63,481.03 1321.32,480.92 1322.01,480.83 1322.71,480.76 1323.40,480.70 1324.10,480.65 1324.79,480.61 1325.48,480.57 1326.18,480.54 1326.87,480.52 1327.56,480.50 1328.26,480.48 1328.95,480.47 1329.65,480.46 1330.34,480.45 1331.03,480.44 1331.73,480.43 1332.42,480.43 1333.11,480.42 1333.81,480.42 1334.50,480.42 1335.20,480.41 1335.89,480.41 1336.58,480.41 1337.28,480.41 1337.97,480.41 1338.67,480.40 1339.36,480.40 1340.05,480.40 1340.75,480.40 1341.44,480.40 1342.13,480.40 1342.83,480.40 1343.52,480.40 1344.22,480.40 1344.91,480.40 1345.60,480.40 1346.30,480.40 1346.99,480.40 1347.68,480.40 1348.38,480.40 1349.07,480.40 1349.77,480.40 1350.46,480.40 1351.15,480.40 1351.85,480.40 1352.54,480.40 1353.24,480.40 1353.93,480.40 1354.62,480.40 1355.32,480.40 1356.01,480.40 1356.70,480.40 1357.40,480.40 1358.09,480.40 1358.79,480.40 1359.48,480.40 1360.17,480.40 1360.87,480.40 1361.56,480.40 1362.25,480.40 1362.95,480.40 1363.64,480.40 1364.34,480.40 1365.03,480.40 1365.72,480.40 1366.42,480.40 1367.11,480.40 1367.80,480.40 1368.50,480.40 1369.19,480.40 1369.89,480.40 1370.58,480.40 1371.27,480.40 1371.97,480.40 1372.66,480.40 1373.36,480.40 1374.05,480.40 1374.74,480.40 1375.44,480.40 1376.13,480.40 1376.82,480.40 1377.52,480.40 1378.21,480.40 1378.91,480.40 1379.60,480.40 1380.29,480.40 1380.99,480.40 1381.68,480.40 1382.37,480.40 1383.07,480.40 1383.76,480.40 1384.46,480.40 1385.15,480.40 1385.84,480.40 1386.54,480.40 1387.23,480.40 1387.92,480.40 1388.62,480.40 1389.31,480.40 1390.01,480.40 1390.70,480.40 1391.39,480.40 1392.09,480.40 1392.78,480.40 1393.48,480.40 1394.17,480.40 1394.86,480.40 1395.56,480.40 1396.25,480.40 1396.94,480.40 1397.64,480.40 1398.33,480.40 1399.03,480.40 1399.72,480.40 1400.41,480.40 1401.11,480.40 1401.80,480.40 1402.49,480.40 1403.19,480.40 1403.88,480.40 1404.58,480.40 1405.27,480.40 1405.96,480.40 1406.66,480.40 1407.35,480.40 1408.05,480.40 1408.74,480.40 1409.43,480.40 1410.13,480.40 1410.82,480.40 1411.51,480.40 1412.21,480.40 1412.90,480.40 1413.60,480.40 1414.29,480.40 1414.98,480.40 1415.68,480.40 1416.37,480.40 1417.06,480.40 1417.76,480.40 1418.45,480.40 1419.15,480.40 1419.84,480.40 1420.53,480.40 1421.23,480.40 1421.92,480.40 1422.62,480.40 1423.31,480.40 1424.00,480.40 1424.70,480.40 1425.39,480.40 1426.08,480.40 1426.78,480.40 1427.47,480.40 1428.17,480.40 1428.86,480.40 1429.55,480.40 1430.25,480.40 1430.94,480.40 1431.63,480.40 1432.33,480.40 1433.02,480.40 1433.72,480.40 1434.41,480.40 1435.10,480.40 1435.80,480.40 1436.49,480.40 1437.18,480.40 1437.88,480.40 1438.57,480.40 1439.27,480.40 1439.96,480.40 1440.65,480.40 1441.35,480.40 1442.04,480.40 1442.74,480.40 1443.43,480.40 1444.12,480.40 1444.82,480.40 1445.51,480.40 1446.20,480.40 1446.90,480.40 1447.59,480.40 1448.29,480.40 1448.98,480.40 1449.67,480.40 1450.37,480.40 1451.06,480.40 1451.75,480.40 1452.45,480.40 1453.14,480.40 1453.84,480.40 1454.53,480.40 1455.22,480.40 1455.92,480.40 1456.61,480.40 1457.31,480.40 1458.00,480.40 1458.69,480.40 1459.39,480.40 1460.08,480.40 1460.77,480.40 1461.47,480.40 1462.16,480.40 1462.86,480.40 1463.55,480.40 1464.24,480.40 1464.94,480.40 1465.63,480.40 1466.32,480.40 1467.02,480.40 1467.71,480.40 1468.41,480.40 1469.10,480.40 1469.79,480.40 1470.49,480.40 1471.18,480.40 1471.87,480.40 1472.57,480.40 1473.26,480.40 1473.96,480.40 1474.65,480.40 1475.34,480.40 1476.04,480.40 1476.73,480.40 1477.43,480.40 1478.12,480.40 1478.81,480.40 1479.51,480.40 1480.20,480.40 1480.89,480.40 1481.59,480.40 1482.28,480.40 1482.98,480.40 1483.67,480.40 1484.36,480.40 1485.06,480.40 1485.75,480.40 1486.44,480.40 1487.14,480.40 1487.83,480.40 1488.53,480.40 1489.22,480.40 1489.91,480.40 1490.61,480.40 1491.30,480.40 1492.00,480.40 1492.69,480.40 1493.38,480.40 1494.08,480.40 1494.77,480.40 1495.46,480.40 1496.16,480.40 1496.85,480.40 1497.55,480.40 1498.24,480.40 1498.93,480.40 1499.63,480.40 1500.32,480.40 1501.01,480.40 1501.71,480.40 1502.40,480.40 1503.10,480.40 1503.79,480.40 1504.48,480.40 1505.18,480.40 1505.87,480.40 1506.56,480.40 1507.26,480.40 1507.95,480.40 1508.65,480.40 1509.34,480.40" fill="none" stroke="#004800" stroke-width="4.6" stroke-linecap="round" stroke-linejoin="round"/>
<rect x="114.80" y="765.10" width="474.55" height="20.60" fill="#9fcae0"/>
<rect x="116.30" y="766.30" width="471.55" height="2.2" fill="#aadcf4"/>
<rect x="116.30" y="782.30" width="471.55" height="2.2" fill="#aadcf4"/>
<text x="352.07" y="782.40" font-family="'Liberation Sans', Arial, Helvetica, sans-serif" font-size="17" text-anchor="middle" fill="#111" stroke="#000" stroke-width="0.45">I1</text>
<polyline points="143.96,812.10 144.65,812.10 145.35,812.10 146.04,812.10 146.74,812.10 147.43,812.10 148.12,812.10 148.82,812.10 149.51,812.10 150.20,812.10 150.90,812.10 151.59,812.10 152.29,812.10 152.98,812.10 153.67,812.10 154.37,812.10 155.06,812.10 155.75,812.10 156.45,812.10 157.14,812.10 157.84,812.10 158.53,812.10 159.22,812.10 159.92,812.10 160.61,812.10 161.31,812.10 162.00,812.10 162.69,812.10 163.39,812.10 164.08,812.10 164.77,812.10 165.47,812.10 166.16,812.10 166.86,812.10 167.55,812.10 168.24,812.10 168.94,812.10 169.63,812.10 170.32,812.10 171.02,812.10 171.71,812.10 172.41,812.10 173.10,812.10 173.79,812.10 174.49,812.10 175.18,812.10 175.87,812.10 176.57,812.10 177.26,812.10 177.96,812.10 178.65,812.10 179.34,812.10 180.04,812.10 180.73,812.10 181.43,812.10 182.12,812.10 182.81,812.10 183.51,812.10 184.20,812.10 184.89,812.10 185.59,812.10 186.28,812.10 186.98,812.10 187.67,812.10 188.36,812.10 189.06,812.10 189.75,812.11 190.44,812.11 191.14,812.11 191.83,812.11 192.53,812.11 193.22,812.11 193.91,812.11 194.61,812.11 195.30,812.11 196.00,812.11 196.69,812.11 197.38,812.11 198.08,812.11 198.77,812.11 199.46,812.11 200.16,812.11 200.85,812.11 201.55,812.12 202.24,812.12 202.93,812.12 203.63,812.12 204.32,812.12 205.01,812.12 205.71,812.12 206.40,812.12 207.10,812.13 207.79,812.13 208.48,812.13 209.18,812.13 209.87,812.13 210.56,812.13 211.26,812.14 211.95,812.14 212.65,812.14 213.34,812.14 214.03,812.15 214.73,812.15 215.42,812.15 216.12,812.16 216.81,812.16 217.50,812.16 218.20,812.17 218.89,812.17 219.58,812.18 220.28,812.18 220.97,812.19 221.67,812.19 222.36,812.20 223.05,812.21 223.75,812.21 224.44,812.22 225.13,812.23 225.83,812.24 226.52,812.25 227.22,812.26 227.91,812.27 228.60,812.28 229.30,812.29 229.99,812.30 230.69,812.32 231.38,812.33 232.07,812.34 232.77,812.36 233.46,812.38 234.15,812.40 234.85,812.41 235.54,812.44 236.24,812.46 236.93,812.48 237.62,812.50 238.32,812.53 239.01,812.56 239.70,812.59 240.40,812.62 241.09,812.66 241.79,812.69 242.48,812.73 243.17,812.77 243.87,812.81 244.56,812.86 245.25,812.91 245.95,812.96 246.64,813.02 247.34,813.08 248.03,813.14 248.72,813.21 249.42,813.28 250.11,813.36 250.81,813.44 251.50,813.53 252.19,813.62 252.89,813.72 253.58,813.83 254.27,813.94 254.97,814.06 255.66,814.18 256.36,814.32 257.05,814.46 257.74,814.61 258.44,814.78 259.13,814.95 259.82,815.13 260.52,815.33 261.21,815.54 261.91,815.76 262.60,815.99 263.29,816.24 263.99,816.51 264.68,816.79 265.38,817.09 266.07,817.41 266.76,817.75 267.46,818.11 268.15,818.49 268.84,818.90 269.54,819.33 270.23,819.79 270.93,820.27 271.62,820.79 272.31,821.34 273.01,821.92 273.70,822.53 274.39,823.19 275.09,823.88 275.78,824.61 276.48,825.38 277.17,826.20 277.86,827.07 278.56,827.99 279.25,828.96 279.94,829.98 280.64,831.06 281.33,832.21 282.03,833.41 282.72,834.68 283.41,836.02 284.11,837.43 284.80,838.91 285.50,840.47 286.19,842.11 286.88,843.82 287.58,845.63 288.27,847.52 288.96,849.50 289.66,851.56 290.35,853.73 291.05,855.98 291.74,858.34 292.43,860.79 293.13,863.34 293.82,865.99 294.51,868.74 295.21,871.59 295.90,874.53 296.60,877.58 297.29,880.72 297.98,883.96 298.68,887.29 299.37,890.71 300.07,894.22 300.76,897.80 301.45,901.47 302.15,905.21 302.84,909.01 303.53,912.88 304.23,916.80 304.92,920.77 305.62,924.77 306.31,928.82 307.00,932.88 307.70,936.97 308.39,941.06 309.08,945.16 309.78,949.25 310.47,953.32 311.17,957.37 311.86,961.39 312.55,965.37 313.25,969.31 313.94,973.19 314.63,977.01 315.33,980.77 316.02,984.46 316.72,988.07 317.41,991.60 318.10,995.04 318.80,998.40 319.49,1001.66 320.19,1004.83 320.88,1007.90 321.57,1010.88 322.27,1013.76 322.96,1016.53 323.65,1019.21 324.35,1021.79 325.04,1024.27 325.74,1026.65 326.43,1028.94 327.12,1031.13 327.82,1033.22 328.51,1035.23 329.20,1037.14 329.90,1038.97 330.59,1040.71 331.29,1042.37 331.98,1043.95 332.67,1045.46 333.37,1046.89 334.06,1048.24 334.75,1049.53 335.45,1050.76 336.14,1051.92 336.84,1053.02 337.53,1054.06 338.22,1055.04 338.92,1055.97 339.61,1056.85 340.31,1057.69 341.00,1058.48 341.69,1059.22 342.39,1059.92 343.08,1060.58 343.77,1061.21 344.47,1061.80 345.16,1062.36 345.86,1062.88 346.55,1063.38 347.24,1063.84 347.94,1064.28 348.63,1064.69 349.32,1065.08 350.02,1065.45 350.71,1065.79 351.41,1066.12 352.10,1066.42 352.79,1066.71 353.49,1066.98 354.18,1067.24 354.88,1067.48 355.57,1067.70 356.26,1067.91 356.96,1068.11 357.65,1068.30 358.34,1068.48 359.04,1068.64 359.73,1068.80 360.43,1068.94 361.12,1069.08 361.81,1069.21 362.51,1069.33 363.20,1069.44 363.89,1069.55 364.59,1069.65 365.28,1069.75 365.98,1069.83 366.67,1069.92 367.36,1070.00 368.06,1070.07 368.75,1070.14 369.45,1070.20 370.14,1070.26 370.83,1070.32 371.53,1070.37 372.22,1070.43 372.91,1070.47 373.61,1070.52 374.30,1070.56 375.00,1070.60 375.69,1070.63 376.38,1070.67 377.08,1070.70 377.77,1070.73 378.46,1070.76 379.16,1070.79 379.85,1070.81 380.55,1070.84 381.24,1070.86 381.93,1070.88 382.63,1070.90 383.32,1070.92 384.01,1070.94 384.71,1070.95 385.40,1070.97 386.10,1070.98 386.79,1070.99 387.48,1071.01 388.18,1071.02 388.87,1071.03 389.57,1071.04 390.26,1071.05 390.95,1071.06 391.65,1071.07 392.34,1071.08 393.03,1071.08 393.73,1071.09 394.42,1071.10 395.12,1071.10 395.81,1071.11 396.50,1071.12 397.20,1071.12 397.89,1071.13 398.58,1071.13 399.28,1071.13 399.97,1071.14 400.67,1071.14 401.36,1071.15 402.05,1071.15 402.75,1071.15 403.44,1071.15 404.13,1071.16 404.83,1071.16 405.52,1071.16 406.22,1071.16 406.91,1071.17 407.60,1071.17 408.30,1071.17 408.99,1071.17 409.69,1071.17 410.38,1071.18 411.07,1071.18 411.77,1071.18 412.46,1071.18 413.15,1071.18 413.85,1071.18 414.54,1071.18 415.24,1071.18 415.93,1071.19 416.62,1071.19 417.32,1071.19 418.01,1071.19 418.70,1071.19 419.40,1071.19 420.09,1071.19 420.79,1071.19 421.48,1071.19 422.17,1071.19 422.87,1071.19 423.56,1071.19 424.26,1071.19 424.95,1071.19 425.64,1071.19 426.34,1071.19 427.03,1071.19 427.72,1071.20 428.42,1071.20 429.11,1071.20 429.81,1071.20 430.50,1071.20 431.19,1071.20 431.89,1071.20 432.58,1071.20 433.27,1071.20 433.97,1071.20 434.66,1071.20 435.36,1071.20 436.05,1071.20 436.74,1071.20 437.44,1071.20 438.13,1071.20 438.83,1071.20 439.52,1071.20 440.21,1071.20 440.91,1071.20 441.60,1071.20 442.29,1071.20 442.99,1071.20 443.68,1071.20 444.38,1071.20 445.07,1071.20 445.76,1071.20 446.46,1071.20 447.15,1071.20 447.84,1071.20 448.54,1071.20 449.23,1071.20 449.93,1071.20 450.62,1071.20 451.31,1071.20 452.01,1071.20 452.70,1071.20 453.39,1071.20 454.09,1071.20 454.78,1071.20 455.48,1071.20 456.17,1071.20 456.86,1071.20 457.56,1071.20 458.25,1071.20 458.95,1071.20 459.64,1071.20 460.33,1071.20 461.03,1071.20 461.72,1071.20 462.41,1071.20 463.11,1071.20 463.80,1071.20 464.50,1071.20 465.19,1071.20 465.88,1071.20 466.58,1071.20 467.27,1071.20 467.96,1071.20 468.66,1071.20 469.35,1071.20 470.05,1071.20 470.74,1071.20 471.43,1071.20 472.13,1071.20 472.82,1071.20 473.51,1071.20 474.21,1071.20 474.90,1071.20 475.60,1071.20 476.29,1071.20 476.98,1071.20 477.68,1071.20 478.37,1071.20 479.07,1071.20 479.76,1071.20 480.45,1071.20 481.15,1071.20 481.84,1071.20 482.53,1071.20 483.23,1071.20 483.92,1071.20 484.62,1071.20 485.31,1071.20 486.00,1071.20 486.70,1071.20 487.39,1071.20 488.08,1071.20 488.78,1071.20 489.47,1071.20 490.17,1071.20 490.86,1071.20 491.55,1071.20 492.25,1071.20 492.94,1071.20 493.64,1071.20 494.33,1071.20 495.02,1071.20 495.72,1071.20 496.41,1071.20 497.10,1071.20 497.80,1071.20 498.49,1071.20 499.19,1071.20 499.88,1071.20 500.57,1071.20 501.27,1071.20 501.96,1071.20 502.65,1071.20 503.35,1071.20 504.04,1071.20 504.74,1071.20 505.43,1071.20 506.12,1071.20 506.82,1071.20 507.51,1071.20 508.21,1071.20 508.90,1071.20 509.59,1071.20 510.29,1071.20 510.98,1071.20 511.67,1071.20 512.37,1071.20 513.06,1071.20 513.76,1071.20 514.45,1071.20 515.14,1071.20 515.84,1071.20 516.53,1071.20 517.22,1071.20 517.92,1071.20 518.61,1071.20 519.31,1071.20 520.00,1071.20 520.69,1071.20 521.39,1071.20 522.08,1071.20 522.77,1071.20 523.47,1071.20 524.16,1071.20 524.86,1071.20 525.55,1071.20 526.24,1071.20 526.94,1071.20 527.63,1071.20 528.33,1071.20 529.02,1071.20 529.71,1071.20 530.41,1071.20 531.10,1071.20 531.79,1071.20 532.49,1071.20 533.18,1071.20 533.88,1071.20 534.57,1071.20 535.26,1071.20 535.96,1071.20 536.65,1071.20 537.34,1071.20 538.04,1071.20 538.73,1071.20 539.43,1071.20 540.12,1071.20 540.81,1071.20 541.51,1071.20 542.20,1071.20 542.89,1071.20 543.59,1071.20 544.28,1071.20 544.98,1071.20 545.67,1071.20 546.36,1071.20 547.06,1071.20 547.75,1071.20 548.45,1071.20 549.14,1071.20 549.83,1071.20 550.53,1071.20 551.22,1071.20 551.91,1071.20 552.61,1071.20 553.30,1071.20 554.00,1071.20 554.69,1071.20 555.38,1071.20 556.08,1071.20 556.77,1071.20 557.46,1071.20 558.16,1071.20 558.85,1071.20 559.55,1071.20 560.24,1071.20" fill="none" stroke="#0066ff" stroke-width="4.6" stroke-linecap="round" stroke-linejoin="round"/>
<polyline points="143.96,1071.20 144.65,1071.20 145.35,1071.20 146.04,1071.20 146.74,1071.20 147.43,1071.20 148.12,1071.20 148.82,1071.20 149.51,1071.20 150.20,1071.20 150.90,1071.20 151.59,1071.20 152.29,1071.20 152.98,1071.20 153.67,1071.20 154.37,1071.20 155.06,1071.20 155.75,1071.20 156.45,1071.20 157.14,1071.20 157.84,1071.20 158.53,1071.20 159.22,1071.20 159.92,1071.20 160.61,1071.20 161.31,1071.20 162.00,1071.20 162.69,1071.20 163.39,1071.20 164.08,1071.20 164.77,1071.20 165.47,1071.20 166.16,1071.20 166.86,1071.20 167.55,1071.20 168.24,1071.20 168.94,1071.20 169.63,1071.20 170.32,1071.20 171.02,1071.20 171.71,1071.20 172.41,1071.20 173.10,1071.20 173.79,1071.20 174.49,1071.20 175.18,1071.20 175.87,1071.20 176.57,1071.20 177.26,1071.20 177.96,1071.20 178.65,1071.20 179.34,1071.20 180.04,1071.20 180.73,1071.20 181.43,1071.20 182.12,1071.20 182.81,1071.20 183.51,1071.20 184.20,1071.20 184.89,1071.20 185.59,1071.20 186.28,1071.20 186.98,1071.20 187.67,1071.20 188.36,1071.20 189.06,1071.20 189.75,1071.20 190.44,1071.20 191.14,1071.19 191.83,1071.19 192.53,1071.19 193.22,1071.19 193.91,1071.19 194.61,1071.19 195.30,1071.19 196.00,1071.19 196.69,1071.19 197.38,1071.19 198.08,1071.19 198.77,1071.19 199.46,1071.19 200.16,1071.19 200.85,1071.19 201.55,1071.19 202.24,1071.19 202.93,1071.19 203.63,1071.18 204.32,1071.18 205.01,1071.18 205.71,1071.18 206.40,1071.18 207.10,1071.18 207.79,1071.18 208.48,1071.18 209.18,1071.17 209.87,1071.17 210.56,1071.17 211.26,1071.17 211.95,1071.17 212.65,1071.16 213.34,1071.16 214.03,1071.16 214.73,1071.16 215.42,1071.15 216.12,1071.15 216.81,1071.15 217.50,1071.14 218.20,1071.14 218.89,1071.14 219.58,1071.13 220.28,1071.13 220.97,1071.12 221.67,1071.12 222.36,1071.11 223.05,1071.11 223.75,1071.10 224.44,1071.09 225.13,1071.09 225.83,1071.08 226.52,1071.07 227.22,1071.06 227.91,1071.05 228.60,1071.04 229.30,1071.03 229.99,1071.02 230.69,1071.01 231.38,1071.00 232.07,1070.99 232.77,1070.97 233.46,1070.96 234.15,1070.94 234.85,1070.93 235.54,1070.91 236.24,1070.89 236.93,1070.87 237.62,1070.85 238.32,1070.82 239.01,1070.80 239.70,1070.77 240.40,1070.75 241.09,1070.72 241.79,1070.68 242.48,1070.65 243.17,1070.61 243.87,1070.58 244.56,1070.54 245.25,1070.49 245.95,1070.45 246.64,1070.40 247.34,1070.35 248.03,1070.29 248.72,1070.23 249.42,1070.17 250.11,1070.10 250.81,1070.03 251.50,1069.95 252.19,1069.87 252.89,1069.79 253.58,1069.69 254.27,1069.60 254.97,1069.49 255.66,1069.38 256.36,1069.27 257.05,1069.14 257.74,1069.01 258.44,1068.87 259.13,1068.72 259.82,1068.56 260.52,1068.39 261.21,1068.20 261.91,1068.01 262.60,1067.81 263.29,1067.59 263.99,1067.36 264.68,1067.11 265.38,1066.85 266.07,1066.58 266.76,1066.28 267.46,1065.97 268.15,1065.64 268.84,1065.28 269.54,1064.91 270.23,1064.51 270.93,1064.09 271.62,1063.65 272.31,1063.17 273.01,1062.67 273.70,1062.14 274.39,1061.58 275.09,1060.98 275.78,1060.35 276.48,1059.68 277.17,1058.98 277.86,1058.23 278.56,1057.44 279.25,1056.61 279.94,1055.73 280.64,1054.81 281.33,1053.83 282.03,1052.80 282.72,1051.72 283.41,1050.58 284.11,1049.39 284.80,1048.13 285.50,1046.81 286.19,1045.43 286.88,1043.98 287.58,1042.47 288.27,1040.89 288.96,1039.24 289.66,1037.51 290.35,1035.72 291.05,1033.85 291.74,1031.91 292.43,1029.90 293.13,1027.82 293.82,1025.67 294.51,1023.45 295.21,1021.16 295.90,1018.80 296.60,1016.38 297.29,1013.91 297.98,1011.38 298.68,1008.79 299.37,1006.16 300.07,1003.50 300.76,1000.79 301.45,998.06 302.15,995.32 302.84,992.56 303.53,989.79 304.23,987.04 304.92,984.30 305.62,981.58 306.31,978.90 307.00,976.27 307.70,973.69 308.39,971.19 309.08,968.76 309.78,966.42 310.47,964.18 311.17,962.05 311.86,960.04 312.55,958.16 313.25,956.43 313.94,954.84 314.63,953.40 315.33,952.13 316.02,951.03 316.72,950.11 317.41,949.36 318.10,948.80 318.80,948.43 319.49,948.25 320.19,948.25 320.88,948.45 321.57,948.84 322.27,949.41 322.96,950.17 323.65,951.11 324.35,952.22 325.04,953.50 325.74,954.95 326.43,956.55 327.12,958.30 327.82,960.19 328.51,962.21 329.20,964.34 329.90,966.59 330.59,968.94 331.29,971.37 331.98,973.89 332.67,976.47 333.37,979.10 334.06,981.79 334.75,984.50 335.45,987.24 336.14,990.00 336.84,992.76 337.53,995.52 338.22,998.27 338.92,1001.00 339.61,1003.70 340.31,1006.36 341.00,1008.99 341.69,1011.57 342.39,1014.10 343.08,1016.57 343.77,1018.98 344.47,1021.33 345.16,1023.62 345.86,1025.83 346.55,1027.98 347.24,1030.06 347.94,1032.06 348.63,1034.00 349.32,1035.86 350.02,1037.65 350.71,1039.36 351.41,1041.01 352.10,1042.59 352.79,1044.10 353.49,1045.54 354.18,1046.92 354.88,1048.23 355.57,1049.48 356.26,1050.67 356.96,1051.81 357.65,1052.88 358.34,1053.91 359.04,1054.88 359.73,1055.80 360.43,1056.68 361.12,1057.50 361.81,1058.29 362.51,1059.03 363.20,1059.73 363.89,1060.40 364.59,1061.03 365.28,1061.62 365.98,1062.18 366.67,1062.71 367.36,1063.21 368.06,1063.68 368.75,1064.12 369.45,1064.54 370.14,1064.94 370.83,1065.31 371.53,1065.66 372.22,1065.99 372.91,1066.30 373.61,1066.60 374.30,1066.87 375.00,1067.13 375.69,1067.38 376.38,1067.61 377.08,1067.82 377.77,1068.03 378.46,1068.22 379.16,1068.40 379.85,1068.57 380.55,1068.73 381.24,1068.88 381.93,1069.02 382.63,1069.15 383.32,1069.28 384.01,1069.39 384.71,1069.50 385.40,1069.61 386.10,1069.70 386.79,1069.79 387.48,1069.88 388.18,1069.96 388.87,1070.03 389.57,1070.11 390.26,1070.17 390.95,1070.24 391.65,1070.29 392.34,1070.35 393.03,1070.40 393.73,1070.45 394.42,1070.50 395.12,1070.54 395.81,1070.58 396.50,1070.62 397.20,1070.65 397.89,1070.69 398.58,1070.72 399.28,1070.75 399.97,1070.77 400.67,1070.80 401.36,1070.83 402.05,1070.85 402.75,1070.87 403.44,1070.89 404.13,1070.91 404.83,1070.93 405.52,1070.94 406.22,1070.96 406.91,1070.97 407.60,1070.99 408.30,1071.00 408.99,1071.01 409.69,1071.02 410.38,1071.04 411.07,1071.05 411.77,1071.05 412.46,1071.06 413.15,1071.07 413.85,1071.08 414.54,1071.09 415.24,1071.09 415.93,1071.10 416.62,1071.11 417.32,1071.11 418.01,1071.12 418.70,1071.12 419.40,1071.13 420.09,1071.13 420.79,1071.14 421.48,1071.14 422.17,1071.14 422.87,1071.15 423.56,1071.15 424.26,1071.15 424.95,1071.16 425.64,1071.16 426.34,1071.16 427.03,1071.16 427.72,1071.17 428.42,1071.17 429.11,1071.17 429.81,1071.17 430.50,1071.17 431.19,1071.18 431.89,1071.18 432.58,1071.18 433.27,1071.18 433.97,1071.18 434.66,1071.18 435.36,1071.18 436.05,1071.18 436.74,1071.19 437.44,1071.19 438.13,1071.19 438.83,1071.19 439.52,1071.19 440.21,1071.19 440.91,1071.19 441.60,1071.19 442.29,1071.19 442.99,1071.19 443.68,1071.19 444.38,1071.19 445.07,1071.19 445.76,1071.19 446.46,1071.19 447.15,1071.19 447.84,1071.19 448.54,1071.19 449.23,1071.20 449.93,1071.20 450.62,1071.20 451.31,1071.20 452.01,1071.20 452.70,1071.20 453.39,1071.20 454.09,1071.20 454.78,1071.20 455.48,1071.20 456.17,1071.20 456.86,1071.20 457.56,1071.20 458.25,1071.20 458.95,1071.20 459.64,1071.20 460.33,1071.20 461.03,1071.20 461.72,1071.20 462.41,1071.20 463.11,1071.20 463.80,1071.20 464.50,1071.20 465.19,1071.20 465.88,1071.20 466.58,1071.20 467.27,1071.20 467.96,1071.20 468.66,1071.20 469.35,1071.20 470.05,1071.20 470.74,1071.20 471.43,1071.20 472.13,1071.20 472.82,1071.20 473.51,1071.20 474.21,1071.20 474.90,1071.20 475.60,1071.20 476.29,1071.20 476.98,1071.20 477.68,1071.20 478.37,1071.20 479.07,1071.20 479.76,1071.20 480.45,1071.20 481.15,1071.20 481.84,1071.20 482.53,1071.20 483.23,1071.20 483.92,1071.20 484.62,1071.20 485.31,1071.20 486.00,1071.20 486.70,1071.20 487.39,1071.20 488.08,1071.20 488.78,1071.20 489.47,1071.20 490.17,1071.20 490.86,1071.20 491.55,1071.20 492.25,1071.20 492.94,1071.20 493.64,1071.20 494.33,1071.20 495.02,1071.20 495.72,1071.20 496.41,1071.20 497.10,1071.20 497.80,1071.20 498.49,1071.20 499.19,1071.20 499.88,1071.20 500.57,1071.20 501.27,1071.20 501.96,1071.20 502.65,1071.20 503.35,1071.20 504.04,1071.20 504.74,1071.20 505.43,1071.20 506.12,1071.20 506.82,1071.20 507.51,1071.20 508.21,1071.20 508.90,1071.20 509.59,1071.20 510.29,1071.20 510.98,1071.20 511.67,1071.20 512.37,1071.20 513.06,1071.20 513.76,1071.20 514.45,1071.20 515.14,1071.20 515.84,1071.20 516.53,1071.20 517.22,1071.20 517.92,1071.20 518.61,1071.20 519.31,1071.20 520.00,1071.20 520.69,1071.20 521.39,1071.20 522.08,1071.20 522.77,1071.20 523.47,1071.20 524.16,1071.20 524.86,1071.20 525.55,1071.20 526.24,1071.20 526.94,1071.20 527.63,1071.20 528.33,1071.20 529.02,1071.20 529.71,1071.20 530.41,1071.20 531.10,1071.20 531.79,1071.20 532.49,1071.20 533.18,1071.20 533.88,1071.20 534.57,1071.20 535.26,1071.20 535.96,1071.20 536.65,1071.20 537.34,1071.20 538.04,1071.20 538.73,1071.20 539.43,1071.20 540.12,1071.20 540.81,1071.20 541.51,1071.20 542.20,1071.20 542.89,1071.20 543.59,1071.20 544.28,1071.20 544.98,1071.20 545.67,1071.20 546.36,1071.20 547.06,1071.20 547.75,1071.20 548.45,1071.20 549.14,1071.20 549.83,1071.20 550.53,1071.20 551.22,1071.20 551.91,1071.20 552.61,1071.20 553.30,1071.20 554.00,1071.20 554.69,1071.20 555.38,1071.20 556.08,1071.20 556.77,1071.20 557.46,1071.20 558.16,1071.20 558.85,1071.20 559.55,1071.20 560.24,1071.20" fill="none" stroke="#ff00ff" stroke-width="4.6" stroke-linecap="round" stroke-linejoin="round"/>
<polyline points="143.96,1071.20 144.65,1071.20 145.35,1071.20 146.04,1071.20 146.74,1071.20 147.43,1071.20 148.12,1071.20 148.82,1071.20 149.51,1071.20 150.20,1071.20 150.90,1071.20 151.59,1071.20 152.29,1071.20 152.98,1071.20 153.67,1071.20 154.37,1071.20 155.06,1071.20 155.75,1071.20 156.45,1071.20 157.14,1071.20 157.84,1071.20 158.53,1071.20 159.22,1071.20 159.92,1071.20 160.61,1071.20 161.31,1071.20 162.00,1071.20 162.69,1071.20 163.39,1071.20 164.08,1071.20 164.77,1071.20 165.47,1071.20 166.16,1071.20 166.86,1071.20 167.55,1071.20 168.24,1071.20 168.94,1071.20 169.63,1071.20 170.32,1071.20 171.02,1071.20 171.71,1071.20 172.41,1071.20 173.10,1071.20 173.79,1071.20 174.49,1071.20 175.18,1071.20 175.87,1071.20 176.57,1071.20 177.26,1071.20 177.96,1071.20 178.65,1071.20 179.34,1071.20 180.04,1071.20 180.73,1071.20 181.43,1071.20 182.12,1071.20 182.81,1071.20 183.51,1071.20 184.20,1071.20 184.89,1071.20 185.59,1071.20 186.28,1071.20 186.98,1071.20 187.67,1071.20 188.36,1071.20 189.06,1071.20 189.75,1071.20 190.44,1071.20 191.14,1071.20 191.83,1071.20 192.53,1071.20 193.22,1071.20 193.91,1071.20 194.61,1071.20 195.30,1071.20 196.00,1071.20 196.69,1071.20 197.38,1071.20 198.08,1071.20 198.77,1071.20 199.46,1071.20 200.16,1071.20 200.85,1071.20 201.55,1071.20 202.24,1071.20 202.93,1071.20 203.63,1071.20 204.32,1071.20 205.01,1071.20 205.71,1071.20 206.40,1071.20 207.10,1071.20 207.79,1071.20 208.48,1071.20 209.18,1071.20 209.87,1071.20 210.56,1071.20 211.26,1071.20 211.95,1071.20 212.65,1071.19 213.34,1071.19 214.03,1071.19 214.73,1071.19 215.42,1071.19 216.12,1071.19 216.81,1071.19 217.50,1071.19 218.20,1071.19 218.89,1071.19 219.58,1071.19 220.28,1071.19 220.97,1071.19 221.67,1071.19 222.36,1071.19 223.05,1071.19 223.75,1071.19 224.44,1071.18 225.13,1071.18 225.83,1071.18 226.52,1071.18 227.22,1071.18 227.91,1071.18 228.60,1071.18 229.30,1071.18 229.99,1071.17 230.69,1071.17 231.38,1071.17 232.07,1071.17 232.77,1071.17 233.46,1071.16 234.15,1071.16 234.85,1071.16 235.54,1071.16 236.24,1071.15 236.93,1071.15 237.62,1071.15 238.32,1071.15 239.01,1071.14 239.70,1071.14 240.40,1071.13 241.09,1071.13 241.79,1071.12 242.48,1071.12 243.17,1071.11 243.87,1071.11 244.56,1071.10 245.25,1071.10 245.95,1071.09 246.64,1071.08 247.34,1071.08 248.03,1071.07 248.72,1071.06 249.42,1071.05 250.11,1071.04 250.81,1071.03 251.50,1071.02 252.19,1071.01 252.89,1070.99 253.58,1070.98 254.27,1070.97 254.97,1070.95 255.66,1070.93 256.36,1070.92 257.05,1070.90 257.74,1070.88 258.44,1070.86 259.13,1070.83 259.82,1070.81 260.52,1070.79 261.21,1070.76 261.91,1070.73 262.60,1070.70 263.29,1070.67 263.99,1070.63 264.68,1070.59 265.38,1070.56 266.07,1070.51 266.76,1070.47 267.46,1070.42 268.15,1070.37 268.84,1070.32 269.54,1070.26 270.23,1070.20 270.93,1070.13 271.62,1070.06 272.31,1069.99 273.01,1069.91 273.70,1069.83 274.39,1069.74 275.09,1069.64 275.78,1069.54 276.48,1069.44 277.17,1069.32 277.86,1069.20 278.56,1069.07 279.25,1068.93 279.94,1068.78 280.64,1068.63 281.33,1068.46 282.03,1068.29 282.72,1068.10 283.41,1067.90 284.11,1067.69 284.80,1067.46 285.50,1067.22 286.19,1066.96 286.88,1066.69 287.58,1066.40 288.27,1066.10 288.96,1065.77 289.66,1065.42 290.35,1065.05 291.05,1064.66 291.74,1064.25 292.43,1063.81 293.13,1063.34 293.82,1062.84 294.51,1062.32 295.21,1061.76 295.90,1061.16 296.60,1060.54 297.29,1059.87 297.98,1059.16 298.68,1058.42 299.37,1057.63 300.07,1056.79 300.76,1055.90 301.45,1054.97 302.15,1053.98 302.84,1052.93 303.53,1051.83 304.23,1050.67 304.92,1049.44 305.62,1048.14 306.31,1046.78 307.00,1045.35 307.70,1043.84 308.39,1042.25 309.08,1040.58 309.78,1038.83 310.47,1037.00 311.17,1035.08 311.86,1033.07 312.55,1030.96 313.25,1028.77 313.94,1026.48 314.63,1024.09 315.33,1021.60 316.02,1019.01 316.72,1016.33 317.41,1013.54 318.10,1010.66 318.80,1007.68 319.49,1004.59 320.19,1001.42 320.88,998.15 321.57,994.78 322.27,991.33 322.96,987.80 323.65,984.18 324.35,980.49 325.04,976.73 325.74,972.90 326.43,969.01 327.12,965.07 327.82,961.09 328.51,957.07 329.20,953.01 329.90,948.94 330.59,944.85 331.29,940.75 331.98,936.66 332.67,932.58 333.37,928.51 334.06,924.47 334.75,920.46 335.45,916.50 336.14,912.58 336.84,908.72 337.53,904.92 338.22,901.19 338.92,897.53 339.61,893.95 340.31,890.45 341.00,887.03 341.69,883.71 342.39,880.48 343.08,877.35 343.77,874.31 344.47,871.37 345.16,868.53 345.86,865.78 346.55,863.14 347.24,860.60 347.94,858.16 348.63,855.81 349.32,853.56 350.02,851.40 350.71,849.34 351.41,847.37 352.10,845.49 352.79,843.69 353.49,841.98 354.18,840.35 354.88,838.79 355.57,837.32 356.26,835.91 356.96,834.58 357.65,833.32 358.34,832.12 359.04,830.98 359.73,829.90 360.43,828.88 361.12,827.92 361.81,827.00 362.51,826.14 363.20,825.32 363.89,824.55 364.59,823.82 365.28,823.13 365.98,822.49 366.67,821.87 367.36,821.30 368.06,820.75 368.75,820.24 369.45,819.75 370.14,819.30 370.83,818.87 371.53,818.46 372.22,818.08 372.91,817.72 373.61,817.39 374.30,817.07 375.00,816.77 375.69,816.49 376.38,816.22 377.08,815.97 377.77,815.74 378.46,815.52 379.16,815.31 379.85,815.12 380.55,814.94 381.24,814.76 381.93,814.60 382.63,814.45 383.32,814.31 384.01,814.17 384.71,814.05 385.40,813.93 386.10,813.82 386.79,813.71 387.48,813.61 388.18,813.52 388.87,813.44 389.57,813.35 390.26,813.28 390.95,813.21 391.65,813.14 392.34,813.07 393.03,813.02 393.73,812.96 394.42,812.91 395.12,812.86 395.81,812.81 396.50,812.77 397.20,812.73 397.89,812.69 398.58,812.65 399.28,812.62 399.97,812.59 400.67,812.56 401.36,812.53 402.05,812.50 402.75,812.48 403.44,812.46 404.13,812.43 404.83,812.41 405.52,812.39 406.22,812.38 406.91,812.36 407.60,812.34 408.30,812.33 408.99,812.31 409.69,812.30 410.38,812.29 411.07,812.28 411.77,812.27 412.46,812.26 413.15,812.25 413.85,812.24 414.54,812.23 415.24,812.22 415.93,812.21 416.62,812.21 417.32,812.20 418.01,812.19 418.70,812.19 419.40,812.18 420.09,812.18 420.79,812.17 421.48,812.17 422.17,812.16 422.87,812.16 423.56,812.16 424.26,812.15 424.95,812.15 425.64,812.15 426.34,812.14 427.03,812.14 427.72,812.14 428.42,812.14 429.11,812.13 429.81,812.13 430.50,812.13 431.19,812.13 431.89,812.13 432.58,812.12 433.27,812.12 433.97,812.12 434.66,812.12 435.36,812.12 436.05,812.12 436.74,812.12 437.44,812.12 438.13,812.12 438.83,812.11 439.52,812.11 440.21,812.11 440.91,812.11 441.60,812.11 442.29,812.11 442.99,812.11 443.68,812.11 444.38,812.11 445.07,812.11 445.76,812.11 446.46,812.11 447.15,812.11 447.84,812.11 448.54,812.11 449.23,812.11 449.93,812.11 450.62,812.10 451.31,812.10 452.01,812.10 452.70,812.10 453.39,812.10 454.09,812.10 454.78,812.10 455.48,812.10 456.17,812.10 456.86,812.10 457.56,812.10 458.25,812.10 458.95,812.10 459.64,812.10 460.33,812.10 461.03,812.10 461.72,812.10 462.41,812.10 463.11,812.10 463.80,812.10 464.50,812.10 465.19,812.10 465.88,812.10 466.58,812.10 467.27,812.10 467.96,812.10 468.66,812.10 469.35,812.10 470.05,812.10 470.74,812.10 471.43,812.10 472.13,812.10 472.82,812.10 473.51,812.10 474.21,812.10 474.90,812.10 475.60,812.10 476.29,812.10 476.98,812.10 477.68,812.10 478.37,812.10 479.07,812.10 479.76,812.10 480.45,812.10 481.15,812.10 481.84,812.10 482.53,812.10 483.23,812.10 483.92,812.10 484.62,812.10 485.31,812.10 486.00,812.10 486.70,812.10 487.39,812.10 488.08,812.10 488.78,812.10 489.47,812.10 490.17,812.10 490.86,812.10 491.55,812.10 492.25,812.10 492.94,812.10 493.64,812.10 494.33,812.10 495.02,812.10 495.72,812.10 496.41,812.10 497.10,812.10 497.80,812.10 498.49,812.10 499.19,812.10 499.88,812.10 500.57,812.10 501.27,812.10 501.96,812.10 502.65,812.10 503.35,812.10 504.04,812.10 504.74,812.10 505.43,812.10 506.12,812.10 506.82,812.10 507.51,812.10 508.21,812.10 508.90,812.10 509.59,812.10 510.29,812.10 510.98,812.10 511.67,812.10 512.37,812.10 513.06,812.10 513.76,812.10 514.45,812.10 515.14,812.10 515.84,812.10 516.53,812.10 517.22,812.10 517.92,812.10 518.61,812.10 519.31,812.10 520.00,812.10 520.69,812.10 521.39,812.10 522.08,812.10 522.77,812.10 523.47,812.10 524.16,812.10 524.86,812.10 525.55,812.10 526.24,812.10 526.94,812.10 527.63,812.10 528.33,812.10 529.02,812.10 529.71,812.10 530.41,812.10 531.10,812.10 531.79,812.10 532.49,812.10 533.18,812.10 533.88,812.10 534.57,812.10 535.26,812.10 535.96,812.10 536.65,812.10 537.34,812.10 538.04,812.10 538.73,812.10 539.43,812.10 540.12,812.10 540.81,812.10 541.51,812.10 542.20,812.10 542.89,812.10 543.59,812.10 544.28,812.10 544.98,812.10 545.67,812.10 546.36,812.10 547.06,812.10 547.75,812.10 548.45,812.10 549.14,812.10 549.83,812.10 550.53,812.10 551.22,812.10 551.91,812.10 552.61,812.10 553.30,812.10 554.00,812.10 554.69,812.10 555.38,812.10 556.08,812.10 556.77,812.10 557.46,812.10 558.16,812.10 558.85,812.10 559.55,812.10 560.24,812.10" fill="none" stroke="#004800" stroke-width="4.6" stroke-linecap="round" stroke-linejoin="round"/>
<rect x="589.35" y="765.10" width="474.55" height="20.60" fill="#9fcae0"/>
<rect x="590.85" y="766.30" width="471.55" height="2.2" fill="#aadcf4"/>
<rect x="590.85" y="782.30" width="471.55" height="2.2" fill="#aadcf4"/>
<text x="826.62" y="782.40" font-family="'Liberation Sans', Arial, Helvetica, sans-serif" font-size="17" text-anchor="middle" fill="#111" stroke="#000" stroke-width="0.45">I2</text>
<polyline points="618.51,1071.20 619.20,1071.20 619.90,1071.20 620.59,1071.20 621.29,1071.20 621.98,1071.20 622.67,1071.20 623.37,1071.20 624.06,1071.20 624.75,1071.20 625.45,1071.20 626.14,1071.20 626.84,1071.20 627.53,1071.20 628.22,1071.20 628.92,1071.20 629.61,1071.20 630.30,1071.20 631.00,1071.20 631.69,1071.20 632.39,1071.20 633.08,1071.20 633.77,1071.20 634.47,1071.20 635.16,1071.20 635.86,1071.20 636.55,1071.20 637.24,1071.20 637.94,1071.20 638.63,1071.20 639.32,1071.20 640.02,1071.20 640.71,1071.20 641.41,1071.20 642.10,1071.20 642.79,1071.20 643.49,1071.20 644.18,1071.20 644.87,1071.20 645.57,1071.20 646.26,1071.20 646.96,1071.20 647.65,1071.20 648.34,1071.20 649.04,1071.20 649.73,1071.20 650.42,1071.20 651.12,1071.20 651.81,1071.20 652.51,1071.20 653.20,1071.20 653.89,1071.20 654.59,1071.20 655.28,1071.20 655.98,1071.20 656.67,1071.20 657.36,1071.20 658.06,1071.20 658.75,1071.20 659.44,1071.20 660.14,1071.20 660.83,1071.20 661.53,1071.20 662.22,1071.20 662.91,1071.20 663.61,1071.20 664.30,1071.20 664.99,1071.20 665.69,1071.20 666.38,1071.20 667.08,1071.20 667.77,1071.20 668.46,1071.20 669.16,1071.20 669.85,1071.20 670.55,1071.20 671.24,1071.20 671.93,1071.20 672.63,1071.20 673.32,1071.20 674.01,1071.20 674.71,1071.20 675.40,1071.20 676.10,1071.20 676.79,1071.20 677.48,1071.20 678.18,1071.20 678.87,1071.20 679.56,1071.20 680.26,1071.20 680.95,1071.20 681.65,1071.20 682.34,1071.20 683.03,1071.20 683.73,1071.20 684.42,1071.20 685.11,1071.20 685.81,1071.20 686.50,1071.20 687.20,1071.20 687.89,1071.20 688.58,1071.20 689.28,1071.20 689.97,1071.20 690.67,1071.20 691.36,1071.20 692.05,1071.20 692.75,1071.20 693.44,1071.20 694.13,1071.20 694.83,1071.20 695.52,1071.20 696.22,1071.20 696.91,1071.20 697.60,1071.20 698.30,1071.20 698.99,1071.20 699.68,1071.20 700.38,1071.20 701.07,1071.20 701.77,1071.20 702.46,1071.20 703.15,1071.20 703.85,1071.20 704.54,1071.20 705.24,1071.20 705.93,1071.20 706.62,1071.20 707.32,1071.20 708.01,1071.20 708.70,1071.20 709.40,1071.20 710.09,1071.20 710.79,1071.20 711.48,1071.20 712.17,1071.20 712.87,1071.20 713.56,1071.20 714.25,1071.20 714.95,1071.20 715.64,1071.20 716.34,1071.20 717.03,1071.20 717.72,1071.20 718.42,1071.20 719.11,1071.20 719.80,1071.20 720.50,1071.20 721.19,1071.20 721.89,1071.20 722.58,1071.20 723.27,1071.20 723.97,1071.20 724.66,1071.20 725.36,1071.20 726.05,1071.20 726.74,1071.20 727.44,1071.20 728.13,1071.20 728.82,1071.20 729.52,1071.20 730.21,1071.20 730.91,1071.20 731.60,1071.20 732.29,1071.20 732.99,1071.20 733.68,1071.20 734.37,1071.20 735.07,1071.20 735.76,1071.20 736.46,1071.20 737.15,1071.20 737.84,1071.20 738.54,1071.20 739.23,1071.20 739.93,1071.20 740.62,1071.20 741.31,1071.20 742.01,1071.20 742.70,1071.20 743.39,1071.20 744.09,1071.20 744.78,1071.20 745.48,1071.20 746.17,1071.20 746.86,1071.20 747.56,1071.20 748.25,1071.20 748.94,1071.20 749.64,1071.20 750.33,1071.20 751.03,1071.20 751.72,1071.20 752.41,1071.20 753.11,1071.20 753.80,1071.20 754.49,1071.20 755.19,1071.20 755.88,1071.20 756.58,1071.20 757.27,1071.20 757.96,1071.20 758.66,1071.20 759.35,1071.20 760.05,1071.20 760.74,1071.20 761.43,1071.20 762.13,1071.20 762.82,1071.20 763.51,1071.20 764.21,1071.20 764.90,1071.20 765.60,1071.20 766.29,1071.20 766.98,1071.20 767.68,1071.19 768.37,1071.19 769.06,1071.19 769.76,1071.19 770.45,1071.19 771.15,1071.19 771.84,1071.19 772.53,1071.19 773.23,1071.19 773.92,1071.19 774.62,1071.18 775.31,1071.18 776.00,1071.18 776.70,1071.18 777.39,1071.17 778.08,1071.17 778.78,1071.17 779.47,1071.16 780.17,1071.16 780.86,1071.15 781.55,1071.15 782.25,1071.14 782.94,1071.13 783.63,1071.12 784.33,1071.11 785.02,1071.10 785.72,1071.09 786.41,1071.08 787.10,1071.06 787.80,1071.04 788.49,1071.02 789.18,1071.00 789.88,1070.98 790.57,1070.95 791.27,1070.92 791.96,1070.89 792.65,1070.85 793.35,1070.80 794.04,1070.75 794.74,1070.70 795.43,1070.64 796.12,1070.57 796.82,1070.49 797.51,1070.40 798.20,1070.30 798.90,1070.19 799.59,1070.07 800.29,1069.93 800.98,1069.77 801.67,1069.59 802.37,1069.39 803.06,1069.17 803.75,1068.92 804.45,1068.64 805.14,1068.33 805.84,1067.97 806.53,1067.58 807.22,1067.14 807.92,1066.64 808.61,1066.08 809.31,1065.46 810.00,1064.77 810.69,1063.99 811.39,1063.13 812.08,1062.16 812.77,1061.08 813.47,1059.88 814.16,1058.54 814.86,1057.05 815.55,1055.40 816.24,1053.58 816.94,1051.55 817.63,1049.32 818.32,1046.86 819.02,1044.15 819.71,1041.18 820.41,1037.93 821.10,1034.39 821.79,1030.53 822.49,1026.36 823.18,1021.85 823.87,1017.00 824.57,1011.82 825.26,1006.29 825.96,1000.43 826.65,994.25 827.34,987.77 828.04,981.02 828.73,974.02 829.43,966.82 830.12,959.44 830.81,951.95 831.51,944.39 832.20,936.81 832.89,929.27 833.59,921.81 834.28,914.48 834.98,907.32 835.67,900.39 836.36,893.71 837.06,887.31 837.75,881.22 838.44,875.45 839.14,870.02 839.83,864.92 840.53,860.17 841.22,855.76 841.91,851.67 842.61,847.90 843.30,844.44 844.00,841.27 844.69,838.38 845.38,835.74 846.08,833.34 846.77,831.17 847.46,829.20 848.16,827.42 848.85,825.82 849.55,824.38 850.24,823.08 850.93,821.91 851.63,820.86 852.32,819.93 853.01,819.08 853.71,818.33 854.40,817.66 855.10,817.06 855.79,816.52 856.48,816.04 857.18,815.61 857.87,815.23 858.56,814.88 859.26,814.58 859.95,814.31 860.65,814.07 861.34,813.85 862.03,813.66 862.73,813.49 863.42,813.33 864.12,813.20 864.81,813.08 865.50,812.97 866.20,812.87 866.89,812.79 867.58,812.71 868.28,812.65 868.97,812.59 869.67,812.53 870.36,812.48 871.05,812.44 871.75,812.40 872.44,812.37 873.13,812.34 873.83,812.31 874.52,812.29 875.22,812.27 875.91,812.25 876.60,812.23 877.30,812.22 877.99,812.21 878.69,812.19 879.38,812.18 880.07,812.17 880.77,812.17 881.46,812.16 882.15,812.15 882.85,812.15 883.54,812.14 884.24,812.14 884.93,812.13 885.62,812.13 886.32,812.13 887.01,812.12 887.70,812.12 888.40,812.12 889.09,812.12 889.79,812.11 890.48,812.11 891.17,812.11 891.87,812.11 892.56,812.11 893.25,812.11 893.95,812.11 894.64,812.11 895.34,812.11 896.03,812.11 896.72,812.10 897.42,812.10 898.11,812.10 898.81,812.10 899.50,812.10 900.19,812.10 900.89,812.10 901.58,812.10 902.27,812.10 902.97,812.10 903.66,812.10 904.36,812.10 905.05,812.10 905.74,812.10 906.44,812.10 907.13,812.10 907.82,812.10 908.52,812.10 909.21,812.10 909.91,812.10 910.60,812.10 911.29,812.10 911.99,812.10 912.68,812.10 913.38,812.10 914.07,812.10 914.76,812.10 915.46,812.10 916.15,812.10 916.84,812.10 917.54,812.10 918.23,812.10 918.93,812.10 919.62,812.10 920.31,812.10 921.01,812.10 921.70,812.10 922.39,812.10 923.09,812.10 923.78,812.10 924.48,812.10 925.17,812.10 925.86,812.10 926.56,812.10 927.25,812.10 927.94,812.10 928.64,812.10 929.33,812.10 930.03,812.10 930.72,812.10 931.41,812.10 932.11,812.10 932.80,812.10 933.50,812.10 934.19,812.10 934.88,812.10 935.58,812.10 936.27,812.10 936.96,812.10 937.66,812.10 938.35,812.10 939.05,812.10 939.74,812.10 940.43,812.10 941.13,812.10 941.82,812.10 942.51,812.10 943.21,812.10 943.90,812.10 944.60,812.10 945.29,812.10 945.98,812.10 946.68,812.10 947.37,812.10 948.07,812.10 948.76,812.10 949.45,812.10 950.15,812.10 950.84,812.10 951.53,812.10 952.23,812.10 952.92,812.10 953.62,812.10 954.31,812.10 955.00,812.10 955.70,812.10 956.39,812.10 957.08,812.10 957.78,812.10 958.47,812.10 959.17,812.10 959.86,812.10 960.55,812.10 961.25,812.10 961.94,812.10 962.63,812.10 963.33,812.10 964.02,812.10 964.72,812.10 965.41,812.10 966.10,812.10 966.80,812.10 967.49,812.10 968.19,812.10 968.88,812.10 969.57,812.10 970.27,812.10 970.96,812.10 971.65,812.10 972.35,812.10 973.04,812.10 973.74,812.10 974.43,812.10 975.12,812.10 975.82,812.10 976.51,812.10 977.20,812.10 977.90,812.10 978.59,812.10 979.29,812.10 979.98,812.10 980.67,812.10 981.37,812.10 982.06,812.10 982.76,812.10 983.45,812.10 984.14,812.10 984.84,812.10 985.53,812.10 986.22,812.10 986.92,812.10 987.61,812.10 988.31,812.10 989.00,812.10 989.69,812.10 990.39,812.10 991.08,812.10 991.77,812.10 992.47,812.10 993.16,812.10 993.86,812.10 994.55,812.10 995.24,812.10 995.94,812.10 996.63,812.10 997.32,812.10 998.02,812.10 998.71,812.10 999.41,812.10 1000.10,812.10 1000.79,812.10 1001.49,812.10 1002.18,812.10 1002.88,812.10 1003.57,812.10 1004.26,812.10 1004.96,812.10 1005.65,812.10 1006.34,812.10 1007.04,812.10 1007.73,812.10 1008.43,812.10 1009.12,812.10 1009.81,812.10 1010.51,812.10 1011.20,812.10 1011.89,812.10 1012.59,812.10 1013.28,812.10 1013.98,812.10 1014.67,812.10 1015.36,812.10 1016.06,812.10 1016.75,812.10 1017.45,812.10 1018.14,812.10 1018.83,812.10 1019.53,812.10 1020.22,812.10 1020.91,812.10 1021.61,812.10 1022.30,812.10 1023.00,812.10 1023.69,812.10 1024.38,812.10 1025.08,812.10 1025.77,812.10 1026.46,812.10 1027.16,812.10 1027.85,812.10 1028.55,812.10 1029.24,812.10 1029.93,812.10 1030.63,812.10 1031.32,812.10 1032.01,812.10 1032.71,812.10 1033.40,812.10 1034.10,812.10 1034.79,812.10" fill="none" stroke="#0066ff" stroke-width="4.6" stroke-linecap="round" stroke-linejoin="round"/>
<rect x="1063.90" y="765.10" width="474.55" height="20.60" fill="#9fcae0"/>
<rect x="1065.40" y="766.30" width="471.55" height="2.2" fill="#aadcf4"/>
<rect x="1065.40" y="782.30" width="471.55" height="2.2" fill="#aadcf4"/>
<text x="1301.18" y="782.40" font-family="'Liberation Sans', Arial, Helvetica, sans-serif" font-size="17" text-anchor="middle" fill="#111" stroke="#000" stroke-width="0.45">I3</text>
<polyline points="1093.06,1071.20 1093.75,1071.20 1094.45,1071.20 1095.14,1071.20 1095.84,1071.20 1096.53,1071.20 1097.22,1071.20 1097.92,1071.20 1098.61,1071.20 1099.30,1071.20 1100.00,1071.20 1100.69,1071.20 1101.39,1071.20 1102.08,1071.20 1102.77,1071.20 1103.47,1071.20 1104.16,1071.20 1104.85,1071.20 1105.55,1071.20 1106.24,1071.20 1106.94,1071.20 1107.63,1071.20 1108.32,1071.20 1109.02,1071.20 1109.71,1071.20 1110.40,1071.20 1111.10,1071.20 1111.79,1071.20 1112.49,1071.20 1113.18,1071.20 1113.87,1071.20 1114.57,1071.20 1115.26,1071.20 1115.96,1071.20 1116.65,1071.20 1117.34,1071.20 1118.04,1071.20 1118.73,1071.20 1119.42,1071.20 1120.12,1071.20 1120.81,1071.20 1121.51,1071.20 1122.20,1071.20 1122.89,1071.20 1123.59,1071.20 1124.28,1071.20 1124.97,1071.20 1125.67,1071.20 1126.36,1071.20 1127.06,1071.20 1127.75,1071.20 1128.44,1071.20 1129.14,1071.20 1129.83,1071.20 1130.53,1071.20 1131.22,1071.20 1131.91,1071.20 1132.61,1071.20 1133.30,1071.20 1133.99,1071.20 1134.69,1071.20 1135.38,1071.20 1136.08,1071.20 1136.77,1071.20 1137.46,1071.20 1138.16,1071.20 1138.85,1071.20 1139.54,1071.20 1140.24,1071.20 1140.93,1071.20 1141.63,1071.20 1142.32,1071.20 1143.01,1071.20 1143.71,1071.20 1144.40,1071.20 1145.10,1071.20 1145.79,1071.20 1146.48,1071.20 1147.18,1071.20 1147.87,1071.20 1148.56,1071.20 1149.26,1071.20 1149.95,1071.20 1150.65,1071.20 1151.34,1071.20 1152.03,1071.20 1152.73,1071.20 1153.42,1071.20 1154.11,1071.20 1154.81,1071.20 1155.50,1071.20 1156.20,1071.20 1156.89,1071.20 1157.58,1071.20 1158.28,1071.20 1158.97,1071.20 1159.66,1071.20 1160.36,1071.20 1161.05,1071.20 1161.75,1071.20 1162.44,1071.20 1163.13,1071.20 1163.83,1071.20 1164.52,1071.20 1165.22,1071.20 1165.91,1071.20 1166.60,1071.20 1167.30,1071.20 1167.99,1071.20 1168.68,1071.20 1169.38,1071.20 1170.07,1071.20 1170.77,1071.20 1171.46,1071.20 1172.15,1071.20 1172.85,1071.20 1173.54,1071.20 1174.23,1071.20 1174.93,1071.20 1175.62,1071.20 1176.32,1071.20 1177.01,1071.20 1177.70,1071.20 1178.40,1071.20 1179.09,1071.20 1179.79,1071.20 1180.48,1071.20 1181.17,1071.20 1181.87,1071.20 1182.56,1071.20 1183.25,1071.20 1183.95,1071.20 1184.64,1071.20 1185.34,1071.20 1186.03,1071.20 1186.72,1071.20 1187.42,1071.20 1188.11,1071.20 1188.80,1071.20 1189.50,1071.20 1190.19,1071.20 1190.89,1071.20 1191.58,1071.20 1192.27,1071.20 1192.97,1071.20 1193.66,1071.20 1194.35,1071.20 1195.05,1071.20 1195.74,1071.20 1196.44,1071.20 1197.13,1071.20 1197.82,1071.20 1198.52,1071.20 1199.21,1071.20 1199.91,1071.20 1200.60,1071.20 1201.29,1071.20 1201.99,1071.20 1202.68,1071.20 1203.37,1071.20 1204.07,1071.20 1204.76,1071.20 1205.46,1071.20 1206.15,1071.20 1206.84,1071.20 1207.54,1071.20 1208.23,1071.20 1208.92,1071.20 1209.62,1071.20 1210.31,1071.20 1211.01,1071.20 1211.70,1071.20 1212.39,1071.20 1213.09,1071.20 1213.78,1071.20 1214.48,1071.20 1215.17,1071.20 1215.86,1071.20 1216.56,1071.20 1217.25,1071.20 1217.94,1071.20 1218.64,1071.20 1219.33,1071.20 1220.03,1071.20 1220.72,1071.20 1221.41,1071.20 1222.11,1071.20 1222.80,1071.20 1223.49,1071.20 1224.19,1071.20 1224.88,1071.20 1225.58,1071.20 1226.27,1071.20 1226.96,1071.19 1227.66,1071.19 1228.35,1071.19 1229.04,1071.19 1229.74,1071.19 1230.43,1071.19 1231.13,1071.19 1231.82,1071.19 1232.51,1071.19 1233.21,1071.19 1233.90,1071.18 1234.60,1071.18 1235.29,1071.18 1235.98,1071.18 1236.68,1071.18 1237.37,1071.17 1238.06,1071.17 1238.76,1071.17 1239.45,1071.16 1240.15,1071.16 1240.84,1071.15 1241.53,1071.15 1242.23,1071.14 1242.92,1071.13 1243.61,1071.13 1244.31,1071.12 1245.00,1071.11 1245.70,1071.10 1246.39,1071.09 1247.08,1071.07 1247.78,1071.06 1248.47,1071.04 1249.16,1071.02 1249.86,1071.00 1250.55,1070.98 1251.25,1070.96 1251.94,1070.93 1252.63,1070.90 1253.33,1070.86 1254.02,1070.82 1254.72,1070.78 1255.41,1070.73 1256.10,1070.67 1256.80,1070.61 1257.49,1070.54 1258.18,1070.47 1258.88,1070.38 1259.57,1070.29 1260.27,1070.18 1260.96,1070.06 1261.65,1069.93 1262.35,1069.79 1263.04,1069.62 1263.73,1069.44 1264.43,1069.24 1265.12,1069.01 1265.82,1068.76 1266.51,1068.48 1267.20,1068.17 1267.90,1067.82 1268.59,1067.43 1269.29,1067.00 1269.98,1066.52 1270.67,1065.99 1271.37,1065.40 1272.06,1064.74 1272.75,1064.01 1273.45,1063.20 1274.14,1062.31 1274.84,1061.31 1275.53,1060.21 1276.22,1058.99 1276.92,1057.65 1277.61,1056.17 1278.30,1054.53 1279.00,1052.73 1279.69,1050.76 1280.39,1048.59 1281.08,1046.22 1281.77,1043.62 1282.47,1040.79 1283.16,1037.72 1283.86,1034.38 1284.55,1030.77 1285.24,1026.88 1285.94,1022.69 1286.63,1018.21 1287.32,1013.42 1288.02,1008.34 1288.71,1002.96 1289.41,997.29 1290.10,991.35 1290.79,985.15 1291.49,978.72 1292.18,972.09 1292.87,965.28 1293.57,958.34 1294.26,951.29 1294.96,944.19 1295.65,937.07 1296.34,929.98 1297.04,922.96 1297.73,916.05 1298.42,909.29 1299.12,902.71 1299.81,896.34 1300.51,890.22 1301.20,884.35 1301.89,878.77 1302.59,873.47 1303.28,868.47 1303.98,863.78 1304.67,859.38 1305.36,855.28 1306.06,851.46 1306.75,847.93 1307.44,844.67 1308.14,841.67 1308.83,838.91 1309.53,836.38 1310.22,834.07 1310.91,831.96 1311.61,830.03 1312.30,828.28 1312.99,826.69 1313.69,825.25 1314.38,823.94 1315.08,822.76 1315.77,821.69 1316.46,820.73 1317.16,819.86 1317.85,819.07 1318.55,818.36 1319.24,817.72 1319.93,817.15 1320.63,816.63 1321.32,816.17 1322.01,815.75 1322.71,815.38 1323.40,815.04 1324.10,814.74 1324.79,814.46 1325.48,814.22 1326.18,814.00 1326.87,813.80 1327.56,813.63 1328.26,813.47 1328.95,813.33 1329.65,813.20 1330.34,813.09 1331.03,812.98 1331.73,812.89 1332.42,812.81 1333.11,812.74 1333.81,812.67 1334.50,812.61 1335.20,812.56 1335.89,812.51 1336.58,812.47 1337.28,812.43 1337.97,812.40 1338.67,812.36 1339.36,812.34 1340.05,812.31 1340.75,812.29 1341.44,812.27 1342.13,812.25 1342.83,812.24 1343.52,812.22 1344.22,812.21 1344.91,812.20 1345.60,812.19 1346.30,812.18 1346.99,812.17 1347.68,812.16 1348.38,812.16 1349.07,812.15 1349.77,812.15 1350.46,812.14 1351.15,812.14 1351.85,812.13 1352.54,812.13 1353.24,812.13 1353.93,812.12 1354.62,812.12 1355.32,812.12 1356.01,812.12 1356.70,812.12 1357.40,812.11 1358.09,812.11 1358.79,812.11 1359.48,812.11 1360.17,812.11 1360.87,812.11 1361.56,812.11 1362.25,812.11 1362.95,812.11 1363.64,812.11 1364.34,812.10 1365.03,812.10 1365.72,812.10 1366.42,812.10 1367.11,812.10 1367.80,812.10 1368.50,812.10 1369.19,812.10 1369.89,812.10 1370.58,812.10 1371.27,812.10 1371.97,812.10 1372.66,812.10 1373.36,812.10 1374.05,812.10 1374.74,812.10 1375.44,812.10 1376.13,812.10 1376.82,812.10 1377.52,812.10 1378.21,812.10 1378.91,812.10 1379.60,812.10 1380.29,812.10 1380.99,812.10 1381.68,812.10 1382.37,812.10 1383.07,812.10 1383.76,812.10 1384.46,812.10 1385.15,812.10 1385.84,812.10 1386.54,812.10 1387.23,812.10 1387.92,812.10 1388.62,812.10 1389.31,812.10 1390.01,812.10 1390.70,812.10 1391.39,812.10 1392.09,812.10 1392.78,812.10 1393.48,812.10 1394.17,812.10 1394.86,812.10 1395.56,812.10 1396.25,812.10 1396.94,812.10 1397.64,812.10 1398.33,812.10 1399.03,812.10 1399.72,812.10 1400.41,812.10 1401.11,812.10 1401.80,812.10 1402.49,812.10 1403.19,812.10 1403.88,812.10 1404.58,812.10 1405.27,812.10 1405.96,812.10 1406.66,812.10 1407.35,812.10 1408.05,812.10 1408.74,812.10 1409.43,812.10 1410.13,812.10 1410.82,812.10 1411.51,812.10 1412.21,812.10 1412.90,812.10 1413.60,812.10 1414.29,812.10 1414.98,812.10 1415.68,812.10 1416.37,812.10 1417.06,812.10 1417.76,812.10 1418.45,812.10 1419.15,812.10 1419.84,812.10 1420.53,812.10 1421.23,812.10 1421.92,812.10 1422.62,812.10 1423.31,812.10 1424.00,812.10 1424.70,812.10 1425.39,812.10 1426.08,812.10 1426.78,812.10 1427.47,812.10 1428.17,812.10 1428.86,812.10 1429.55,812.10 1430.25,812.10 1430.94,812.10 1431.63,812.10 1432.33,812.10 1433.02,812.10 1433.72,812.10 1434.41,812.10 1435.10,812.10 1435.80,812.10 1436.49,812.10 1437.18,812.10 1437.88,812.10 1438.57,812.10 1439.27,812.10 1439.96,812.10 1440.65,812.10 1441.35,812.10 1442.04,812.10 1442.74,812.10 1443.43,812.10 1444.12,812.10 1444.82,812.10 1445.51,812.10 1446.20,812.10 1446.90,812.10 1447.59,812.10 1448.29,812.10 1448.98,812.10 1449.67,812.10 1450.37,812.10 1451.06,812.10 1451.75,812.10 1452.45,812.10 1453.14,812.10 1453.84,812.10 1454.53,812.10 1455.22,812.10 1455.92,812.10 1456.61,812.10 1457.31,812.10 1458.00,812.10 1458.69,812.10 1459.39,812.10 1460.08,812.10 1460.77,812.10 1461.47,812.10 1462.16,812.10 1462.86,812.10 1463.55,812.10 1464.24,812.10 1464.94,812.10 1465.63,812.10 1466.32,812.10 1467.02,812.10 1467.71,812.10 1468.41,812.10 1469.10,812.10 1469.79,812.10 1470.49,812.10 1471.18,812.10 1471.87,812.10 1472.57,812.10 1473.26,812.10 1473.96,812.10 1474.65,812.10 1475.34,812.10 1476.04,812.10 1476.73,812.10 1477.43,812.10 1478.12,812.10 1478.81,812.10 1479.51,812.10 1480.20,812.10 1480.89,812.10 1481.59,812.10 1482.28,812.10 1482.98,812.10 1483.67,812.10 1484.36,812.10 1485.06,812.10 1485.75,812.10 1486.44,812.10 1487.14,812.10 1487.83,812.10 1488.53,812.10 1489.22,812.10 1489.91,812.10 1490.61,812.10 1491.30,812.10 1492.00,812.10 1492.69,812.10 1493.38,812.10 1494.08,812.10 1494.77,812.10 1495.46,812.10 1496.16,812.10 1496.85,812.10 1497.55,812.10 1498.24,812.10 1498.93,812.10 1499.63,812.10 1500.32,812.10 1501.01,812.10 1501.71,812.10 1502.40,812.10 1503.10,812.10 1503.79,812.10 1504.48,812.10 1505.18,812.10 1505.87,812.10 1506.56,812.10 1507.26,812.10 1507.95,812.10 1508.65,812.10 1509.34,812.10" fill="none" stroke="#0066ff" stroke-width="4.6" stroke-linecap="round" stroke-linejoin="round"/>
<rect x="114.80" y="101.70" width="474.55" height="331.70" fill="none" stroke="#262626" stroke-width="2"/>
<line x1="114.80" y1="122.30" x2="589.35" y2="122.30" stroke="#25343b" stroke-width="2"/>
<rect x="589.35" y="101.70" width="474.55" height="331.70" fill="none" stroke="#262626" stroke-width="2"/>
<line x1="589.35" y1="122.30" x2="1063.90" y2="122.30" stroke="#25343b" stroke-width="2"/>
<rect x="1063.90" y="101.70" width="474.55" height="331.70" fill="none" stroke="#262626" stroke-width="2"/>
<line x1="1063.90" y1="122.30" x2="1538.45" y2="122.30" stroke="#25343b" stroke-width="2"/>
<rect x="114.80" y="433.40" width="474.55" height="331.70" fill="none" stroke="#262626" stroke-width="2"/>
<line x1="114.80" y1="454.00" x2="589.35" y2="454.00" stroke="#25343b" stroke-width="2"/>
<rect x="589.35" y="433.40" width="474.55" height="331.70" fill="none" stroke="#262626" stroke-width="2"/>
<line x1="589.35" y1="454.00" x2="1063.90" y2="454.00" stroke="#25343b" stroke-width="2"/>
<rect x="1063.90" y="433.40" width="474.55" height="331.70" fill="none" stroke="#262626" stroke-width="2"/>
<line x1="1063.90" y1="454.00" x2="1538.45" y2="454.00" stroke="#25343b" stroke-width="2"/>
<rect x="114.80" y="765.10" width="474.55" height="331.70" fill="none" stroke="#262626" stroke-width="2"/>
<line x1="114.80" y1="785.70" x2="589.35" y2="785.70" stroke="#25343b" stroke-width="2"/>
<rect x="589.35" y="765.10" width="474.55" height="331.70" fill="none" stroke="#262626" stroke-width="2"/>
<line x1="589.35" y1="785.70" x2="1063.90" y2="785.70" stroke="#25343b" stroke-width="2"/>
<rect x="1063.90" y="765.10" width="474.55" height="331.70" fill="none" stroke="#262626" stroke-width="2"/>
<line x1="1063.90" y1="785.70" x2="1538.45" y2="785.70" stroke="#25343b" stroke-width="2"/>
<path d="M143.96 90.20V101.70M143.96 1096.80V1108.80M213.34 90.20V101.70M213.34 1096.80V1108.80M282.72 90.20V101.70M282.72 1096.80V1108.80M352.10 90.20V101.70M352.10 1096.80V1108.80M421.48 90.20V101.70M421.48 1096.80V1108.80M490.86 90.20V101.70M490.86 1096.80V1108.80M560.24 90.20V101.70M560.24 1096.80V1108.80M618.51 90.20V101.70M618.51 1096.80V1108.80M687.89 90.20V101.70M687.89 1096.80V1108.80M757.27 90.20V101.70M757.27 1096.80V1108.80M826.65 90.20V101.70M826.65 1096.80V1108.80M896.03 90.20V101.70M896.03 1096.80V1108.80M965.41 90.20V101.70M965.41 1096.80V1108.80M1034.79 90.20V101.70M1034.79 1096.80V1108.80M1093.06 90.20V101.70M1093.06 1096.80V1108.80M1162.44 90.20V101.70M1162.44 1096.80V1108.80M1231.82 90.20V101.70M1231.82 1096.80V1108.80M1301.20 90.20V101.70M1301.20 1096.80V1108.80M1370.58 90.20V101.70M1370.58 1096.80V1108.80M1439.96 90.20V101.70M1439.96 1096.80V1108.80M1509.34 90.20V101.70M1509.34 1096.80V1108.80M102.30 407.80H114.80M1538.45 407.80H1550.95M102.30 355.98H114.80M1538.45 355.98H1550.95M102.30 304.16H114.80M1538.45 304.16H1550.95M102.30 252.34H114.80M1538.45 252.34H1550.95M102.30 200.52H114.80M1538.45 200.52H1550.95M102.30 148.70H114.80M1538.45 148.70H1550.95M102.30 739.50H114.80M1538.45 739.50H1550.95M102.30 687.68H114.80M1538.45 687.68H1550.95M102.30 635.86H114.80M1538.45 635.86H1550.95M102.30 584.04H114.80M1538.45 584.04H1550.95M102.30 532.22H114.80M1538.45 532.22H1550.95M102.30 480.40H114.80M1538.45 480.40H1550.95M102.30 1071.20H114.80M1538.45 1071.20H1550.95M102.30 1019.38H114.80M1538.45 1019.38H1550.95M102.30 967.56H114.80M1538.45 967.56H1550.95M102.30 915.74H114.80M1538.45 915.74H1550.95M102.30 863.92H114.80M1538.45 863.92H1550.95M102.30 812.10H114.80M1538.45 812.10H1550.95" stroke="#262626" stroke-width="2" fill="none"/>
<text x="618.51" y="79" font-family="'Liberation Sans', Arial, Helvetica, sans-serif" font-size="21" text-anchor="middle" stroke="#000" stroke-width="0.45">−6</text>
<text x="687.89" y="79" font-family="'Liberation Sans', Arial, Helvetica, sans-serif" font-size="21" text-anchor="middle" stroke="#000" stroke-width="0.45">−4</text>
<text x="757.27" y="79" font-family="'Liberation Sans', Arial, Helvetica, sans-serif" font-size="21" text-anchor="middle" stroke="#000" stroke-width="0.45">−2</text>
<text x="826.65" y="79" font-family="'Liberation Sans', Arial, Helvetica, sans-serif" font-size="21" text-anchor="middle" stroke="#000" stroke-width="0.45">0</text>
<text x="896.03" y="79" font-family="'Liberation Sans', Arial, Helvetica, sans-serif" font-size="21" text-anchor="middle" stroke="#000" stroke-width="0.45">2</text>
<text x="965.41" y="79" font-family="'Liberation Sans', Arial, Helvetica, sans-serif" font-size="21" text-anchor="middle" stroke="#000" stroke-width="0.45">4</text>
<text x="1034.79" y="79" font-family="'Liberation Sans', Arial, Helvetica, sans-serif" font-size="21" text-anchor="middle" stroke="#000" stroke-width="0.45">6</text>
<text x="143.96" y="1135.4" font-family="'Liberation Sans', Arial, Helvetica, sans-serif" font-size="21" text-anchor="middle" stroke="#000" stroke-width="0.45">−6</text>
<text x="213.34" y="1135.4" font-family="'Liberation Sans', Arial, Helvetica, sans-serif" font-size="21" text-anchor="middle" stroke="#000" stroke-width="0.45">−4</text>
<text x="282.72" y="1135.4" font-family="'Liberation Sans', Arial, Helvetica, sans-serif" font-size="21" text-anchor="middle" stroke="#000" stroke-width="0.45">−2</text>
<text x="352.10" y="1135.4" font-family="'Liberation Sans', Arial, Helvetica, sans-serif" font-size="21" text-anchor="middle" stroke="#000" stroke-width="0.45">0</text>
<text x="421.48" y="1135.4" font-family="'Liberation Sans', Arial, Helvetica, sans-serif" font-size="21" text-anchor="middle" stroke="#000" stroke-width="0.45">2</text>
<text x="490.86" y="1135.4" font-family="'Liberation Sans', Arial, Helvetica, sans-serif" font-size="21" text-anchor="middle" stroke="#000" stroke-width="0.45">4</text>
<text x="560.24" y="1135.4" font-family="'Liberation Sans', Arial, Helvetica, sans-serif" font-size="21" text-anchor="middle" stroke="#000" stroke-width="0.45">6</text>
<text x="1093.06" y="1135.4" font-family="'Liberation Sans', Arial, Helvetica, sans-serif" font-size="21" text-anchor="middle" stroke="#000" stroke-width="0.45">−6</text>
<text x="1162.44" y="1135.4" font-family="'Liberation Sans', Arial, Helvetica, sans-serif" font-size="21" text-anchor="middle" stroke="#000" stroke-width="0.45">−4</text>
<text x="1231.82" y="1135.4" font-family="'Liberation Sans', Arial, Helvetica, sans-serif" font-size="21" text-anchor="middle" stroke="#000" stroke-width="0.45">−2</text>
<text x="1301.20" y="1135.4" font-family="'Liberation Sans', Arial, Helvetica, sans-serif" font-size="21" text-anchor="middle" stroke="#000" stroke-width="0.45">0</text>
<text x="1370.58" y="1135.4" font-family="'Liberation Sans', Arial, Helvetica, sans-serif" font-size="21" text-anchor="middle" stroke="#000" stroke-width="0.45">2</text>
<text x="1439.96" y="1135.4" font-family="'Liberation Sans', Arial, Helvetica, sans-serif" font-size="21" text-anchor="middle" stroke="#000" stroke-width="0.45">4</text>
<text x="1509.34" y="1135.4" font-family="'Liberation Sans', Arial, Helvetica, sans-serif" font-size="21" text-anchor="middle" stroke="#000" stroke-width="0.45">6</text>
<text x="89.3" y="415.40" font-family="'Liberation Sans', Arial, Helvetica, sans-serif" font-size="21" text-anchor="end" stroke="#000" stroke-width="0.45">0.0</text>
<text x="89.3" y="363.58" font-family="'Liberation Sans', Arial, Helvetica, sans-serif" font-size="21" text-anchor="end" stroke="#000" stroke-width="0.45">0.2</text>
<text x="89.3" y="311.76" font-family="'Liberation Sans', Arial, Helvetica, sans-serif" font-size="21" text-anchor="end" stroke="#000" stroke-width="0.45">0.4</text>
<text x="89.3" y="259.94" font-family="'Liberation Sans', Arial, Helvetica, sans-serif" font-size="21" text-anchor="end" stroke="#000" stroke-width="0.45">0.6</text>
<text x="89.3" y="208.12" font-family="'Liberation Sans', Arial, Helvetica, sans-serif" font-size="21" text-anchor="end" stroke="#000" stroke-width="0.45">0.8</text>
<text x="89.3" y="156.30" font-family="'Liberation Sans', Arial, Helvetica, sans-serif" font-size="21" text-anchor="end" stroke="#000" stroke-width="0.45">1.0</text>
<text x="89.3" y="1078.80" font-family="'Liberation Sans', Arial, Helvetica, sans-serif" font-size="21" text-anchor="end" stroke="#000" stroke-width="0.45">0.0</text>
<text x="89.3" y="1026.98" font-family="'Liberation Sans', Arial, Helvetica, sans-serif" font-size="21" text-anchor="end" stroke="#000" stroke-width="0.45">0.2</text>
<text x="89.3" y="975.16" font-family="'Liberation Sans', Arial, Helvetica, sans-serif" font-size="21" text-anchor="end" stroke="#000" stroke-width="0.45">0.4</text>
<text x="89.3" y="923.34" font-family="'Liberation Sans', Arial, Helvetica, sans-serif" font-size="21" text-anchor="end" stroke="#000" stroke-width="0.45">0.6</text>
<text x="89.3" y="871.52" font-family="'Liberation Sans', Arial, Helvetica, sans-serif" font-size="21" text-anchor="end" stroke="#000" stroke-width="0.45">0.8</text>
<text x="89.3" y="819.70" font-family="'Liberation Sans', Arial, Helvetica, sans-serif" font-size="21" text-anchor="end" stroke="#000" stroke-width="0.45">1.0</text>
<text x="1563.3" y="747.10" font-family="'Liberation Sans', Arial, Helvetica, sans-serif" font-size="21" stroke="#000" stroke-width="0.45">0.0</text>
<text x="1563.3" y="695.28" font-family="'Liberation Sans', Arial, Helvetica, sans-serif" font-size="21" stroke="#000" stroke-width="0.45">0.2</text>
<text x="1563.3" y="643.46" font-family="'Liberation Sans', Arial, Helvetica, sans-serif" font-size="21" stroke="#000" stroke-width="0.45">0.4</text>
<text x="1563.3" y="591.64" font-family="'Liberation Sans', Arial, Helvetica, sans-serif" font-size="21" stroke="#000" stroke-width="0.45">0.6</text>
<text x="1563.3" y="539.82" font-family="'Liberation Sans', Arial, Helvetica, sans-serif" font-size="21" stroke="#000" stroke-width="0.45">0.8</text>
<text x="1563.3" y="488.00" font-family="'Liberation Sans', Arial, Helvetica, sans-serif" font-size="21" stroke="#000" stroke-width="0.45">1.0</text>
<text transform="translate(29.7,610.2) rotate(-90)" font-family="'Liberation Sans', Arial, Helvetica, sans-serif" font-size="30" text-anchor="middle" textLength="50.5" lengthAdjust="spacingAndGlyphs" stroke="#000" stroke-width="0.45">P(θ)</text>
<text x="1632.4" y="572.20" font-family="'Liberation Sans', Arial, Helvetica, sans-serif" font-size="24" stroke="#000" stroke-width="0.45">P1</text>
<line x1="1692.5" y1="564.10" x2="1765" y2="564.10" stroke="#4ea2ff" stroke-width="2.6"/>
<text x="1632.4" y="596.15" font-family="'Liberation Sans', Arial, Helvetica, sans-serif" font-size="24" stroke="#000" stroke-width="0.45">P2</text>
<line x1="1692.5" y1="587.60" x2="1765" y2="587.60" stroke="#ff4dff" stroke-width="2.6"/>
<text x="1632.4" y="620.10" font-family="'Liberation Sans', Arial, Helvetica, sans-serif" font-size="24" stroke="#000" stroke-width="0.45">P3</text>
<line x1="1692.5" y1="611.10" x2="1765" y2="611.10" stroke="#3f8a3f" stroke-width="2.6"/>
<text x="1632.4" y="644.05" font-family="'Liberation Sans', Arial, Helvetica, sans-serif" font-size="24" stroke="#000" stroke-width="0.45">P4</text>
<line x1="1692.5" y1="634.60" x2="1765" y2="634.60" stroke="#ff4545" stroke-width="2.6"/>
<text x="21.6" y="1286.4" font-family="'Liberation Sans', Arial, Helvetica, sans-serif" font-weight="bold" font-size="30.5">B</text>
<text x="599.8" y="1310.6" font-family="'Liberation Sans', Arial, Helvetica, sans-serif" font-weight="bold" font-size="22" textLength="485.7" lengthAdjust="spacingAndGlyphs">Test Information and Standard Errors</text>
<polyline points="218.20,2114.00 224.47,2114.00 230.75,2114.00 237.02,2114.00 243.30,2114.00 249.57,2114.00 255.85,2114.00 262.12,2114.00 268.39,2114.00 274.67,2114.00 280.94,2114.00 287.22,2114.00 293.49,2114.00 299.77,2114.00 306.04,2114.00 312.32,2114.00 318.59,2114.00 324.86,2114.00 331.14,2114.00 337.41,2114.00 343.69,2114.00 349.96,2114.00 356.24,2114.00 362.51,2114.00 368.78,2114.00 375.06,2114.00 381.33,2114.00 387.61,2113.99 393.88,2113.99 400.16,2113.99 406.43,2113.99 412.71,2113.99 418.98,2113.99 425.25,2113.98 431.53,2113.98 437.80,2113.97 444.08,2113.97 450.35,2113.96 456.63,2113.95 462.90,2113.95 469.17,2113.93 475.45,2113.92 481.72,2113.90 488.00,2113.88 494.27,2113.86 500.55,2113.83 506.82,2113.79 513.10,2113.74 519.37,2113.69 525.64,2113.62 531.92,2113.54 538.19,2113.45 544.47,2113.33 550.74,2113.19 557.02,2113.02 563.29,2112.81 569.56,2112.55 575.84,2112.25 582.11,2111.88 588.39,2111.43 594.66,2110.90 600.94,2110.25 607.21,2109.48 613.49,2108.55 619.76,2107.44 626.03,2106.12 632.31,2104.55 638.58,2102.68 644.86,2100.48 651.13,2097.87 657.41,2094.79 663.68,2091.12 669.95,2086.75 676.23,2081.46 682.50,2074.96 688.78,2066.81 695.05,2056.37 701.33,2042.70 707.60,2024.55 713.88,2000.35 720.15,1968.45 726.42,1927.77 732.70,1878.68 738.97,1823.78 745.25,1766.93 751.52,1710.22 757.80,1651.62 764.07,1588.40 770.34,1525.54 776.62,1478.68 782.89,1463.13 789.17,1479.20 795.44,1512.74 801.72,1545.78 807.99,1562.66 814.27,1552.58 820.54,1514.30 826.81,1461.03 833.09,1417.87 839.36,1407.39 845.64,1435.74 851.91,1494.52 858.19,1570.98 864.46,1653.85 870.73,1734.46 877.01,1807.08 883.28,1868.69 889.56,1918.54 895.83,1957.28 902.11,1986.30 908.38,2007.24 914.66,2021.75 920.93,2031.39 927.20,2037.60 933.48,2041.73 939.75,2044.94 946.03,2048.17 952.30,2052.03 958.58,2056.78 964.85,2062.38 971.12,2068.54 977.40,2074.89 983.67,2081.07 989.95,2086.78 996.22,2091.86 1002.50,2096.23 1008.77,2099.88 1015.05,2102.88 1021.32,2105.31 1027.59,2107.24 1033.87,2108.76 1040.14,2109.95 1046.42,2110.88 1052.69,2111.60 1058.97,2112.16 1065.24,2112.59 1071.51,2112.92 1077.79,2113.17 1084.06,2113.37 1090.34,2113.51 1096.61,2113.63 1102.89,2113.72 1109.16,2113.78 1115.44,2113.83 1121.71,2113.87 1127.98,2113.90 1134.26,2113.93 1140.53,2113.94 1146.81,2113.96 1153.08,2113.97 1159.36,2113.97 1165.63,2113.98 1171.90,2113.98 1178.18,2113.99 1184.45,2113.99 1190.73,2113.99 1197.00,2113.99 1203.28,2114.00 1209.55,2114.00 1215.83,2114.00 1222.10,2114.00 1228.37,2114.00 1234.65,2114.00 1240.92,2114.00 1247.20,2114.00 1253.47,2114.00 1259.75,2114.00 1266.02,2114.00 1272.29,2114.00 1278.57,2114.00 1284.84,2114.00 1291.12,2114.00 1297.39,2114.00 1303.67,2114.00 1309.94,2114.00 1316.22,2114.00 1322.49,2114.00 1328.76,2114.00 1335.04,2114.00 1341.31,2114.00 1347.59,2114.00 1353.86,2114.00 1360.14,2114.00 1366.41,2114.00 1372.68,2114.00 1378.96,2114.00 1385.23,2114.00 1391.51,2114.00 1397.78,2114.00 1404.06,2114.00 1410.33,2114.00 1416.61,2114.00 1422.88,2114.00 1429.15,2114.00 1435.43,2114.00 1441.70,2114.00 1447.98,2114.00 1454.25,2114.00 1460.53,2114.00 1466.80,2114.00" fill="none" stroke="#3c9cff" stroke-width="2" stroke-linejoin="round"/>
<polyline points="218.20,2056.69 220.28,2058.38 222.37,2060.03 224.45,2061.63 226.54,2063.18 228.62,2064.68 230.71,2066.14 232.79,2067.56 234.88,2068.93 236.96,2070.27 239.04,2071.56 241.13,2072.82 243.21,2074.04 245.30,2075.22 247.38,2076.37 249.47,2077.48 251.55,2078.56 253.64,2079.61 255.72,2080.63 257.81,2081.62 259.89,2082.58 261.97,2083.51 264.06,2084.41 266.14,2085.29 268.23,2086.14 270.31,2086.96 272.40,2087.76 274.48,2088.54 276.57,2089.29 278.65,2090.02 280.73,2090.73 282.82,2091.42 284.90,2092.09 286.99,2092.74 289.07,2093.37 291.16,2093.98 293.24,2094.57 295.33,2095.15 297.41,2095.70 299.49,2096.25 301.58,2096.77 303.66,2097.28 305.75,2097.78 307.83,2098.26 309.92,2098.72 312.00,2099.18 314.09,2099.61 316.17,2100.04 318.25,2100.45 320.34,2100.85 322.42,2101.24 324.51,2101.62 326.59,2101.99 328.68,2102.34 330.76,2102.69 332.85,2103.02 334.93,2103.35 337.02,2103.66 339.10,2103.97 341.18,2104.27 343.27,2104.55 345.35,2104.83 347.44,2105.11 349.52,2105.37 351.61,2105.62 353.69,2105.87 355.78,2106.11 357.86,2106.35 359.94,2106.57 362.03,2106.79 364.11,2107.01 366.20,2107.21 368.28,2107.41 370.37,2107.61 372.45,2107.80 374.54,2107.98 376.62,2108.16 378.70,2108.33 380.79,2108.50 382.87,2108.66 384.96,2108.82 387.04,2108.97 389.13,2109.12 391.21,2109.27 393.30,2109.41 395.38,2109.54 397.46,2109.68 399.55,2109.80 401.63,2109.93 403.72,2110.05 405.80,2110.17 407.89,2110.28 409.97,2110.39 412.06,2110.50 414.14,2110.60 416.23,2110.70 418.31,2110.80 420.39,2110.89 422.48,2110.98 424.56,2111.07 426.65,2111.16 428.73,2111.24 430.82,2111.33 432.90,2111.41 434.99,2111.48 437.07,2111.56 439.15,2111.63 441.24,2111.70 443.32,2111.77 445.41,2111.83 447.49,2111.90 449.58,2111.96 451.66,2112.02 453.75,2112.08 455.83,2112.14 457.91,2112.19 460.00,2112.24 462.08,2112.30 464.17,2112.35 466.25,2112.40 468.34,2112.44 470.42,2112.49 472.51,2112.53 474.59,2112.58 476.67,2112.62 478.76,2112.66 480.84,2112.70 482.93,2112.74 485.01,2112.78 487.10,2112.81 489.18,2112.85 491.27,2112.88 493.35,2112.91 495.44,2112.95 497.52,2112.98 499.60,2113.01 501.69,2113.04 503.77,2113.07 505.86,2113.09 507.94,2113.12 510.03,2113.15 512.11,2113.17 514.20,2113.20 516.28,2113.22 518.36,2113.24 520.45,2113.27 522.53,2113.29 524.62,2113.31 526.70,2113.33 528.79,2113.35 530.87,2113.37 532.96,2113.39 535.04,2113.40 537.12,2113.42 539.21,2113.44 541.29,2113.46 543.38,2113.47 545.46,2113.49 547.55,2113.50 549.63,2113.52 551.72,2113.53 553.80,2113.55 555.88,2113.56 557.97,2113.57 560.05,2113.59 562.14,2113.60 564.22,2113.61 566.31,2113.62 568.39,2113.63 570.48,2113.64 572.56,2113.65 574.65,2113.66 576.73,2113.67 578.81,2113.68 580.90,2113.69 582.98,2113.70 585.07,2113.71 587.15,2113.72 589.24,2113.73 591.32,2113.74 593.41,2113.74 595.49,2113.75 597.57,2113.76 599.66,2113.77 601.74,2113.77 603.83,2113.78 605.91,2113.79 608.00,2113.79 610.08,2113.80 612.17,2113.80 614.25,2113.81 616.33,2113.82 618.42,2113.82 620.50,2113.83 622.59,2113.83 624.67,2113.84 626.76,2113.84 628.84,2113.85 630.93,2113.85 633.01,2113.86 635.09,2113.86 637.18,2113.86 639.26,2113.87 641.35,2113.87 643.43,2113.88 645.52,2113.88 647.60,2113.88 649.69,2113.89 651.77,2113.89 653.86,2113.89 655.94,2113.90 658.02,2113.90 660.11,2113.90 662.19,2113.90 664.28,2113.91 666.36,2113.91 668.45,2113.91 670.53,2113.92 672.62,2113.92 674.70,2113.92 676.78,2113.92 678.87,2113.93 680.95,2113.93 683.04,2113.93 685.12,2113.93 687.21,2113.93 689.29,2113.94 691.38,2113.94 693.46,2113.94 695.54,2113.94 697.63,2113.94 699.71,2113.94 701.80,2113.95 703.88,2113.95 705.97,2113.95 708.05,2113.95 710.14,2113.95 712.22,2113.95 714.30,2113.96 716.39,2113.96 718.47,2113.96 720.56,2113.96 722.64,2113.96 724.73,2113.96 726.81,2113.96 728.90,2113.96 730.98,2113.96 733.07,2113.97 735.15,2113.97 737.23,2113.97 739.32,2113.97 741.40,2113.97 743.49,2113.97 745.57,2113.97 747.66,2113.97 749.74,2113.97 751.83,2113.97 753.91,2113.97 755.99,2113.98 758.08,2113.98 760.16,2113.98 762.25,2113.98 764.33,2113.98 766.42,2113.98 768.50,2113.98 770.59,2113.98 772.67,2113.98 774.75,2113.98 776.84,2113.98 778.92,2113.98 781.01,2113.98 783.09,2113.98 785.18,2113.98 787.26,2113.98 789.35,2113.98 791.43,2113.98 793.51,2113.99 795.60,2113.99 797.68,2113.99 799.77,2113.99 801.85,2113.99 803.94,2113.99 806.02,2113.99 808.11,2113.99 810.19,2113.99 812.28,2113.99 814.36,2113.99 816.44,2113.99 818.53,2113.99 820.61,2113.99 822.70,2113.99 824.78,2113.99 826.87,2113.99 828.95,2113.99 831.04,2113.99 833.12,2113.99 835.20,2113.99 837.29,2113.99 839.37,2113.99 841.46,2113.99 843.54,2113.99 845.63,2113.99 847.71,2113.99 849.80,2113.99 851.88,2113.99 853.96,2113.99 856.05,2113.99 858.13,2113.99 860.22,2113.99 862.30,2113.99 864.39,2113.99 866.47,2113.99 868.56,2113.99 870.64,2113.99 872.72,2113.99 874.81,2113.99 876.89,2113.99 878.98,2113.99 881.06,2113.99 883.15,2113.99 885.23,2113.99 887.32,2113.99 889.40,2113.99 891.49,2113.99 893.57,2113.99 895.65,2113.99 897.74,2113.99 899.82,2113.99 901.91,2113.99 903.99,2113.99 906.08,2113.99 908.16,2113.99 910.25,2113.99 912.33,2113.99 914.41,2113.99 916.50,2113.99 918.58,2113.99 920.67,2113.99 922.75,2113.99 924.84,2113.99 926.92,2113.99 929.01,2113.99 931.09,2113.99 933.17,2113.99 935.26,2113.99 937.34,2113.99 939.43,2113.99 941.51,2113.99 943.60,2113.98 945.68,2113.98 947.77,2113.98 949.85,2113.98 951.93,2113.98 954.02,2113.98 956.10,2113.98 958.19,2113.98 960.27,2113.98 962.36,2113.98 964.44,2113.98 966.53,2113.98 968.61,2113.97 970.70,2113.97 972.78,2113.97 974.86,2113.97 976.95,2113.97 979.03,2113.97 981.12,2113.96 983.20,2113.96 985.29,2113.96 987.37,2113.96 989.46,2113.96 991.54,2113.95 993.62,2113.95 995.71,2113.95 997.79,2113.95 999.88,2113.95 1001.96,2113.94 1004.05,2113.94 1006.13,2113.94 1008.22,2113.93 1010.30,2113.93 1012.38,2113.93 1014.47,2113.92 1016.55,2113.92 1018.64,2113.91 1020.72,2113.91 1022.81,2113.91 1024.89,2113.90 1026.98,2113.90 1029.06,2113.89 1031.14,2113.88 1033.23,2113.88 1035.31,2113.87 1037.40,2113.87 1039.48,2113.86 1041.57,2113.85 1043.65,2113.84 1045.74,2113.84 1047.82,2113.83 1049.91,2113.82 1051.99,2113.81 1054.07,2113.80 1056.16,2113.79 1058.24,2113.78 1060.33,2113.77 1062.41,2113.76 1064.50,2113.75 1066.58,2113.74 1068.67,2113.72 1070.75,2113.71 1072.83,2113.69 1074.92,2113.68 1077.00,2113.66 1079.09,2113.65 1081.17,2113.63 1083.26,2113.61 1085.34,2113.59 1087.43,2113.57 1089.51,2113.55 1091.59,2113.53 1093.68,2113.51 1095.76,2113.48 1097.85,2113.46 1099.93,2113.43 1102.02,2113.40 1104.10,2113.38 1106.19,2113.35 1108.27,2113.31 1110.35,2113.28 1112.44,2113.25 1114.52,2113.21 1116.61,2113.17 1118.69,2113.13 1120.78,2113.09 1122.86,2113.05 1124.95,2113.01 1127.03,2112.96 1129.12,2112.91 1131.20,2112.86 1133.28,2112.80 1135.37,2112.75 1137.45,2112.69 1139.54,2112.63 1141.62,2112.56 1143.71,2112.50 1145.79,2112.43 1147.88,2112.35 1149.96,2112.28 1152.04,2112.20 1154.13,2112.12 1156.21,2112.03 1158.30,2111.94 1160.38,2111.84 1162.47,2111.74 1164.55,2111.64 1166.64,2111.53 1168.72,2111.42 1170.80,2111.30 1172.89,2111.18 1174.97,2111.05 1177.06,2110.92 1179.14,2110.78 1181.23,2110.63 1183.31,2110.48 1185.40,2110.32 1187.48,2110.15 1189.56,2109.98 1191.65,2109.80 1193.73,2109.61 1195.82,2109.42 1197.90,2109.21 1199.99,2109.00 1202.07,2108.78 1204.16,2108.55 1206.24,2108.31 1208.33,2108.05 1210.41,2107.79 1212.49,2107.52 1214.58,2107.23 1216.66,2106.94 1218.75,2106.63 1220.83,2106.30 1222.92,2105.97 1225.00,2105.62 1227.09,2105.25 1229.17,2104.87 1231.25,2104.48 1233.34,2104.07 1235.42,2103.64 1237.51,2103.19 1239.59,2102.73 1241.68,2102.24 1243.76,2101.74 1245.85,2101.21 1247.93,2100.67 1250.01,2100.10 1252.10,2099.51 1254.18,2098.89 1256.27,2098.25 1258.35,2097.58 1260.44,2096.89 1262.52,2096.17 1264.61,2095.42 1266.69,2094.64 1268.77,2093.83 1270.86,2092.98 1272.94,2092.11 1275.03,2091.19 1277.11,2090.25 1279.20,2089.26 1281.28,2088.23 1283.37,2087.17 1285.45,2086.06 1287.54,2084.91 1289.62,2083.71 1291.70,2082.47 1293.79,2081.18 1295.87,2079.84 1297.96,2078.44 1300.04,2076.99 1302.13,2075.49 1304.21,2073.92 1306.30,2072.30 1308.38,2070.62 1310.46,2068.87 1312.55,2067.05 1314.63,2065.16 1316.72,2063.20 1318.80,2061.17 1320.89,2059.06 1322.97,2056.87 1325.06,2054.59 1327.14,2052.23 1329.22,2049.78 1331.31,2047.24 1333.39,2044.61 1335.48,2041.87 1337.56,2039.04 1339.65,2036.10 1341.73,2033.04 1343.82,2029.88 1345.90,2026.60 1347.98,2023.20 1350.07,2019.67 1352.15,2016.01 1354.24,2012.22 1356.32,2008.29 1358.41,2004.21 1360.49,1999.99 1362.58,1995.61 1364.66,1991.08 1366.75,1986.38 1368.83,1981.51 1370.91,1976.47 1373.00,1971.24 1375.08,1965.83 1377.17,1960.22 1379.25,1954.41 1381.34,1948.40 1383.42,1942.17 1385.51,1935.73 1387.59,1929.05 1389.67,1922.14 1391.76,1914.99 1393.84,1907.58 1395.93,1899.92 1398.01,1891.98 1400.10,1883.77 1402.18,1875.28 1404.27,1866.49 1406.35,1857.40 1408.43,1847.99 1410.52,1838.26 1412.60,1828.19 1414.69,1817.78 1416.77,1807.01 1418.86,1795.88 1420.94,1784.36 1423.03,1772.46 1425.11,1760.15 1427.19,1747.42 1429.28,1734.27 1431.36,1720.68 1433.45,1706.62 1435.53,1692.10 1437.62,1677.10 1439.70,1661.59 1441.79,1645.57 1443.87,1629.02 1445.96,1611.92 1448.04,1594.26 1450.12,1576.02 1452.21,1557.17 1454.29,1537.72 1456.38,1517.62 1458.46,1496.88 1460.55,1475.46 1462.63,1453.35 1464.72,1430.52 1466.80,1406.95" fill="none" stroke="#ff2a2a" stroke-width="2.6" stroke-dasharray="5.4 6.5"/>
<rect x="131.6" y="1358.3" width="1422.40" height="805.50" fill="none" stroke="#4a4a4a" stroke-width="2.2"/>
<path d="M218.20 1348.30V1358.30M218.20 2163.80V2173.30M426.30 1348.30V1358.30M426.30 2163.80V2173.30M634.40 1348.30V1358.30M634.40 2163.80V2173.30M842.50 1348.30V1358.30M842.50 2163.80V2173.30M1050.60 1348.30V1358.30M1050.60 2163.80V2173.30M1258.70 1348.30V1358.30M1258.70 2163.80V2173.30M1466.80 1348.30V1358.30M1466.80 2163.80V2173.30" stroke="#333" stroke-width="2" fill="none"/>
<text transform="translate(218.20,2194.6) scale(1.2,1)" font-family="'Liberation Sans', Arial, Helvetica, sans-serif" font-weight="bold" font-size="17.2" text-anchor="middle">−6</text>
<text transform="translate(426.30,2194.6) scale(1.2,1)" font-family="'Liberation Sans', Arial, Helvetica, sans-serif" font-weight="bold" font-size="17.2" text-anchor="middle">−4</text>
<text transform="translate(634.40,2194.6) scale(1.2,1)" font-family="'Liberation Sans', Arial, Helvetica, sans-serif" font-weight="bold" font-size="17.2" text-anchor="middle">−2</text>
<text transform="translate(842.50,2194.6) scale(1.2,1)" font-family="'Liberation Sans', Arial, Helvetica, sans-serif" font-weight="bold" font-size="17.2" text-anchor="middle">0</text>
<text transform="translate(1050.60,2194.6) scale(1.2,1)" font-family="'Liberation Sans', Arial, Helvetica, sans-serif" font-weight="bold" font-size="17.2" text-anchor="middle">2</text>
<text transform="translate(1258.70,2194.6) scale(1.2,1)" font-family="'Liberation Sans', Arial, Helvetica, sans-serif" font-weight="bold" font-size="17.2" text-anchor="middle">4</text>
<text transform="translate(1466.80,2194.6) scale(1.2,1)" font-family="'Liberation Sans', Arial, Helvetica, sans-serif" font-weight="bold" font-size="17.2" text-anchor="middle">6</text>
<text transform="translate(842.6,2227.2) scale(1.22,1)" font-family="'Liberation Sans', Arial, Helvetica, sans-serif" font-weight="bold" font-size="20" text-anchor="middle">θ</text>
<text x="109.2" y="2121.00" font-family="'Liberation Sans', Arial, Helvetica, sans-serif" font-size="20" text-anchor="end" fill="#1e90ff" stroke="#1e90ff" stroke-width="0.4">0</text>
<text x="109.2" y="1914.60" font-family="'Liberation Sans', Arial, Helvetica, sans-serif" font-size="20" text-anchor="end" fill="#1e90ff" stroke="#1e90ff" stroke-width="0.4">20</text>
<text x="109.2" y="1708.20" font-family="'Liberation Sans', Arial, Helvetica, sans-serif" font-size="20" text-anchor="end" fill="#1e90ff" stroke="#1e90ff" stroke-width="0.4">40</text>
<text x="109.2" y="1501.80" font-family="'Liberation Sans', Arial, Helvetica, sans-serif" font-size="20" text-anchor="end" fill="#1e90ff" stroke="#1e90ff" stroke-width="0.4">60</text>
<path d="M119.60 2114.00H131.60M119.60 1907.60H131.60M119.60 1701.20H131.60M119.60 1494.80H131.60" stroke="#1e90ff" stroke-width="2" fill="none"/>
<text x="1575.8" y="2120.90" font-family="'Liberation Sans', Arial, Helvetica, sans-serif" font-size="20" fill="#ff0000" stroke="#ff0000" stroke-width="0.4">0</text>
<text x="1575.8" y="1987.30" font-family="'Liberation Sans', Arial, Helvetica, sans-serif" font-size="20" fill="#ff0000" stroke="#ff0000" stroke-width="0.4">1000</text>
<text x="1575.8" y="1853.70" font-family="'Liberation Sans', Arial, Helvetica, sans-serif" font-size="20" fill="#ff0000" stroke="#ff0000" stroke-width="0.4">2000</text>
<text x="1575.8" y="1720.10" font-family="'Liberation Sans', Arial, Helvetica, sans-serif" font-size="20" fill="#ff0000" stroke="#ff0000" stroke-width="0.4">3000</text>
<text x="1575.8" y="1586.50" font-family="'Liberation Sans', Arial, Helvetica, sans-serif" font-size="20" fill="#ff0000" stroke="#ff0000" stroke-width="0.4">4000</text>
<text x="1575.8" y="1452.90" font-family="'Liberation Sans', Arial, Helvetica, sans-serif" font-size="20" fill="#ff0000" stroke="#ff0000" stroke-width="0.4">5000</text>
<path d="M1554.00 2114.00H1559.00M1554.00 1980.40H1559.00M1554.00 1846.80H1559.00M1554.00 1713.20H1559.00M1554.00 1579.60H1559.00M1554.00 1446.00H1559.00" stroke="#ff0000" stroke-width="2" fill="none"/>
<text transform="translate(42.4,1761) rotate(-90) scale(1,1.12)" font-family="'Liberation Sans', Arial, Helvetica, sans-serif" font-size="22.5" text-anchor="middle" fill="#1e90ff" stroke="#1e90ff" stroke-width="0.4">I(θ)</text>
<text transform="translate(1655.9,1762.5) rotate(-90) scale(1,1.22)" font-family="'Liberation Sans', Arial, Helvetica, sans-serif" font-size="20" text-anchor="middle" fill="#ff0000" stroke="#ff0000" stroke-width="0.4">SE(θ)</text>
</svg></body></html>
